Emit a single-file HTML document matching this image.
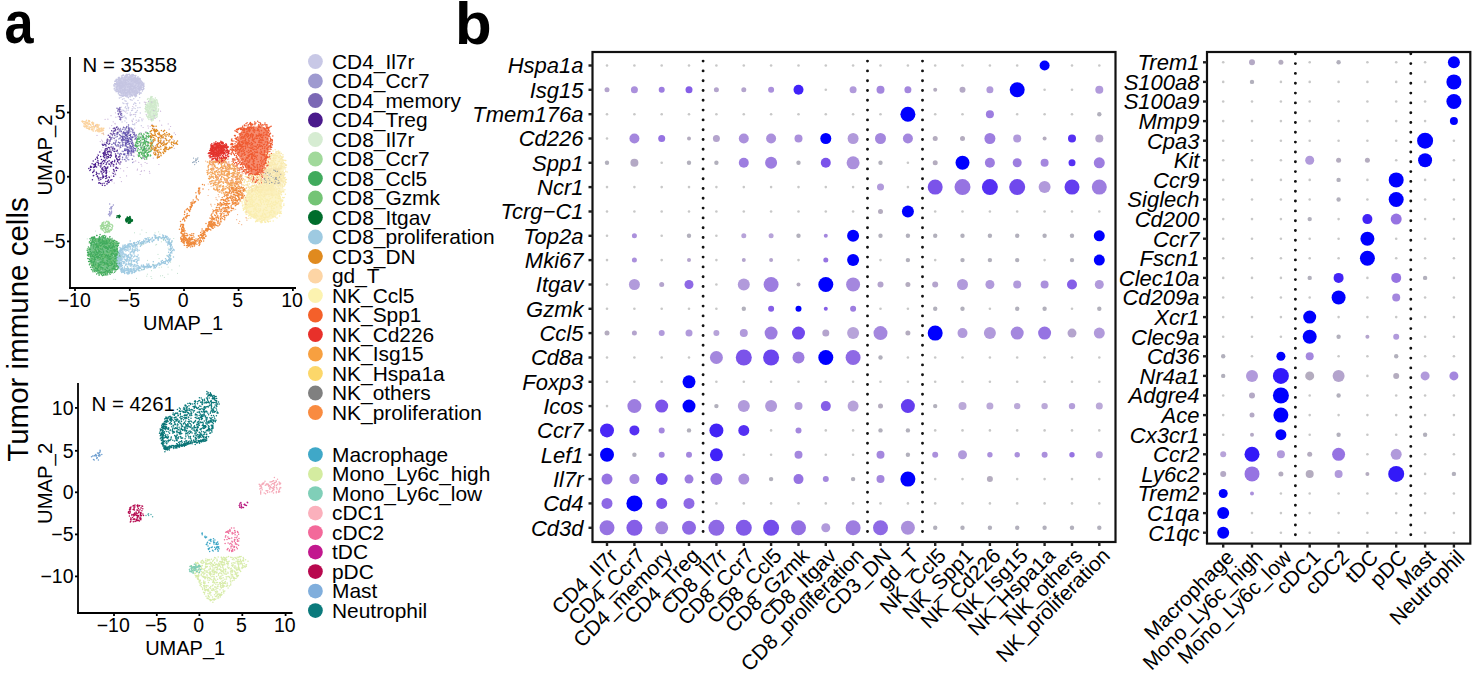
<!DOCTYPE html>
<html><head><meta charset="utf-8"><title>figure</title>
<style>html,body{margin:0;padding:0;background:#fff;overflow:hidden;} svg{display:block;} text{font-family:"Liberation Sans", sans-serif;}</style>
</head><body>
<svg width="1474" height="676" viewBox="0 0 1474 676" font-family='"Liberation Sans", sans-serif'>
<rect width="1474" height="676" fill="#fff"/>
<text transform="translate(4.6,43.4) scale(0.87,1)" font-size="60" font-weight="bold">a</text>
<text x="455.0" y="43.5" font-size="60" text-anchor="start" font-weight="bold" font-style="normal" fill="#000" >b</text>
<path d="M703.1 61.1h0M703.1 70.9h0M703.1 80.7h0M703.1 90.5h0M703.1 100.3h0M703.1 110.1h0M703.1 119.9h0M703.1 129.7h0M703.1 139.5h0M703.1 149.3h0M703.1 159.1h0M703.1 168.9h0M703.1 178.7h0M703.1 188.5h0M703.1 198.3h0M703.1 208.1h0M703.1 217.9h0M703.1 227.7h0M703.1 237.5h0M703.1 247.3h0M703.1 257.1h0M703.1 266.9h0M703.1 276.7h0M703.1 286.5h0M703.1 296.3h0M703.1 306.1h0M703.1 315.9h0M703.1 325.7h0M703.1 335.5h0M703.1 345.3h0M703.1 355.1h0M703.1 364.9h0M703.1 374.7h0M703.1 384.5h0M703.1 394.3h0M703.1 404.1h0M703.1 413.9h0M703.1 423.7h0M703.1 433.5h0M703.1 443.3h0M703.1 453.1h0M703.1 462.9h0M703.1 472.7h0M703.1 482.5h0M703.1 492.3h0M703.1 502.1h0M703.1 511.9h0M703.1 521.7h0M703.1 531.5h0" stroke="#111" stroke-width="2.9" stroke-linecap="round"/>
<path d="M867.5 61.1h0M867.5 70.9h0M867.5 80.7h0M867.5 90.5h0M867.5 100.3h0M867.5 110.1h0M867.5 119.9h0M867.5 129.7h0M867.5 139.5h0M867.5 149.3h0M867.5 159.1h0M867.5 168.9h0M867.5 178.7h0M867.5 188.5h0M867.5 198.3h0M867.5 208.1h0M867.5 217.9h0M867.5 227.7h0M867.5 237.5h0M867.5 247.3h0M867.5 257.1h0M867.5 266.9h0M867.5 276.7h0M867.5 286.5h0M867.5 296.3h0M867.5 306.1h0M867.5 315.9h0M867.5 325.7h0M867.5 335.5h0M867.5 345.3h0M867.5 355.1h0M867.5 364.9h0M867.5 374.7h0M867.5 384.5h0M867.5 394.3h0M867.5 404.1h0M867.5 413.9h0M867.5 423.7h0M867.5 433.5h0M867.5 443.3h0M867.5 453.1h0M867.5 462.9h0M867.5 472.7h0M867.5 482.5h0M867.5 492.3h0M867.5 502.1h0M867.5 511.9h0M867.5 521.7h0M867.5 531.5h0" stroke="#111" stroke-width="2.9" stroke-linecap="round"/>
<path d="M922.5 61.1h0M922.5 70.9h0M922.5 80.7h0M922.5 90.5h0M922.5 100.3h0M922.5 110.1h0M922.5 119.9h0M922.5 129.7h0M922.5 139.5h0M922.5 149.3h0M922.5 159.1h0M922.5 168.9h0M922.5 178.7h0M922.5 188.5h0M922.5 198.3h0M922.5 208.1h0M922.5 217.9h0M922.5 227.7h0M922.5 237.5h0M922.5 247.3h0M922.5 257.1h0M922.5 266.9h0M922.5 276.7h0M922.5 286.5h0M922.5 296.3h0M922.5 306.1h0M922.5 315.9h0M922.5 325.7h0M922.5 335.5h0M922.5 345.3h0M922.5 355.1h0M922.5 364.9h0M922.5 374.7h0M922.5 384.5h0M922.5 394.3h0M922.5 404.1h0M922.5 413.9h0M922.5 423.7h0M922.5 433.5h0M922.5 443.3h0M922.5 453.1h0M922.5 462.9h0M922.5 472.7h0M922.5 482.5h0M922.5 492.3h0M922.5 502.1h0M922.5 511.9h0M922.5 521.7h0M922.5 531.5h0" stroke="#111" stroke-width="2.9" stroke-linecap="round"/>
<circle cx="607.0" cy="65.5" r="1.3" fill="#c8c8c8"/>
<circle cx="634.4" cy="65.5" r="1.3" fill="#c8c8c8"/>
<circle cx="661.7" cy="65.5" r="1.3" fill="#c8c8c8"/>
<circle cx="689.0" cy="65.5" r="1.3" fill="#c8c8c8"/>
<circle cx="716.4" cy="65.5" r="1.3" fill="#c8c8c8"/>
<circle cx="743.8" cy="65.5" r="1.3" fill="#c8c8c8"/>
<circle cx="771.1" cy="65.5" r="1.3" fill="#c8c8c8"/>
<circle cx="798.5" cy="65.5" r="1.3" fill="#c8c8c8"/>
<circle cx="825.8" cy="65.5" r="1.3" fill="#c8c8c8"/>
<circle cx="853.1" cy="65.5" r="1.3" fill="#c8c8c8"/>
<circle cx="880.5" cy="65.5" r="1.3" fill="#c8c8c8"/>
<circle cx="907.9" cy="65.5" r="1.3" fill="#c8c8c8"/>
<circle cx="935.2" cy="65.5" r="1.3" fill="#c8c8c8"/>
<circle cx="962.5" cy="65.5" r="1.3" fill="#c8c8c8"/>
<circle cx="989.9" cy="65.5" r="1.3" fill="#c8c8c8"/>
<circle cx="1017.2" cy="65.5" r="1.3" fill="#c8c8c8"/>
<circle cx="1044.6" cy="65.5" r="5" fill="#0000ff"/>
<circle cx="1072.0" cy="65.5" r="1.3" fill="#c8c8c8"/>
<circle cx="1099.3" cy="65.5" r="1.3" fill="#c8c8c8"/>
<circle cx="607.0" cy="89.8" r="2.5" fill="#b4a4cd"/>
<circle cx="634.4" cy="89.8" r="3.5" fill="#ab90dc"/>
<circle cx="661.7" cy="89.8" r="3" fill="#9d7de0"/>
<circle cx="689.0" cy="89.8" r="3.5" fill="#855ee7"/>
<circle cx="716.4" cy="89.8" r="2.5" fill="#b4a4cd"/>
<circle cx="743.8" cy="89.8" r="2.5" fill="#b4a4cd"/>
<circle cx="771.1" cy="89.8" r="3" fill="#ab90dc"/>
<circle cx="798.5" cy="89.8" r="5" fill="#4122f9"/>
<circle cx="825.8" cy="89.8" r="1.3" fill="#c8c8c8"/>
<circle cx="853.1" cy="89.8" r="3.5" fill="#b19adb"/>
<circle cx="880.5" cy="89.8" r="4" fill="#a487de"/>
<circle cx="907.9" cy="89.8" r="3.5" fill="#a487de"/>
<circle cx="935.2" cy="89.8" r="2" fill="#b4acbf"/>
<circle cx="962.5" cy="89.8" r="3" fill="#b4a9c5"/>
<circle cx="989.9" cy="89.8" r="3.5" fill="#b19adb"/>
<circle cx="1017.2" cy="89.8" r="7.5" fill="#0000ff"/>
<circle cx="1044.6" cy="89.8" r="1.3" fill="#c8c8c8"/>
<circle cx="1072.0" cy="89.8" r="1.3" fill="#c8c8c8"/>
<circle cx="1099.3" cy="89.8" r="4" fill="#b19adb"/>
<circle cx="607.0" cy="114.2" r="1.3" fill="#c8c8c8"/>
<circle cx="634.4" cy="114.2" r="1.3" fill="#c8c8c8"/>
<circle cx="661.7" cy="114.2" r="1.3" fill="#c8c8c8"/>
<circle cx="689.0" cy="114.2" r="1.3" fill="#c8c8c8"/>
<circle cx="716.4" cy="114.2" r="1.3" fill="#c8c8c8"/>
<circle cx="743.8" cy="114.2" r="1.3" fill="#c8c8c8"/>
<circle cx="771.1" cy="114.2" r="1.3" fill="#c8c8c8"/>
<circle cx="798.5" cy="114.2" r="1.3" fill="#c8c8c8"/>
<circle cx="825.8" cy="114.2" r="1.3" fill="#c8c8c8"/>
<circle cx="853.1" cy="114.2" r="1.3" fill="#c8c8c8"/>
<circle cx="880.5" cy="114.2" r="1.3" fill="#c8c8c8"/>
<circle cx="907.9" cy="114.2" r="7.5" fill="#0000ff"/>
<circle cx="935.2" cy="114.2" r="1.3" fill="#c8c8c8"/>
<circle cx="962.5" cy="114.2" r="1.3" fill="#c8c8c8"/>
<circle cx="989.9" cy="114.2" r="4" fill="#9d7de0"/>
<circle cx="1017.2" cy="114.2" r="1.3" fill="#c8c8c8"/>
<circle cx="1044.6" cy="114.2" r="1.3" fill="#c8c8c8"/>
<circle cx="1072.0" cy="114.2" r="1.3" fill="#c8c8c8"/>
<circle cx="1099.3" cy="114.2" r="2.2" fill="#b2b0bc"/>
<circle cx="607.0" cy="138.5" r="1.3" fill="#c8c8c8"/>
<circle cx="634.4" cy="138.5" r="5" fill="#a487de"/>
<circle cx="661.7" cy="138.5" r="3.5" fill="#9673e2"/>
<circle cx="689.0" cy="138.5" r="2" fill="#b4acbf"/>
<circle cx="716.4" cy="138.5" r="3.5" fill="#b4a4cd"/>
<circle cx="743.8" cy="138.5" r="5" fill="#ab90dc"/>
<circle cx="771.1" cy="138.5" r="5" fill="#ab90dc"/>
<circle cx="798.5" cy="138.5" r="4" fill="#ab90dc"/>
<circle cx="825.8" cy="138.5" r="5.5" fill="#0000ff"/>
<circle cx="853.1" cy="138.5" r="5.5" fill="#b19adb"/>
<circle cx="880.5" cy="138.5" r="5.5" fill="#a487de"/>
<circle cx="907.9" cy="138.5" r="5" fill="#a487de"/>
<circle cx="935.2" cy="138.5" r="2.5" fill="#b4acbf"/>
<circle cx="962.5" cy="138.5" r="2.5" fill="#b4acbf"/>
<circle cx="989.9" cy="138.5" r="5.5" fill="#9d7de0"/>
<circle cx="1017.2" cy="138.5" r="4" fill="#b19adb"/>
<circle cx="1044.6" cy="138.5" r="2" fill="#b4acbf"/>
<circle cx="1072.0" cy="138.5" r="4" fill="#5530f3"/>
<circle cx="1099.3" cy="138.5" r="4" fill="#b4a4cd"/>
<circle cx="607.0" cy="162.8" r="2.2" fill="#b2b0bc"/>
<circle cx="634.4" cy="162.8" r="4" fill="#b4a9c5"/>
<circle cx="661.7" cy="162.8" r="1.3" fill="#c8c8c8"/>
<circle cx="689.0" cy="162.8" r="2.2" fill="#b2b0bc"/>
<circle cx="716.4" cy="162.8" r="2.2" fill="#b2b0bc"/>
<circle cx="743.8" cy="162.8" r="5" fill="#9d7de0"/>
<circle cx="771.1" cy="162.8" r="6" fill="#9d7de0"/>
<circle cx="798.5" cy="162.8" r="2.2" fill="#b2b0bc"/>
<circle cx="825.8" cy="162.8" r="5" fill="#7b53ea"/>
<circle cx="853.1" cy="162.8" r="6.5" fill="#ab90dc"/>
<circle cx="880.5" cy="162.8" r="2.2" fill="#b2b0bc"/>
<circle cx="907.9" cy="162.8" r="1.3" fill="#c8c8c8"/>
<circle cx="935.2" cy="162.8" r="2.5" fill="#b4acbf"/>
<circle cx="962.5" cy="162.8" r="7" fill="#0000ff"/>
<circle cx="989.9" cy="162.8" r="5" fill="#9d7de0"/>
<circle cx="1017.2" cy="162.8" r="4.5" fill="#9d7de0"/>
<circle cx="1044.6" cy="162.8" r="4" fill="#a487de"/>
<circle cx="1072.0" cy="162.8" r="3.5" fill="#5530f3"/>
<circle cx="1099.3" cy="162.8" r="5.5" fill="#9d7de0"/>
<circle cx="607.0" cy="187.1" r="1.3" fill="#c8c8c8"/>
<circle cx="634.4" cy="187.1" r="1.3" fill="#c8c8c8"/>
<circle cx="661.7" cy="187.1" r="1.3" fill="#c8c8c8"/>
<circle cx="689.0" cy="187.1" r="1.3" fill="#c8c8c8"/>
<circle cx="716.4" cy="187.1" r="1.3" fill="#c8c8c8"/>
<circle cx="743.8" cy="187.1" r="1.3" fill="#c8c8c8"/>
<circle cx="771.1" cy="187.1" r="1.3" fill="#c8c8c8"/>
<circle cx="798.5" cy="187.1" r="1.3" fill="#c8c8c8"/>
<circle cx="825.8" cy="187.1" r="1.3" fill="#c8c8c8"/>
<circle cx="853.1" cy="187.1" r="1.3" fill="#c8c8c8"/>
<circle cx="880.5" cy="187.1" r="3.5" fill="#b19adb"/>
<circle cx="907.9" cy="187.1" r="1.3" fill="#c8c8c8"/>
<circle cx="935.2" cy="187.1" r="7.5" fill="#7b53ea"/>
<circle cx="962.5" cy="187.1" r="8" fill="#9673e2"/>
<circle cx="989.9" cy="187.1" r="8" fill="#5530f3"/>
<circle cx="1017.2" cy="187.1" r="8" fill="#7048ed"/>
<circle cx="1044.6" cy="187.1" r="6" fill="#b19adb"/>
<circle cx="1072.0" cy="187.1" r="7.5" fill="#643def"/>
<circle cx="1099.3" cy="187.1" r="7.5" fill="#9d7de0"/>
<circle cx="607.0" cy="211.5" r="1.3" fill="#c8c8c8"/>
<circle cx="634.4" cy="211.5" r="1.3" fill="#c8c8c8"/>
<circle cx="661.7" cy="211.5" r="1.3" fill="#c8c8c8"/>
<circle cx="689.0" cy="211.5" r="1.3" fill="#c8c8c8"/>
<circle cx="716.4" cy="211.5" r="1.3" fill="#c8c8c8"/>
<circle cx="743.8" cy="211.5" r="1.3" fill="#c8c8c8"/>
<circle cx="771.1" cy="211.5" r="1.3" fill="#c8c8c8"/>
<circle cx="798.5" cy="211.5" r="1.3" fill="#c8c8c8"/>
<circle cx="825.8" cy="211.5" r="1.3" fill="#c8c8c8"/>
<circle cx="853.1" cy="211.5" r="1.3" fill="#c8c8c8"/>
<circle cx="880.5" cy="211.5" r="2.5" fill="#b4acbf"/>
<circle cx="907.9" cy="211.5" r="6" fill="#0000ff"/>
<circle cx="935.2" cy="211.5" r="1.3" fill="#c8c8c8"/>
<circle cx="962.5" cy="211.5" r="1.3" fill="#c8c8c8"/>
<circle cx="989.9" cy="211.5" r="1.3" fill="#c8c8c8"/>
<circle cx="1017.2" cy="211.5" r="1.3" fill="#c8c8c8"/>
<circle cx="1044.6" cy="211.5" r="1.3" fill="#c8c8c8"/>
<circle cx="1072.0" cy="211.5" r="1.3" fill="#c8c8c8"/>
<circle cx="1099.3" cy="211.5" r="1.3" fill="#c8c8c8"/>
<circle cx="607.0" cy="235.8" r="1.3" fill="#c8c8c8"/>
<circle cx="634.4" cy="235.8" r="2.5" fill="#ab90dc"/>
<circle cx="661.7" cy="235.8" r="1.3" fill="#c8c8c8"/>
<circle cx="689.0" cy="235.8" r="2.2" fill="#b2b0bc"/>
<circle cx="716.4" cy="235.8" r="1.3" fill="#c8c8c8"/>
<circle cx="743.8" cy="235.8" r="2.5" fill="#b7a3d9"/>
<circle cx="771.1" cy="235.8" r="2.5" fill="#b7a3d9"/>
<circle cx="798.5" cy="235.8" r="2.2" fill="#b2b0bc"/>
<circle cx="825.8" cy="235.8" r="2" fill="#a487de"/>
<circle cx="853.1" cy="235.8" r="6" fill="#0000ff"/>
<circle cx="880.5" cy="235.8" r="2.2" fill="#b2b0bc"/>
<circle cx="907.9" cy="235.8" r="2.2" fill="#b2b0bc"/>
<circle cx="935.2" cy="235.8" r="2.2" fill="#b2b0bc"/>
<circle cx="962.5" cy="235.8" r="2.2" fill="#b2b0bc"/>
<circle cx="989.9" cy="235.8" r="2.2" fill="#b2b0bc"/>
<circle cx="1017.2" cy="235.8" r="2.2" fill="#b2b0bc"/>
<circle cx="1044.6" cy="235.8" r="2.2" fill="#b2b0bc"/>
<circle cx="1072.0" cy="235.8" r="2.2" fill="#b2b0bc"/>
<circle cx="1099.3" cy="235.8" r="5.5" fill="#0000ff"/>
<circle cx="607.0" cy="260.1" r="1.3" fill="#c8c8c8"/>
<circle cx="634.4" cy="260.1" r="2.5" fill="#ab90dc"/>
<circle cx="661.7" cy="260.1" r="1.3" fill="#c8c8c8"/>
<circle cx="689.0" cy="260.1" r="2" fill="#b4a4cd"/>
<circle cx="716.4" cy="260.1" r="1.3" fill="#c8c8c8"/>
<circle cx="743.8" cy="260.1" r="2" fill="#b4a4cd"/>
<circle cx="771.1" cy="260.1" r="2" fill="#b4a4cd"/>
<circle cx="798.5" cy="260.1" r="1.3" fill="#c8c8c8"/>
<circle cx="825.8" cy="260.1" r="2.5" fill="#9673e2"/>
<circle cx="853.1" cy="260.1" r="6" fill="#0000ff"/>
<circle cx="880.5" cy="260.1" r="1.3" fill="#c8c8c8"/>
<circle cx="907.9" cy="260.1" r="2.2" fill="#b2b0bc"/>
<circle cx="935.2" cy="260.1" r="1.3" fill="#c8c8c8"/>
<circle cx="962.5" cy="260.1" r="2.2" fill="#b2b0bc"/>
<circle cx="989.9" cy="260.1" r="2.2" fill="#b2b0bc"/>
<circle cx="1017.2" cy="260.1" r="2.2" fill="#b2b0bc"/>
<circle cx="1044.6" cy="260.1" r="1.3" fill="#c8c8c8"/>
<circle cx="1072.0" cy="260.1" r="2.2" fill="#b2b0bc"/>
<circle cx="1099.3" cy="260.1" r="5.5" fill="#0000ff"/>
<circle cx="607.0" cy="284.5" r="1.3" fill="#c8c8c8"/>
<circle cx="634.4" cy="284.5" r="5.5" fill="#b19adb"/>
<circle cx="661.7" cy="284.5" r="2.5" fill="#b4a4cd"/>
<circle cx="689.0" cy="284.5" r="4.5" fill="#8e69e5"/>
<circle cx="716.4" cy="284.5" r="1.3" fill="#c8c8c8"/>
<circle cx="743.8" cy="284.5" r="6" fill="#b19adb"/>
<circle cx="771.1" cy="284.5" r="7.5" fill="#9d7de0"/>
<circle cx="798.5" cy="284.5" r="2" fill="#b4acbf"/>
<circle cx="825.8" cy="284.5" r="7.5" fill="#0000ff"/>
<circle cx="853.1" cy="284.5" r="7" fill="#a487de"/>
<circle cx="880.5" cy="284.5" r="3" fill="#b4a4cd"/>
<circle cx="907.9" cy="284.5" r="2.5" fill="#b4acbf"/>
<circle cx="935.2" cy="284.5" r="3" fill="#b4a4cd"/>
<circle cx="962.5" cy="284.5" r="5.5" fill="#b19adb"/>
<circle cx="989.9" cy="284.5" r="4.5" fill="#b19adb"/>
<circle cx="1017.2" cy="284.5" r="4" fill="#b19adb"/>
<circle cx="1044.6" cy="284.5" r="4" fill="#ab90dc"/>
<circle cx="1072.0" cy="284.5" r="5" fill="#855ee7"/>
<circle cx="1099.3" cy="284.5" r="4.5" fill="#b19adb"/>
<circle cx="607.0" cy="308.8" r="1.3" fill="#c8c8c8"/>
<circle cx="634.4" cy="308.8" r="1.3" fill="#c8c8c8"/>
<circle cx="661.7" cy="308.8" r="1.3" fill="#c8c8c8"/>
<circle cx="689.0" cy="308.8" r="1.3" fill="#c8c8c8"/>
<circle cx="716.4" cy="308.8" r="1.3" fill="#c8c8c8"/>
<circle cx="743.8" cy="308.8" r="2.2" fill="#b2b0bc"/>
<circle cx="771.1" cy="308.8" r="3" fill="#855ee7"/>
<circle cx="798.5" cy="308.8" r="3" fill="#0000ff"/>
<circle cx="825.8" cy="308.8" r="2" fill="#855ee7"/>
<circle cx="853.1" cy="308.8" r="3" fill="#9d7de0"/>
<circle cx="880.5" cy="308.8" r="1.3" fill="#c8c8c8"/>
<circle cx="907.9" cy="308.8" r="1.3" fill="#c8c8c8"/>
<circle cx="935.2" cy="308.8" r="2.2" fill="#b2b0bc"/>
<circle cx="962.5" cy="308.8" r="2.2" fill="#b2b0bc"/>
<circle cx="989.9" cy="308.8" r="1.3" fill="#c8c8c8"/>
<circle cx="1017.2" cy="308.8" r="2.2" fill="#b2b0bc"/>
<circle cx="1044.6" cy="308.8" r="2.2" fill="#b2b0bc"/>
<circle cx="1072.0" cy="308.8" r="1.3" fill="#c8c8c8"/>
<circle cx="1099.3" cy="308.8" r="2.2" fill="#b2b0bc"/>
<circle cx="607.0" cy="333.1" r="2.5" fill="#b4acbf"/>
<circle cx="634.4" cy="333.1" r="2.5" fill="#b4a4cd"/>
<circle cx="661.7" cy="333.1" r="3" fill="#b19adb"/>
<circle cx="689.0" cy="333.1" r="3.5" fill="#b19adb"/>
<circle cx="716.4" cy="333.1" r="3" fill="#b7a3d9"/>
<circle cx="743.8" cy="333.1" r="4" fill="#b19adb"/>
<circle cx="771.1" cy="333.1" r="6.5" fill="#9d7de0"/>
<circle cx="798.5" cy="333.1" r="6.5" fill="#7048ed"/>
<circle cx="825.8" cy="333.1" r="3.5" fill="#b4a4cd"/>
<circle cx="853.1" cy="333.1" r="6" fill="#b7a3d9"/>
<circle cx="880.5" cy="333.1" r="7" fill="#a487de"/>
<circle cx="907.9" cy="333.1" r="2.5" fill="#b4acbf"/>
<circle cx="935.2" cy="333.1" r="7.5" fill="#0000ff"/>
<circle cx="962.5" cy="333.1" r="5" fill="#b19adb"/>
<circle cx="989.9" cy="333.1" r="6" fill="#b19adb"/>
<circle cx="1017.2" cy="333.1" r="6.5" fill="#a487de"/>
<circle cx="1044.6" cy="333.1" r="6.5" fill="#9673e2"/>
<circle cx="1072.0" cy="333.1" r="4.5" fill="#b4a4cd"/>
<circle cx="1099.3" cy="333.1" r="5.5" fill="#b19adb"/>
<circle cx="607.0" cy="357.5" r="1.3" fill="#c8c8c8"/>
<circle cx="634.4" cy="357.5" r="1.3" fill="#c8c8c8"/>
<circle cx="661.7" cy="357.5" r="1.3" fill="#c8c8c8"/>
<circle cx="689.0" cy="357.5" r="1.3" fill="#c8c8c8"/>
<circle cx="716.4" cy="357.5" r="6.5" fill="#a487de"/>
<circle cx="743.8" cy="357.5" r="8" fill="#7b53ea"/>
<circle cx="771.1" cy="357.5" r="8" fill="#6b44ee"/>
<circle cx="798.5" cy="357.5" r="6" fill="#9d7de0"/>
<circle cx="825.8" cy="357.5" r="7.5" fill="#0000ff"/>
<circle cx="853.1" cy="357.5" r="7.5" fill="#8e69e5"/>
<circle cx="880.5" cy="357.5" r="2.2" fill="#b2b0bc"/>
<circle cx="907.9" cy="357.5" r="1.3" fill="#c8c8c8"/>
<circle cx="935.2" cy="357.5" r="1.3" fill="#c8c8c8"/>
<circle cx="962.5" cy="357.5" r="1.3" fill="#c8c8c8"/>
<circle cx="989.9" cy="357.5" r="1.3" fill="#c8c8c8"/>
<circle cx="1017.2" cy="357.5" r="1.3" fill="#c8c8c8"/>
<circle cx="1044.6" cy="357.5" r="1.3" fill="#c8c8c8"/>
<circle cx="1072.0" cy="357.5" r="1.3" fill="#c8c8c8"/>
<circle cx="1099.3" cy="357.5" r="1.3" fill="#c8c8c8"/>
<circle cx="607.0" cy="381.8" r="1.3" fill="#c8c8c8"/>
<circle cx="634.4" cy="381.8" r="1.3" fill="#c8c8c8"/>
<circle cx="661.7" cy="381.8" r="1.3" fill="#c8c8c8"/>
<circle cx="689.0" cy="381.8" r="6.5" fill="#0000ff"/>
<circle cx="716.4" cy="381.8" r="1.3" fill="#c8c8c8"/>
<circle cx="743.8" cy="381.8" r="1.3" fill="#c8c8c8"/>
<circle cx="771.1" cy="381.8" r="1.3" fill="#c8c8c8"/>
<circle cx="798.5" cy="381.8" r="1.3" fill="#c8c8c8"/>
<circle cx="825.8" cy="381.8" r="1.3" fill="#c8c8c8"/>
<circle cx="853.1" cy="381.8" r="1.3" fill="#c8c8c8"/>
<circle cx="880.5" cy="381.8" r="1.3" fill="#c8c8c8"/>
<circle cx="907.9" cy="381.8" r="1.3" fill="#c8c8c8"/>
<circle cx="935.2" cy="381.8" r="1.3" fill="#c8c8c8"/>
<circle cx="962.5" cy="381.8" r="1.3" fill="#c8c8c8"/>
<circle cx="989.9" cy="381.8" r="1.3" fill="#c8c8c8"/>
<circle cx="1017.2" cy="381.8" r="1.3" fill="#c8c8c8"/>
<circle cx="1044.6" cy="381.8" r="1.3" fill="#c8c8c8"/>
<circle cx="1072.0" cy="381.8" r="1.3" fill="#c8c8c8"/>
<circle cx="1099.3" cy="381.8" r="1.3" fill="#c8c8c8"/>
<circle cx="607.0" cy="406.1" r="1.3" fill="#c8c8c8"/>
<circle cx="634.4" cy="406.1" r="7" fill="#9d7de0"/>
<circle cx="661.7" cy="406.1" r="6.5" fill="#7b53ea"/>
<circle cx="689.0" cy="406.1" r="6.5" fill="#0000ff"/>
<circle cx="716.4" cy="406.1" r="2.2" fill="#b2b0bc"/>
<circle cx="743.8" cy="406.1" r="6" fill="#b19adb"/>
<circle cx="771.1" cy="406.1" r="6" fill="#b19adb"/>
<circle cx="798.5" cy="406.1" r="4" fill="#b19adb"/>
<circle cx="825.8" cy="406.1" r="5" fill="#855ee7"/>
<circle cx="853.1" cy="406.1" r="5.5" fill="#b7a3d9"/>
<circle cx="880.5" cy="406.1" r="2.5" fill="#b4acbf"/>
<circle cx="907.9" cy="406.1" r="7" fill="#643def"/>
<circle cx="935.2" cy="406.1" r="2.2" fill="#b2b0bc"/>
<circle cx="962.5" cy="406.1" r="4" fill="#bba9d8"/>
<circle cx="989.9" cy="406.1" r="3.5" fill="#bba9d8"/>
<circle cx="1017.2" cy="406.1" r="3.2" fill="#bba9d8"/>
<circle cx="1044.6" cy="406.1" r="3.2" fill="#bba9d8"/>
<circle cx="1072.0" cy="406.1" r="3.2" fill="#b49eda"/>
<circle cx="1099.3" cy="406.1" r="3.5" fill="#bba9d8"/>
<circle cx="607.0" cy="430.4" r="7" fill="#4927f7"/>
<circle cx="634.4" cy="430.4" r="5" fill="#5530f3"/>
<circle cx="661.7" cy="430.4" r="3" fill="#a487de"/>
<circle cx="689.0" cy="430.4" r="2.2" fill="#b2b0bc"/>
<circle cx="716.4" cy="430.4" r="7" fill="#4223f6"/>
<circle cx="743.8" cy="430.4" r="5.5" fill="#5530f3"/>
<circle cx="771.1" cy="430.4" r="1.3" fill="#c8c8c8"/>
<circle cx="798.5" cy="430.4" r="3" fill="#a487de"/>
<circle cx="825.8" cy="430.4" r="1.3" fill="#c8c8c8"/>
<circle cx="853.1" cy="430.4" r="1.3" fill="#c8c8c8"/>
<circle cx="880.5" cy="430.4" r="2.2" fill="#b2b0bc"/>
<circle cx="907.9" cy="430.4" r="2.2" fill="#b2b0bc"/>
<circle cx="935.2" cy="430.4" r="1.3" fill="#c8c8c8"/>
<circle cx="962.5" cy="430.4" r="1.3" fill="#c8c8c8"/>
<circle cx="989.9" cy="430.4" r="1.3" fill="#c8c8c8"/>
<circle cx="1017.2" cy="430.4" r="1.3" fill="#c8c8c8"/>
<circle cx="1044.6" cy="430.4" r="1.3" fill="#c8c8c8"/>
<circle cx="1072.0" cy="430.4" r="1.3" fill="#c8c8c8"/>
<circle cx="1099.3" cy="430.4" r="1.3" fill="#c8c8c8"/>
<circle cx="607.0" cy="454.8" r="7" fill="#0000ff"/>
<circle cx="634.4" cy="454.8" r="2.2" fill="#b2b0bc"/>
<circle cx="661.7" cy="454.8" r="3" fill="#a487de"/>
<circle cx="689.0" cy="454.8" r="3" fill="#a487de"/>
<circle cx="716.4" cy="454.8" r="6.5" fill="#4122f9"/>
<circle cx="743.8" cy="454.8" r="1.3" fill="#c8c8c8"/>
<circle cx="771.1" cy="454.8" r="1.3" fill="#c8c8c8"/>
<circle cx="798.5" cy="454.8" r="4" fill="#a487de"/>
<circle cx="825.8" cy="454.8" r="1.3" fill="#c8c8c8"/>
<circle cx="853.1" cy="454.8" r="1.3" fill="#c8c8c8"/>
<circle cx="880.5" cy="454.8" r="4" fill="#a487de"/>
<circle cx="907.9" cy="454.8" r="2.2" fill="#b2b0bc"/>
<circle cx="935.2" cy="454.8" r="3" fill="#ab90dc"/>
<circle cx="962.5" cy="454.8" r="4.5" fill="#b19adb"/>
<circle cx="989.9" cy="454.8" r="2.7" fill="#ab90dc"/>
<circle cx="1017.2" cy="454.8" r="2.7" fill="#ab90dc"/>
<circle cx="1044.6" cy="454.8" r="3" fill="#ab90dc"/>
<circle cx="1072.0" cy="454.8" r="2.7" fill="#9673e2"/>
<circle cx="1099.3" cy="454.8" r="3.5" fill="#b49eda"/>
<circle cx="607.0" cy="479.1" r="5.5" fill="#9673e2"/>
<circle cx="634.4" cy="479.1" r="5" fill="#a487de"/>
<circle cx="661.7" cy="479.1" r="6" fill="#6b44ee"/>
<circle cx="689.0" cy="479.1" r="4.5" fill="#9d7de0"/>
<circle cx="716.4" cy="479.1" r="6" fill="#9673e2"/>
<circle cx="743.8" cy="479.1" r="5.5" fill="#ab90dc"/>
<circle cx="771.1" cy="479.1" r="2.2" fill="#b2b0bc"/>
<circle cx="798.5" cy="479.1" r="5" fill="#9673e2"/>
<circle cx="825.8" cy="479.1" r="3" fill="#a487de"/>
<circle cx="853.1" cy="479.1" r="2.2" fill="#b2b0bc"/>
<circle cx="880.5" cy="479.1" r="4" fill="#a487de"/>
<circle cx="907.9" cy="479.1" r="7.5" fill="#0000ff"/>
<circle cx="935.2" cy="479.1" r="1.3" fill="#c8c8c8"/>
<circle cx="962.5" cy="479.1" r="1.3" fill="#c8c8c8"/>
<circle cx="989.9" cy="479.1" r="3" fill="#b4acbf"/>
<circle cx="1017.2" cy="479.1" r="1.3" fill="#c8c8c8"/>
<circle cx="1044.6" cy="479.1" r="1.3" fill="#c8c8c8"/>
<circle cx="1072.0" cy="479.1" r="1.3" fill="#c8c8c8"/>
<circle cx="1099.3" cy="479.1" r="1.3" fill="#c8c8c8"/>
<circle cx="607.0" cy="503.4" r="5.5" fill="#8e69e5"/>
<circle cx="634.4" cy="503.4" r="8" fill="#0000ff"/>
<circle cx="661.7" cy="503.4" r="5.5" fill="#7b53ea"/>
<circle cx="689.0" cy="503.4" r="5.5" fill="#8e69e5"/>
<circle cx="716.4" cy="503.4" r="1.3" fill="#c8c8c8"/>
<circle cx="743.8" cy="503.4" r="1.3" fill="#c8c8c8"/>
<circle cx="771.1" cy="503.4" r="1.3" fill="#c8c8c8"/>
<circle cx="798.5" cy="503.4" r="1.3" fill="#c8c8c8"/>
<circle cx="825.8" cy="503.4" r="1.3" fill="#c8c8c8"/>
<circle cx="853.1" cy="503.4" r="1.3" fill="#c8c8c8"/>
<circle cx="880.5" cy="503.4" r="1.3" fill="#c8c8c8"/>
<circle cx="907.9" cy="503.4" r="1.3" fill="#c8c8c8"/>
<circle cx="935.2" cy="503.4" r="1.3" fill="#c8c8c8"/>
<circle cx="962.5" cy="503.4" r="1.3" fill="#c8c8c8"/>
<circle cx="989.9" cy="503.4" r="1.3" fill="#c8c8c8"/>
<circle cx="1017.2" cy="503.4" r="1.3" fill="#c8c8c8"/>
<circle cx="1044.6" cy="503.4" r="1.3" fill="#c8c8c8"/>
<circle cx="1072.0" cy="503.4" r="1.3" fill="#c8c8c8"/>
<circle cx="1099.3" cy="503.4" r="1.3" fill="#c8c8c8"/>
<circle cx="607.0" cy="527.8" r="7.5" fill="#9673e2"/>
<circle cx="634.4" cy="527.8" r="8" fill="#855ee7"/>
<circle cx="661.7" cy="527.8" r="6.5" fill="#a487de"/>
<circle cx="689.0" cy="527.8" r="7" fill="#8e69e5"/>
<circle cx="716.4" cy="527.8" r="8" fill="#8e69e5"/>
<circle cx="743.8" cy="527.8" r="8" fill="#815ae8"/>
<circle cx="771.1" cy="527.8" r="8" fill="#744deb"/>
<circle cx="798.5" cy="527.8" r="7.5" fill="#936fe3"/>
<circle cx="825.8" cy="527.8" r="4.5" fill="#b19adb"/>
<circle cx="853.1" cy="527.8" r="7.5" fill="#9d7de0"/>
<circle cx="880.5" cy="527.8" r="7.5" fill="#8e69e5"/>
<circle cx="907.9" cy="527.8" r="7" fill="#ab90dc"/>
<circle cx="935.2" cy="527.8" r="2.2" fill="#b2b0bc"/>
<circle cx="962.5" cy="527.8" r="2.2" fill="#b2b0bc"/>
<circle cx="989.9" cy="527.8" r="2.2" fill="#b2b0bc"/>
<circle cx="1017.2" cy="527.8" r="2.2" fill="#b2b0bc"/>
<circle cx="1044.6" cy="527.8" r="2.2" fill="#b2b0bc"/>
<circle cx="1072.0" cy="527.8" r="2.2" fill="#b2b0bc"/>
<circle cx="1099.3" cy="527.8" r="2.2" fill="#b2b0bc"/>
<rect x="592.5" y="52" width="523.0" height="490" fill="none" stroke="#111" stroke-width="2.2"/>
<line x1="588.5" y1="65.5" x2="592.5" y2="65.5" stroke="#222" stroke-width="2.4" />
<line x1="588.5" y1="89.8" x2="592.5" y2="89.8" stroke="#222" stroke-width="2.4" />
<line x1="588.5" y1="114.2" x2="592.5" y2="114.2" stroke="#222" stroke-width="2.4" />
<line x1="588.5" y1="138.5" x2="592.5" y2="138.5" stroke="#222" stroke-width="2.4" />
<line x1="588.5" y1="162.8" x2="592.5" y2="162.8" stroke="#222" stroke-width="2.4" />
<line x1="588.5" y1="187.1" x2="592.5" y2="187.1" stroke="#222" stroke-width="2.4" />
<line x1="588.5" y1="211.5" x2="592.5" y2="211.5" stroke="#222" stroke-width="2.4" />
<line x1="588.5" y1="235.8" x2="592.5" y2="235.8" stroke="#222" stroke-width="2.4" />
<line x1="588.5" y1="260.1" x2="592.5" y2="260.1" stroke="#222" stroke-width="2.4" />
<line x1="588.5" y1="284.5" x2="592.5" y2="284.5" stroke="#222" stroke-width="2.4" />
<line x1="588.5" y1="308.8" x2="592.5" y2="308.8" stroke="#222" stroke-width="2.4" />
<line x1="588.5" y1="333.1" x2="592.5" y2="333.1" stroke="#222" stroke-width="2.4" />
<line x1="588.5" y1="357.5" x2="592.5" y2="357.5" stroke="#222" stroke-width="2.4" />
<line x1="588.5" y1="381.8" x2="592.5" y2="381.8" stroke="#222" stroke-width="2.4" />
<line x1="588.5" y1="406.1" x2="592.5" y2="406.1" stroke="#222" stroke-width="2.4" />
<line x1="588.5" y1="430.4" x2="592.5" y2="430.4" stroke="#222" stroke-width="2.4" />
<line x1="588.5" y1="454.8" x2="592.5" y2="454.8" stroke="#222" stroke-width="2.4" />
<line x1="588.5" y1="479.1" x2="592.5" y2="479.1" stroke="#222" stroke-width="2.4" />
<line x1="588.5" y1="503.4" x2="592.5" y2="503.4" stroke="#222" stroke-width="2.4" />
<line x1="588.5" y1="527.8" x2="592.5" y2="527.8" stroke="#222" stroke-width="2.4" />
<line x1="607.0" y1="542.0" x2="607.0" y2="546.0" stroke="#222" stroke-width="2.4" />
<line x1="634.4" y1="542.0" x2="634.4" y2="546.0" stroke="#222" stroke-width="2.4" />
<line x1="661.7" y1="542.0" x2="661.7" y2="546.0" stroke="#222" stroke-width="2.4" />
<line x1="689.0" y1="542.0" x2="689.0" y2="546.0" stroke="#222" stroke-width="2.4" />
<line x1="716.4" y1="542.0" x2="716.4" y2="546.0" stroke="#222" stroke-width="2.4" />
<line x1="743.8" y1="542.0" x2="743.8" y2="546.0" stroke="#222" stroke-width="2.4" />
<line x1="771.1" y1="542.0" x2="771.1" y2="546.0" stroke="#222" stroke-width="2.4" />
<line x1="798.5" y1="542.0" x2="798.5" y2="546.0" stroke="#222" stroke-width="2.4" />
<line x1="825.8" y1="542.0" x2="825.8" y2="546.0" stroke="#222" stroke-width="2.4" />
<line x1="853.1" y1="542.0" x2="853.1" y2="546.0" stroke="#222" stroke-width="2.4" />
<line x1="880.5" y1="542.0" x2="880.5" y2="546.0" stroke="#222" stroke-width="2.4" />
<line x1="907.9" y1="542.0" x2="907.9" y2="546.0" stroke="#222" stroke-width="2.4" />
<line x1="935.2" y1="542.0" x2="935.2" y2="546.0" stroke="#222" stroke-width="2.4" />
<line x1="962.5" y1="542.0" x2="962.5" y2="546.0" stroke="#222" stroke-width="2.4" />
<line x1="989.9" y1="542.0" x2="989.9" y2="546.0" stroke="#222" stroke-width="2.4" />
<line x1="1017.2" y1="542.0" x2="1017.2" y2="546.0" stroke="#222" stroke-width="2.4" />
<line x1="1044.6" y1="542.0" x2="1044.6" y2="546.0" stroke="#222" stroke-width="2.4" />
<line x1="1072.0" y1="542.0" x2="1072.0" y2="546.0" stroke="#222" stroke-width="2.4" />
<line x1="1099.3" y1="542.0" x2="1099.3" y2="546.0" stroke="#222" stroke-width="2.4" />
<text x="583.5" y="73.3" font-size="22" text-anchor="end" font-weight="normal" font-style="italic" fill="#000" >Hspa1a</text>
<text x="583.5" y="97.6" font-size="22" text-anchor="end" font-weight="normal" font-style="italic" fill="#000" >Isg15</text>
<text x="583.5" y="122.0" font-size="22" text-anchor="end" font-weight="normal" font-style="italic" fill="#000" >Tmem176a</text>
<text x="583.5" y="146.3" font-size="22" text-anchor="end" font-weight="normal" font-style="italic" fill="#000" >Cd226</text>
<text x="583.5" y="170.6" font-size="22" text-anchor="end" font-weight="normal" font-style="italic" fill="#000" >Spp1</text>
<text x="583.5" y="194.9" font-size="22" text-anchor="end" font-weight="normal" font-style="italic" fill="#000" >Ncr1</text>
<text x="583.5" y="219.3" font-size="22" text-anchor="end" font-weight="normal" font-style="italic" fill="#000" >Tcrg−C1</text>
<text x="583.5" y="243.6" font-size="22" text-anchor="end" font-weight="normal" font-style="italic" fill="#000" >Top2a</text>
<text x="583.5" y="267.9" font-size="22" text-anchor="end" font-weight="normal" font-style="italic" fill="#000" >Mki67</text>
<text x="583.5" y="292.3" font-size="22" text-anchor="end" font-weight="normal" font-style="italic" fill="#000" >Itgav</text>
<text x="583.5" y="316.6" font-size="22" text-anchor="end" font-weight="normal" font-style="italic" fill="#000" >Gzmk</text>
<text x="583.5" y="340.9" font-size="22" text-anchor="end" font-weight="normal" font-style="italic" fill="#000" >Ccl5</text>
<text x="583.5" y="365.3" font-size="22" text-anchor="end" font-weight="normal" font-style="italic" fill="#000" >Cd8a</text>
<text x="583.5" y="389.6" font-size="22" text-anchor="end" font-weight="normal" font-style="italic" fill="#000" >Foxp3</text>
<text x="583.5" y="413.9" font-size="22" text-anchor="end" font-weight="normal" font-style="italic" fill="#000" >Icos</text>
<text x="583.5" y="438.2" font-size="22" text-anchor="end" font-weight="normal" font-style="italic" fill="#000" >Ccr7</text>
<text x="583.5" y="462.6" font-size="22" text-anchor="end" font-weight="normal" font-style="italic" fill="#000" >Lef1</text>
<text x="583.5" y="486.9" font-size="22" text-anchor="end" font-weight="normal" font-style="italic" fill="#000" >Il7r</text>
<text x="583.5" y="511.2" font-size="22" text-anchor="end" font-weight="normal" font-style="italic" fill="#000" >Cd4</text>
<text x="583.5" y="535.6" font-size="22" text-anchor="end" font-weight="normal" font-style="italic" fill="#000" >Cd3d</text>
<text transform="translate(619.0,557.0) rotate(-45)" font-size="21" text-anchor="end">CD4_Il7r</text>
<text transform="translate(646.4,557.0) rotate(-45)" font-size="21" text-anchor="end">CD4_Ccr7</text>
<text transform="translate(673.7,557.0) rotate(-45)" font-size="21" text-anchor="end">CD4_memory</text>
<text transform="translate(701.0,557.0) rotate(-45)" font-size="21" text-anchor="end">CD4_Treg</text>
<text transform="translate(728.4,557.0) rotate(-45)" font-size="21" text-anchor="end">CD8_Il7r</text>
<text transform="translate(755.8,557.0) rotate(-45)" font-size="21" text-anchor="end">CD8_Ccr7</text>
<text transform="translate(783.1,557.0) rotate(-45)" font-size="21" text-anchor="end">CD8_Ccl5</text>
<text transform="translate(810.5,557.0) rotate(-45)" font-size="21" text-anchor="end">CD8_Gzmk</text>
<text transform="translate(837.8,557.0) rotate(-45)" font-size="21" text-anchor="end">CD8_Itgav</text>
<text transform="translate(865.1,557.0) rotate(-45)" font-size="21" text-anchor="end">CD8_proliferation</text>
<text transform="translate(892.5,557.0) rotate(-45)" font-size="21" text-anchor="end">CD3_DN</text>
<text transform="translate(919.9,557.0) rotate(-45)" font-size="21" text-anchor="end">gd_T</text>
<text transform="translate(947.2,557.0) rotate(-45)" font-size="21" text-anchor="end">NK_Ccl5</text>
<text transform="translate(974.5,557.0) rotate(-45)" font-size="21" text-anchor="end">NK_Spp1</text>
<text transform="translate(1001.9,557.0) rotate(-45)" font-size="21" text-anchor="end">NK_Cd226</text>
<text transform="translate(1029.2,557.0) rotate(-45)" font-size="21" text-anchor="end">NK_Isg15</text>
<text transform="translate(1056.6,557.0) rotate(-45)" font-size="21" text-anchor="end">NK_Hspa1a</text>
<text transform="translate(1084.0,557.0) rotate(-45)" font-size="21" text-anchor="end">NK_others</text>
<text transform="translate(1111.3,557.0) rotate(-45)" font-size="21" text-anchor="end">NK_proliferation</text>
<path d="M1295.4 53.8h0M1295.4 63.6h0M1295.4 73.4h0M1295.4 83.2h0M1295.4 93.1h0M1295.4 102.9h0M1295.4 112.7h0M1295.4 122.5h0M1295.4 132.3h0M1295.4 142.1h0M1295.4 152.0h0M1295.4 161.8h0M1295.4 171.6h0M1295.4 181.4h0M1295.4 191.2h0M1295.4 201.0h0M1295.4 210.9h0M1295.4 220.7h0M1295.4 230.5h0M1295.4 240.3h0M1295.4 250.1h0M1295.4 259.9h0M1295.4 269.8h0M1295.4 279.6h0M1295.4 289.4h0M1295.4 299.2h0M1295.4 309.0h0M1295.4 318.8h0M1295.4 328.6h0M1295.4 338.5h0M1295.4 348.3h0M1295.4 358.1h0M1295.4 367.9h0M1295.4 377.7h0M1295.4 387.5h0M1295.4 397.4h0M1295.4 407.2h0M1295.4 417.0h0M1295.4 426.8h0M1295.4 436.6h0M1295.4 446.4h0M1295.4 456.3h0M1295.4 466.1h0M1295.4 475.9h0M1295.4 485.7h0M1295.4 495.5h0M1295.4 505.3h0M1295.4 515.2h0M1295.4 525.0h0M1295.4 534.8h0" stroke="#111" stroke-width="2.9" stroke-linecap="round"/>
<path d="M1410.8 53.8h0M1410.8 63.6h0M1410.8 73.4h0M1410.8 83.2h0M1410.8 93.1h0M1410.8 102.9h0M1410.8 112.7h0M1410.8 122.5h0M1410.8 132.3h0M1410.8 142.1h0M1410.8 152.0h0M1410.8 161.8h0M1410.8 171.6h0M1410.8 181.4h0M1410.8 191.2h0M1410.8 201.0h0M1410.8 210.9h0M1410.8 220.7h0M1410.8 230.5h0M1410.8 240.3h0M1410.8 250.1h0M1410.8 259.9h0M1410.8 269.8h0M1410.8 279.6h0M1410.8 289.4h0M1410.8 299.2h0M1410.8 309.0h0M1410.8 318.8h0M1410.8 328.6h0M1410.8 338.5h0M1410.8 348.3h0M1410.8 358.1h0M1410.8 367.9h0M1410.8 377.7h0M1410.8 387.5h0M1410.8 397.4h0M1410.8 407.2h0M1410.8 417.0h0M1410.8 426.8h0M1410.8 436.6h0M1410.8 446.4h0M1410.8 456.3h0M1410.8 466.1h0M1410.8 475.9h0M1410.8 485.7h0M1410.8 495.5h0M1410.8 505.3h0M1410.8 515.2h0M1410.8 525.0h0M1410.8 534.8h0" stroke="#111" stroke-width="2.9" stroke-linecap="round"/>
<circle cx="1223.2" cy="62.3" r="1.3" fill="#c8c8c8"/>
<circle cx="1252.0" cy="62.3" r="3" fill="#b4a9c5"/>
<circle cx="1280.9" cy="62.3" r="2.5" fill="#b4acbf"/>
<circle cx="1309.7" cy="62.3" r="1.3" fill="#c8c8c8"/>
<circle cx="1338.6" cy="62.3" r="2.2" fill="#b2b0bc"/>
<circle cx="1367.4" cy="62.3" r="1.3" fill="#c8c8c8"/>
<circle cx="1396.2" cy="62.3" r="1.3" fill="#c8c8c8"/>
<circle cx="1425.1" cy="62.3" r="1.3" fill="#c8c8c8"/>
<circle cx="1453.9" cy="62.3" r="6" fill="#0000ff"/>
<circle cx="1223.2" cy="81.9" r="1.3" fill="#c8c8c8"/>
<circle cx="1252.0" cy="81.9" r="2.2" fill="#b2b0bc"/>
<circle cx="1280.9" cy="81.9" r="1.3" fill="#c8c8c8"/>
<circle cx="1309.7" cy="81.9" r="1.3" fill="#c8c8c8"/>
<circle cx="1338.6" cy="81.9" r="1.3" fill="#c8c8c8"/>
<circle cx="1367.4" cy="81.9" r="1.3" fill="#c8c8c8"/>
<circle cx="1396.2" cy="81.9" r="1.3" fill="#c8c8c8"/>
<circle cx="1425.1" cy="81.9" r="1.3" fill="#c8c8c8"/>
<circle cx="1453.9" cy="81.9" r="7.5" fill="#0000ff"/>
<circle cx="1223.2" cy="101.5" r="1.3" fill="#c8c8c8"/>
<circle cx="1252.0" cy="101.5" r="1.3" fill="#c8c8c8"/>
<circle cx="1280.9" cy="101.5" r="1.3" fill="#c8c8c8"/>
<circle cx="1309.7" cy="101.5" r="1.3" fill="#c8c8c8"/>
<circle cx="1338.6" cy="101.5" r="1.3" fill="#c8c8c8"/>
<circle cx="1367.4" cy="101.5" r="1.3" fill="#c8c8c8"/>
<circle cx="1396.2" cy="101.5" r="1.3" fill="#c8c8c8"/>
<circle cx="1425.1" cy="101.5" r="1.3" fill="#c8c8c8"/>
<circle cx="1453.9" cy="101.5" r="7.5" fill="#0000ff"/>
<circle cx="1223.2" cy="121.1" r="1.3" fill="#c8c8c8"/>
<circle cx="1252.0" cy="121.1" r="1.3" fill="#c8c8c8"/>
<circle cx="1280.9" cy="121.1" r="1.3" fill="#c8c8c8"/>
<circle cx="1309.7" cy="121.1" r="1.3" fill="#c8c8c8"/>
<circle cx="1338.6" cy="121.1" r="1.3" fill="#c8c8c8"/>
<circle cx="1367.4" cy="121.1" r="1.3" fill="#c8c8c8"/>
<circle cx="1396.2" cy="121.1" r="1.3" fill="#c8c8c8"/>
<circle cx="1425.1" cy="121.1" r="1.3" fill="#c8c8c8"/>
<circle cx="1453.9" cy="121.1" r="4" fill="#0000ff"/>
<circle cx="1223.2" cy="140.7" r="1.3" fill="#c8c8c8"/>
<circle cx="1252.0" cy="140.7" r="1.3" fill="#c8c8c8"/>
<circle cx="1280.9" cy="140.7" r="1.3" fill="#c8c8c8"/>
<circle cx="1309.7" cy="140.7" r="1.3" fill="#c8c8c8"/>
<circle cx="1338.6" cy="140.7" r="1.3" fill="#c8c8c8"/>
<circle cx="1367.4" cy="140.7" r="1.3" fill="#c8c8c8"/>
<circle cx="1396.2" cy="140.7" r="1.3" fill="#c8c8c8"/>
<circle cx="1425.1" cy="140.7" r="8" fill="#0000ff"/>
<circle cx="1453.9" cy="140.7" r="1.3" fill="#c8c8c8"/>
<circle cx="1223.2" cy="160.3" r="1.3" fill="#c8c8c8"/>
<circle cx="1252.0" cy="160.3" r="1.3" fill="#c8c8c8"/>
<circle cx="1280.9" cy="160.3" r="1.3" fill="#c8c8c8"/>
<circle cx="1309.7" cy="160.3" r="4.5" fill="#b19adb"/>
<circle cx="1338.6" cy="160.3" r="2.5" fill="#b4acbf"/>
<circle cx="1367.4" cy="160.3" r="2.5" fill="#b4acbf"/>
<circle cx="1396.2" cy="160.3" r="1.3" fill="#c8c8c8"/>
<circle cx="1425.1" cy="160.3" r="7" fill="#0000ff"/>
<circle cx="1453.9" cy="160.3" r="1.3" fill="#c8c8c8"/>
<circle cx="1223.2" cy="179.9" r="1.3" fill="#c8c8c8"/>
<circle cx="1252.0" cy="179.9" r="1.3" fill="#c8c8c8"/>
<circle cx="1280.9" cy="179.9" r="1.3" fill="#c8c8c8"/>
<circle cx="1309.7" cy="179.9" r="1.3" fill="#c8c8c8"/>
<circle cx="1338.6" cy="179.9" r="2.2" fill="#b2b0bc"/>
<circle cx="1367.4" cy="179.9" r="1.3" fill="#c8c8c8"/>
<circle cx="1396.2" cy="179.9" r="7.5" fill="#0000ff"/>
<circle cx="1425.1" cy="179.9" r="1.3" fill="#c8c8c8"/>
<circle cx="1453.9" cy="179.9" r="1.3" fill="#c8c8c8"/>
<circle cx="1223.2" cy="199.5" r="1.3" fill="#c8c8c8"/>
<circle cx="1252.0" cy="199.5" r="1.3" fill="#c8c8c8"/>
<circle cx="1280.9" cy="199.5" r="1.3" fill="#c8c8c8"/>
<circle cx="1309.7" cy="199.5" r="1.3" fill="#c8c8c8"/>
<circle cx="1338.6" cy="199.5" r="2.2" fill="#b2b0bc"/>
<circle cx="1367.4" cy="199.5" r="1.3" fill="#c8c8c8"/>
<circle cx="1396.2" cy="199.5" r="7.5" fill="#0000ff"/>
<circle cx="1425.1" cy="199.5" r="1.3" fill="#c8c8c8"/>
<circle cx="1453.9" cy="199.5" r="1.3" fill="#c8c8c8"/>
<circle cx="1223.2" cy="219.1" r="1.3" fill="#c8c8c8"/>
<circle cx="1252.0" cy="219.1" r="1.3" fill="#c8c8c8"/>
<circle cx="1280.9" cy="219.1" r="1.3" fill="#c8c8c8"/>
<circle cx="1309.7" cy="219.1" r="2.2" fill="#b2b0bc"/>
<circle cx="1338.6" cy="219.1" r="1.3" fill="#c8c8c8"/>
<circle cx="1367.4" cy="219.1" r="5" fill="#4223f6"/>
<circle cx="1396.2" cy="219.1" r="5.5" fill="#9673e2"/>
<circle cx="1425.1" cy="219.1" r="1.3" fill="#c8c8c8"/>
<circle cx="1453.9" cy="219.1" r="1.3" fill="#c8c8c8"/>
<circle cx="1223.2" cy="238.7" r="1.3" fill="#c8c8c8"/>
<circle cx="1252.0" cy="238.7" r="1.3" fill="#c8c8c8"/>
<circle cx="1280.9" cy="238.7" r="1.3" fill="#c8c8c8"/>
<circle cx="1309.7" cy="238.7" r="1.3" fill="#c8c8c8"/>
<circle cx="1338.6" cy="238.7" r="1.3" fill="#c8c8c8"/>
<circle cx="1367.4" cy="238.7" r="7" fill="#0000ff"/>
<circle cx="1396.2" cy="238.7" r="1.3" fill="#c8c8c8"/>
<circle cx="1425.1" cy="238.7" r="1.3" fill="#c8c8c8"/>
<circle cx="1453.9" cy="238.7" r="1.3" fill="#c8c8c8"/>
<circle cx="1223.2" cy="258.3" r="1.3" fill="#c8c8c8"/>
<circle cx="1252.0" cy="258.3" r="1.3" fill="#c8c8c8"/>
<circle cx="1280.9" cy="258.3" r="1.3" fill="#c8c8c8"/>
<circle cx="1309.7" cy="258.3" r="1.3" fill="#c8c8c8"/>
<circle cx="1338.6" cy="258.3" r="1.3" fill="#c8c8c8"/>
<circle cx="1367.4" cy="258.3" r="7.5" fill="#0000ff"/>
<circle cx="1396.2" cy="258.3" r="1.3" fill="#c8c8c8"/>
<circle cx="1425.1" cy="258.3" r="1.3" fill="#c8c8c8"/>
<circle cx="1453.9" cy="258.3" r="1.3" fill="#c8c8c8"/>
<circle cx="1223.2" cy="277.9" r="1.3" fill="#c8c8c8"/>
<circle cx="1252.0" cy="277.9" r="1.3" fill="#c8c8c8"/>
<circle cx="1280.9" cy="277.9" r="1.3" fill="#c8c8c8"/>
<circle cx="1309.7" cy="277.9" r="2.2" fill="#b2b0bc"/>
<circle cx="1338.6" cy="277.9" r="5" fill="#4223f6"/>
<circle cx="1367.4" cy="277.9" r="1.3" fill="#c8c8c8"/>
<circle cx="1396.2" cy="277.9" r="5" fill="#9673e2"/>
<circle cx="1425.1" cy="277.9" r="2.2" fill="#b2b0bc"/>
<circle cx="1453.9" cy="277.9" r="1.3" fill="#c8c8c8"/>
<circle cx="1223.2" cy="297.5" r="1.3" fill="#c8c8c8"/>
<circle cx="1252.0" cy="297.5" r="1.3" fill="#c8c8c8"/>
<circle cx="1280.9" cy="297.5" r="1.3" fill="#c8c8c8"/>
<circle cx="1309.7" cy="297.5" r="1.3" fill="#c8c8c8"/>
<circle cx="1338.6" cy="297.5" r="7" fill="#0000ff"/>
<circle cx="1367.4" cy="297.5" r="1.3" fill="#c8c8c8"/>
<circle cx="1396.2" cy="297.5" r="4" fill="#a487de"/>
<circle cx="1425.1" cy="297.5" r="1.3" fill="#c8c8c8"/>
<circle cx="1453.9" cy="297.5" r="1.3" fill="#c8c8c8"/>
<circle cx="1223.2" cy="317.1" r="1.3" fill="#c8c8c8"/>
<circle cx="1252.0" cy="317.1" r="1.3" fill="#c8c8c8"/>
<circle cx="1280.9" cy="317.1" r="1.3" fill="#c8c8c8"/>
<circle cx="1309.7" cy="317.1" r="6.5" fill="#0000ff"/>
<circle cx="1338.6" cy="317.1" r="1.3" fill="#c8c8c8"/>
<circle cx="1367.4" cy="317.1" r="1.3" fill="#c8c8c8"/>
<circle cx="1396.2" cy="317.1" r="1.3" fill="#c8c8c8"/>
<circle cx="1425.1" cy="317.1" r="1.3" fill="#c8c8c8"/>
<circle cx="1453.9" cy="317.1" r="1.3" fill="#c8c8c8"/>
<circle cx="1223.2" cy="336.7" r="1.3" fill="#c8c8c8"/>
<circle cx="1252.0" cy="336.7" r="1.3" fill="#c8c8c8"/>
<circle cx="1280.9" cy="336.7" r="1.3" fill="#c8c8c8"/>
<circle cx="1309.7" cy="336.7" r="7" fill="#0000ff"/>
<circle cx="1338.6" cy="336.7" r="2.2" fill="#b2b0bc"/>
<circle cx="1367.4" cy="336.7" r="2" fill="#b4a4cd"/>
<circle cx="1396.2" cy="336.7" r="3" fill="#b19adb"/>
<circle cx="1425.1" cy="336.7" r="1.3" fill="#c8c8c8"/>
<circle cx="1453.9" cy="336.7" r="1.3" fill="#c8c8c8"/>
<circle cx="1223.2" cy="356.3" r="2.2" fill="#b2b0bc"/>
<circle cx="1252.0" cy="356.3" r="1.3" fill="#c8c8c8"/>
<circle cx="1280.9" cy="356.3" r="4.5" fill="#0000ff"/>
<circle cx="1309.7" cy="356.3" r="4" fill="#a487de"/>
<circle cx="1338.6" cy="356.3" r="1.3" fill="#c8c8c8"/>
<circle cx="1367.4" cy="356.3" r="1.3" fill="#c8c8c8"/>
<circle cx="1396.2" cy="356.3" r="2.2" fill="#b2b0bc"/>
<circle cx="1425.1" cy="356.3" r="1.3" fill="#c8c8c8"/>
<circle cx="1453.9" cy="356.3" r="1.3" fill="#c8c8c8"/>
<circle cx="1223.2" cy="375.9" r="2.2" fill="#b2b0bc"/>
<circle cx="1252.0" cy="375.9" r="6" fill="#b19adb"/>
<circle cx="1280.9" cy="375.9" r="8" fill="#3318fb"/>
<circle cx="1309.7" cy="375.9" r="4.5" fill="#b4acbf"/>
<circle cx="1338.6" cy="375.9" r="6" fill="#b4a4cd"/>
<circle cx="1367.4" cy="375.9" r="1.3" fill="#c8c8c8"/>
<circle cx="1396.2" cy="375.9" r="3" fill="#b4acbf"/>
<circle cx="1425.1" cy="375.9" r="4.5" fill="#b19adb"/>
<circle cx="1453.9" cy="375.9" r="4.5" fill="#a487de"/>
<circle cx="1223.2" cy="395.5" r="1.3" fill="#c8c8c8"/>
<circle cx="1252.0" cy="395.5" r="3" fill="#b4a9c5"/>
<circle cx="1280.9" cy="395.5" r="8" fill="#0000ff"/>
<circle cx="1309.7" cy="395.5" r="1.3" fill="#c8c8c8"/>
<circle cx="1338.6" cy="395.5" r="2.2" fill="#b2b0bc"/>
<circle cx="1367.4" cy="395.5" r="1.3" fill="#c8c8c8"/>
<circle cx="1396.2" cy="395.5" r="1.3" fill="#c8c8c8"/>
<circle cx="1425.1" cy="395.5" r="1.3" fill="#c8c8c8"/>
<circle cx="1453.9" cy="395.5" r="1.3" fill="#c8c8c8"/>
<circle cx="1223.2" cy="415.1" r="1.3" fill="#c8c8c8"/>
<circle cx="1252.0" cy="415.1" r="2.5" fill="#b4a9c5"/>
<circle cx="1280.9" cy="415.1" r="7.5" fill="#0000ff"/>
<circle cx="1309.7" cy="415.1" r="1.3" fill="#c8c8c8"/>
<circle cx="1338.6" cy="415.1" r="1.3" fill="#c8c8c8"/>
<circle cx="1367.4" cy="415.1" r="1.3" fill="#c8c8c8"/>
<circle cx="1396.2" cy="415.1" r="1.3" fill="#c8c8c8"/>
<circle cx="1425.1" cy="415.1" r="1.3" fill="#c8c8c8"/>
<circle cx="1453.9" cy="415.1" r="1.3" fill="#c8c8c8"/>
<circle cx="1223.2" cy="434.7" r="1.3" fill="#c8c8c8"/>
<circle cx="1252.0" cy="434.7" r="2" fill="#b4a9c5"/>
<circle cx="1280.9" cy="434.7" r="5.5" fill="#0000ff"/>
<circle cx="1309.7" cy="434.7" r="1.3" fill="#c8c8c8"/>
<circle cx="1338.6" cy="434.7" r="2.2" fill="#b2b0bc"/>
<circle cx="1367.4" cy="434.7" r="1.3" fill="#c8c8c8"/>
<circle cx="1396.2" cy="434.7" r="1.3" fill="#c8c8c8"/>
<circle cx="1425.1" cy="434.7" r="2.2" fill="#b2b0bc"/>
<circle cx="1453.9" cy="434.7" r="1.3" fill="#c8c8c8"/>
<circle cx="1223.2" cy="454.3" r="3" fill="#b7a3d9"/>
<circle cx="1252.0" cy="454.3" r="7.5" fill="#3319f8"/>
<circle cx="1280.9" cy="454.3" r="4" fill="#b19adb"/>
<circle cx="1309.7" cy="454.3" r="2.5" fill="#b4acbf"/>
<circle cx="1338.6" cy="454.3" r="6.5" fill="#9673e2"/>
<circle cx="1367.4" cy="454.3" r="1.3" fill="#c8c8c8"/>
<circle cx="1396.2" cy="454.3" r="5.5" fill="#b19adb"/>
<circle cx="1425.1" cy="454.3" r="1.3" fill="#c8c8c8"/>
<circle cx="1453.9" cy="454.3" r="1.3" fill="#c8c8c8"/>
<circle cx="1223.2" cy="473.9" r="3" fill="#b4a9c5"/>
<circle cx="1252.0" cy="473.9" r="7.5" fill="#9673e2"/>
<circle cx="1280.9" cy="473.9" r="2.5" fill="#b4acbf"/>
<circle cx="1309.7" cy="473.9" r="4" fill="#b4acbf"/>
<circle cx="1338.6" cy="473.9" r="4" fill="#b19adb"/>
<circle cx="1367.4" cy="473.9" r="2" fill="#b4acbf"/>
<circle cx="1396.2" cy="473.9" r="8" fill="#3319f8"/>
<circle cx="1425.1" cy="473.9" r="1.3" fill="#c8c8c8"/>
<circle cx="1453.9" cy="473.9" r="2.2" fill="#b2b0bc"/>
<circle cx="1223.2" cy="493.5" r="4.5" fill="#0000ff"/>
<circle cx="1252.0" cy="493.5" r="2" fill="#ab90dc"/>
<circle cx="1280.9" cy="493.5" r="1.3" fill="#c8c8c8"/>
<circle cx="1309.7" cy="493.5" r="1.3" fill="#c8c8c8"/>
<circle cx="1338.6" cy="493.5" r="1.3" fill="#c8c8c8"/>
<circle cx="1367.4" cy="493.5" r="1.3" fill="#c8c8c8"/>
<circle cx="1396.2" cy="493.5" r="1.3" fill="#c8c8c8"/>
<circle cx="1425.1" cy="493.5" r="1.3" fill="#c8c8c8"/>
<circle cx="1453.9" cy="493.5" r="1.3" fill="#c8c8c8"/>
<circle cx="1223.2" cy="513.1" r="6" fill="#0000ff"/>
<circle cx="1252.0" cy="513.1" r="1.3" fill="#c8c8c8"/>
<circle cx="1280.9" cy="513.1" r="1.3" fill="#c8c8c8"/>
<circle cx="1309.7" cy="513.1" r="1.3" fill="#c8c8c8"/>
<circle cx="1338.6" cy="513.1" r="1.3" fill="#c8c8c8"/>
<circle cx="1367.4" cy="513.1" r="1.3" fill="#c8c8c8"/>
<circle cx="1396.2" cy="513.1" r="1.3" fill="#c8c8c8"/>
<circle cx="1425.1" cy="513.1" r="1.3" fill="#c8c8c8"/>
<circle cx="1453.9" cy="513.1" r="1.3" fill="#c8c8c8"/>
<circle cx="1223.2" cy="532.7" r="6" fill="#0000ff"/>
<circle cx="1252.0" cy="532.7" r="1.3" fill="#c8c8c8"/>
<circle cx="1280.9" cy="532.7" r="1.3" fill="#c8c8c8"/>
<circle cx="1309.7" cy="532.7" r="1.3" fill="#c8c8c8"/>
<circle cx="1338.6" cy="532.7" r="1.3" fill="#c8c8c8"/>
<circle cx="1367.4" cy="532.7" r="1.3" fill="#c8c8c8"/>
<circle cx="1396.2" cy="532.7" r="1.3" fill="#c8c8c8"/>
<circle cx="1425.1" cy="532.7" r="1.3" fill="#c8c8c8"/>
<circle cx="1453.9" cy="532.7" r="1.3" fill="#c8c8c8"/>
<rect x="1207" y="52" width="263.29999999999995" height="491.6" fill="none" stroke="#111" stroke-width="2.2"/>
<line x1="1203.0" y1="62.3" x2="1207.0" y2="62.3" stroke="#222" stroke-width="2.4" />
<line x1="1203.0" y1="81.9" x2="1207.0" y2="81.9" stroke="#222" stroke-width="2.4" />
<line x1="1203.0" y1="101.5" x2="1207.0" y2="101.5" stroke="#222" stroke-width="2.4" />
<line x1="1203.0" y1="121.1" x2="1207.0" y2="121.1" stroke="#222" stroke-width="2.4" />
<line x1="1203.0" y1="140.7" x2="1207.0" y2="140.7" stroke="#222" stroke-width="2.4" />
<line x1="1203.0" y1="160.3" x2="1207.0" y2="160.3" stroke="#222" stroke-width="2.4" />
<line x1="1203.0" y1="179.9" x2="1207.0" y2="179.9" stroke="#222" stroke-width="2.4" />
<line x1="1203.0" y1="199.5" x2="1207.0" y2="199.5" stroke="#222" stroke-width="2.4" />
<line x1="1203.0" y1="219.1" x2="1207.0" y2="219.1" stroke="#222" stroke-width="2.4" />
<line x1="1203.0" y1="238.7" x2="1207.0" y2="238.7" stroke="#222" stroke-width="2.4" />
<line x1="1203.0" y1="258.3" x2="1207.0" y2="258.3" stroke="#222" stroke-width="2.4" />
<line x1="1203.0" y1="277.9" x2="1207.0" y2="277.9" stroke="#222" stroke-width="2.4" />
<line x1="1203.0" y1="297.5" x2="1207.0" y2="297.5" stroke="#222" stroke-width="2.4" />
<line x1="1203.0" y1="317.1" x2="1207.0" y2="317.1" stroke="#222" stroke-width="2.4" />
<line x1="1203.0" y1="336.7" x2="1207.0" y2="336.7" stroke="#222" stroke-width="2.4" />
<line x1="1203.0" y1="356.3" x2="1207.0" y2="356.3" stroke="#222" stroke-width="2.4" />
<line x1="1203.0" y1="375.9" x2="1207.0" y2="375.9" stroke="#222" stroke-width="2.4" />
<line x1="1203.0" y1="395.5" x2="1207.0" y2="395.5" stroke="#222" stroke-width="2.4" />
<line x1="1203.0" y1="415.1" x2="1207.0" y2="415.1" stroke="#222" stroke-width="2.4" />
<line x1="1203.0" y1="434.7" x2="1207.0" y2="434.7" stroke="#222" stroke-width="2.4" />
<line x1="1203.0" y1="454.3" x2="1207.0" y2="454.3" stroke="#222" stroke-width="2.4" />
<line x1="1203.0" y1="473.9" x2="1207.0" y2="473.9" stroke="#222" stroke-width="2.4" />
<line x1="1203.0" y1="493.5" x2="1207.0" y2="493.5" stroke="#222" stroke-width="2.4" />
<line x1="1203.0" y1="513.1" x2="1207.0" y2="513.1" stroke="#222" stroke-width="2.4" />
<line x1="1203.0" y1="532.7" x2="1207.0" y2="532.7" stroke="#222" stroke-width="2.4" />
<line x1="1223.2" y1="543.6" x2="1223.2" y2="547.6" stroke="#222" stroke-width="2.4" />
<line x1="1252.0" y1="543.6" x2="1252.0" y2="547.6" stroke="#222" stroke-width="2.4" />
<line x1="1280.9" y1="543.6" x2="1280.9" y2="547.6" stroke="#222" stroke-width="2.4" />
<line x1="1309.7" y1="543.6" x2="1309.7" y2="547.6" stroke="#222" stroke-width="2.4" />
<line x1="1338.6" y1="543.6" x2="1338.6" y2="547.6" stroke="#222" stroke-width="2.4" />
<line x1="1367.4" y1="543.6" x2="1367.4" y2="547.6" stroke="#222" stroke-width="2.4" />
<line x1="1396.2" y1="543.6" x2="1396.2" y2="547.6" stroke="#222" stroke-width="2.4" />
<line x1="1425.1" y1="543.6" x2="1425.1" y2="547.6" stroke="#222" stroke-width="2.4" />
<line x1="1453.9" y1="543.6" x2="1453.9" y2="547.6" stroke="#222" stroke-width="2.4" />
<text x="1199.5" y="70.1" font-size="22" text-anchor="end" font-weight="normal" font-style="italic" fill="#000" >Trem1</text>
<text x="1199.5" y="89.7" font-size="22" text-anchor="end" font-weight="normal" font-style="italic" fill="#000" >S100a8</text>
<text x="1199.5" y="109.3" font-size="22" text-anchor="end" font-weight="normal" font-style="italic" fill="#000" >S100a9</text>
<text x="1199.5" y="128.9" font-size="22" text-anchor="end" font-weight="normal" font-style="italic" fill="#000" >Mmp9</text>
<text x="1199.5" y="148.5" font-size="22" text-anchor="end" font-weight="normal" font-style="italic" fill="#000" >Cpa3</text>
<text x="1199.5" y="168.1" font-size="22" text-anchor="end" font-weight="normal" font-style="italic" fill="#000" >Kit</text>
<text x="1199.5" y="187.7" font-size="22" text-anchor="end" font-weight="normal" font-style="italic" fill="#000" >Ccr9</text>
<text x="1199.5" y="207.3" font-size="22" text-anchor="end" font-weight="normal" font-style="italic" fill="#000" >Siglech</text>
<text x="1199.5" y="226.9" font-size="22" text-anchor="end" font-weight="normal" font-style="italic" fill="#000" >Cd200</text>
<text x="1199.5" y="246.5" font-size="22" text-anchor="end" font-weight="normal" font-style="italic" fill="#000" >Ccr7</text>
<text x="1199.5" y="266.1" font-size="22" text-anchor="end" font-weight="normal" font-style="italic" fill="#000" >Fscn1</text>
<text x="1199.5" y="285.7" font-size="22" text-anchor="end" font-weight="normal" font-style="italic" fill="#000" >Clec10a</text>
<text x="1199.5" y="305.3" font-size="22" text-anchor="end" font-weight="normal" font-style="italic" fill="#000" >Cd209a</text>
<text x="1199.5" y="324.9" font-size="22" text-anchor="end" font-weight="normal" font-style="italic" fill="#000" >Xcr1</text>
<text x="1199.5" y="344.5" font-size="22" text-anchor="end" font-weight="normal" font-style="italic" fill="#000" >Clec9a</text>
<text x="1199.5" y="364.1" font-size="22" text-anchor="end" font-weight="normal" font-style="italic" fill="#000" >Cd36</text>
<text x="1199.5" y="383.7" font-size="22" text-anchor="end" font-weight="normal" font-style="italic" fill="#000" >Nr4a1</text>
<text x="1199.5" y="403.3" font-size="22" text-anchor="end" font-weight="normal" font-style="italic" fill="#000" >Adgre4</text>
<text x="1199.5" y="422.9" font-size="22" text-anchor="end" font-weight="normal" font-style="italic" fill="#000" >Ace</text>
<text x="1199.5" y="442.5" font-size="22" text-anchor="end" font-weight="normal" font-style="italic" fill="#000" >Cx3cr1</text>
<text x="1199.5" y="462.1" font-size="22" text-anchor="end" font-weight="normal" font-style="italic" fill="#000" >Ccr2</text>
<text x="1199.5" y="481.7" font-size="22" text-anchor="end" font-weight="normal" font-style="italic" fill="#000" >Ly6c2</text>
<text x="1199.5" y="501.3" font-size="22" text-anchor="end" font-weight="normal" font-style="italic" fill="#000" >Trem2</text>
<text x="1199.5" y="520.9" font-size="22" text-anchor="end" font-weight="normal" font-style="italic" fill="#000" >C1qa</text>
<text x="1199.5" y="540.5" font-size="22" text-anchor="end" font-weight="normal" font-style="italic" fill="#000" >C1qc</text>
<text transform="translate(1235.2,558.6) rotate(-45)" font-size="21" text-anchor="end">Macrophage</text>
<text transform="translate(1264.0,558.6) rotate(-45)" font-size="21" text-anchor="end">Mono_Ly6c_high</text>
<text transform="translate(1292.9,558.6) rotate(-45)" font-size="21" text-anchor="end">Mono_Ly6c_low</text>
<text transform="translate(1321.7,558.6) rotate(-45)" font-size="21" text-anchor="end">cDC1</text>
<text transform="translate(1350.6,558.6) rotate(-45)" font-size="21" text-anchor="end">cDC2</text>
<text transform="translate(1379.4,558.6) rotate(-45)" font-size="21" text-anchor="end">tDC</text>
<text transform="translate(1408.2,558.6) rotate(-45)" font-size="21" text-anchor="end">pDC</text>
<text transform="translate(1437.1,558.6) rotate(-45)" font-size="21" text-anchor="end">Mast</text>
<text transform="translate(1465.9,558.6) rotate(-45)" font-size="21" text-anchor="end">Neutrophil</text>
<circle cx="315.4" cy="61.5" r="7.4" fill="#c8c8e6"/>
<text x="332.0" y="68.7" font-size="20.9" text-anchor="start" font-weight="normal" font-style="normal" fill="#000" >CD4_Il7r</text>
<circle cx="315.4" cy="81.0" r="7.4" fill="#9e9ad0"/>
<text x="332.0" y="88.2" font-size="20.9" text-anchor="start" font-weight="normal" font-style="normal" fill="#000" >CD4_Ccr7</text>
<circle cx="315.4" cy="100.5" r="7.4" fill="#7b68b5"/>
<text x="332.0" y="107.7" font-size="20.9" text-anchor="start" font-weight="normal" font-style="normal" fill="#000" >CD4_memory</text>
<circle cx="315.4" cy="120.0" r="7.4" fill="#4a1a8c"/>
<text x="332.0" y="127.2" font-size="20.9" text-anchor="start" font-weight="normal" font-style="normal" fill="#000" >CD4_Treg</text>
<circle cx="315.4" cy="139.5" r="7.4" fill="#d6ecd2"/>
<text x="332.0" y="146.7" font-size="20.9" text-anchor="start" font-weight="normal" font-style="normal" fill="#000" >CD8_Il7r</text>
<circle cx="315.4" cy="159.0" r="7.4" fill="#a1d99b"/>
<text x="332.0" y="166.2" font-size="20.9" text-anchor="start" font-weight="normal" font-style="normal" fill="#000" >CD8_Ccr7</text>
<circle cx="315.4" cy="178.5" r="7.4" fill="#41ab5d"/>
<text x="332.0" y="185.7" font-size="20.9" text-anchor="start" font-weight="normal" font-style="normal" fill="#000" >CD8_Ccl5</text>
<circle cx="315.4" cy="198.0" r="7.4" fill="#74c476"/>
<text x="332.0" y="205.2" font-size="20.9" text-anchor="start" font-weight="normal" font-style="normal" fill="#000" >CD8_Gzmk</text>
<circle cx="315.4" cy="217.5" r="7.4" fill="#006d2c"/>
<text x="332.0" y="224.7" font-size="20.9" text-anchor="start" font-weight="normal" font-style="normal" fill="#000" >CD8_Itgav</text>
<circle cx="315.4" cy="237.0" r="7.4" fill="#9ecae1"/>
<text x="332.0" y="244.2" font-size="20.9" text-anchor="start" font-weight="normal" font-style="normal" fill="#000" >CD8_proliferation</text>
<circle cx="315.4" cy="256.5" r="7.4" fill="#e08a1e"/>
<text x="332.0" y="263.7" font-size="20.9" text-anchor="start" font-weight="normal" font-style="normal" fill="#000" >CD3_DN</text>
<circle cx="315.4" cy="276.0" r="7.4" fill="#fdd5a5"/>
<text x="332.0" y="283.2" font-size="20.9" text-anchor="start" font-weight="normal" font-style="normal" fill="#000" >gd_T</text>
<circle cx="315.4" cy="295.5" r="7.4" fill="#fcf3b0"/>
<text x="332.0" y="302.7" font-size="20.9" text-anchor="start" font-weight="normal" font-style="normal" fill="#000" >NK_Ccl5</text>
<circle cx="315.4" cy="315.0" r="7.4" fill="#f4602a"/>
<text x="332.0" y="322.2" font-size="20.9" text-anchor="start" font-weight="normal" font-style="normal" fill="#000" >NK_Spp1</text>
<circle cx="315.4" cy="334.5" r="7.4" fill="#e8302a"/>
<text x="332.0" y="341.7" font-size="20.9" text-anchor="start" font-weight="normal" font-style="normal" fill="#000" >NK_Cd226</text>
<circle cx="315.4" cy="354.0" r="7.4" fill="#f7a040"/>
<text x="332.0" y="361.2" font-size="20.9" text-anchor="start" font-weight="normal" font-style="normal" fill="#000" >NK_Isg15</text>
<circle cx="315.4" cy="373.5" r="7.4" fill="#fcd76a"/>
<text x="332.0" y="380.7" font-size="20.9" text-anchor="start" font-weight="normal" font-style="normal" fill="#000" >NK_Hspa1a</text>
<circle cx="315.4" cy="393.0" r="7.4" fill="#808080"/>
<text x="332.0" y="400.2" font-size="20.9" text-anchor="start" font-weight="normal" font-style="normal" fill="#000" >NK_others</text>
<circle cx="315.4" cy="412.5" r="7.4" fill="#f98b40"/>
<text x="332.0" y="419.7" font-size="20.9" text-anchor="start" font-weight="normal" font-style="normal" fill="#000" >NK_proliferation</text>
<circle cx="315.4" cy="454.6" r="7.4" fill="#3fa8c8"/>
<text x="332.0" y="461.8" font-size="20.9" text-anchor="start" font-weight="normal" font-style="normal" fill="#000" >Macrophage</text>
<circle cx="315.4" cy="474.1" r="7.4" fill="#d4eca0"/>
<text x="332.0" y="481.3" font-size="20.9" text-anchor="start" font-weight="normal" font-style="normal" fill="#000" >Mono_Ly6c_high</text>
<circle cx="315.4" cy="493.6" r="7.4" fill="#80cfb8"/>
<text x="332.0" y="500.8" font-size="20.9" text-anchor="start" font-weight="normal" font-style="normal" fill="#000" >Mono_Ly6c_low</text>
<circle cx="315.4" cy="513.1" r="7.4" fill="#fbb0bc"/>
<text x="332.0" y="520.3" font-size="20.9" text-anchor="start" font-weight="normal" font-style="normal" fill="#000" >cDC1</text>
<circle cx="315.4" cy="532.6" r="7.4" fill="#f3699a"/>
<text x="332.0" y="539.8" font-size="20.9" text-anchor="start" font-weight="normal" font-style="normal" fill="#000" >cDC2</text>
<circle cx="315.4" cy="552.1" r="7.4" fill="#c2188e"/>
<text x="332.0" y="559.3" font-size="20.9" text-anchor="start" font-weight="normal" font-style="normal" fill="#000" >tDC</text>
<circle cx="315.4" cy="571.6" r="7.4" fill="#b8084e"/>
<text x="332.0" y="578.8" font-size="20.9" text-anchor="start" font-weight="normal" font-style="normal" fill="#000" >pDC</text>
<circle cx="315.4" cy="591.1" r="7.4" fill="#80aedc"/>
<text x="332.0" y="598.3" font-size="20.9" text-anchor="start" font-weight="normal" font-style="normal" fill="#000" >Mast</text>
<circle cx="315.4" cy="610.6" r="7.4" fill="#0b7a7c"/>
<text x="332.0" y="617.8" font-size="20.9" text-anchor="start" font-weight="normal" font-style="normal" fill="#000" >Neutrophil</text>
<path d="M142.5 85.8 L142.0 88.4 L140.7 90.8 L138.5 92.9 L135.8 94.5 L132.5 95.5 L129.0 95.8 L125.5 95.5 L122.2 94.5 L119.5 92.9 L117.3 90.8 L116.0 88.4 L115.5 85.8 L116.0 83.2 L117.3 80.8 L119.5 78.7 L122.2 77.1 L125.5 76.1 L129.0 75.8 L132.5 76.1 L135.8 77.1 L138.5 78.7 L140.7 80.8 L142.0 83.2Z" fill="#c9c9e6" fill-opacity="0.85"/>
<path d="M127.5 87.2h0M142.2 85.0h0M129.2 87.9h0M119.2 86.1h0M133.0 92.8h0M116.4 81.1h0M133.8 88.6h0M129.9 75.2h0M119.4 79.6h0M114.4 84.9h0M127.2 94.0h0M129.6 89.2h0M129.0 89.7h0M127.7 80.5h0M139.5 90.8h0M123.3 79.3h0M122.5 75.5h0M137.3 83.4h0M139.7 83.1h0M141.7 85.1h0M143.9 83.3h0M115.8 88.9h0M137.6 80.3h0M116.2 81.8h0M117.2 79.7h0M138.2 78.1h0M130.8 84.5h0M119.4 91.4h0M117.6 89.2h0M117.1 83.9h0M120.1 80.3h0M122.9 95.0h0M120.0 83.3h0M140.0 89.2h0M120.1 80.0h0M137.5 81.7h0M122.7 75.6h0M116.3 87.8h0M121.0 88.2h0M125.0 84.7h0M143.2 85.4h0M131.3 94.6h0M119.2 77.5h0M121.2 78.4h0M140.8 88.3h0M126.6 76.3h0M120.9 90.7h0M121.5 93.6h0M132.0 80.8h0M118.9 91.1h0M130.8 94.3h0M132.5 80.5h0M127.3 75.3h0M119.0 82.7h0M131.2 77.0h0M124.7 95.2h0M134.9 87.8h0M114.2 89.1h0M128.4 91.3h0M115.8 86.9h0M136.3 95.4h0M136.3 90.7h0M124.4 90.2h0M126.4 92.8h0M140.3 87.5h0M132.9 83.0h0M131.6 88.4h0M116.0 89.1h0M136.1 83.1h0M136.3 87.7h0M127.2 93.9h0M116.1 91.8h0M114.4 88.2h0M128.4 79.3h0M135.1 85.7h0M132.5 95.9h0M122.8 90.1h0M119.8 77.9h0M141.6 89.6h0M127.2 95.2h0M123.6 89.8h0M119.7 84.1h0M140.8 83.0h0M131.6 81.4h0M117.7 85.7h0M139.4 94.2h0M122.1 77.9h0M127.5 80.4h0M120.1 83.7h0M132.9 85.7h0M123.3 93.9h0M143.9 84.7h0M135.5 87.5h0M123.1 92.8h0M127.6 74.4h0M139.2 79.5h0M133.0 84.5h0M133.0 89.5h0M134.7 78.6h0M128.2 78.1h0M113.8 85.1h0M135.6 78.1h0M121.9 82.1h0M135.1 86.3h0M132.5 91.9h0M125.7 92.8h0M142.4 91.1h0M117.5 84.7h0M132.9 95.6h0M125.2 87.5h0M140.8 92.9h0M142.8 84.9h0M133.7 78.7h0M135.9 93.4h0M133.4 91.0h0M120.1 95.4h0M130.1 92.8h0M123.4 95.6h0M140.0 82.2h0M116.1 84.4h0M130.6 92.2h0M128.6 74.5h0M138.3 77.9h0M123.9 92.7h0M129.5 91.2h0M139.5 90.3h0M142.8 85.6h0M120.4 86.4h0M122.5 91.3h0M133.3 86.3h0M139.7 87.2h0M123.2 82.9h0M120.0 94.2h0M143.5 86.4h0M131.3 78.6h0M130.1 85.9h0M132.3 74.5h0M143.6 86.2h0M125.9 93.0h0M130.9 85.6h0M134.9 75.4h0M130.2 83.7h0M121.8 85.2h0M117.4 84.2h0M128.3 81.4h0M119.4 88.6h0M119.5 79.3h0M134.8 81.5h0M124.5 88.7h0M116.8 91.3h0M117.3 86.1h0M121.3 78.5h0M129.9 84.3h0M125.1 83.7h0M129.9 77.6h0M119.8 89.0h0M133.3 86.5h0M139.9 88.5h0M140.1 79.4h0M136.5 93.3h0M141.5 81.4h0M123.3 95.9h0M120.9 91.2h0M121.5 76.1h0M139.3 83.9h0M138.0 76.8h0M126.0 90.2h0M134.7 95.7h0M129.2 92.0h0M129.1 90.3h0M130.6 86.2h0M131.1 77.3h0M119.2 78.7h0M127.8 92.2h0M123.6 85.0h0M129.5 84.1h0M135.2 94.1h0M119.1 84.7h0M136.4 83.5h0M119.5 77.8h0M129.4 74.2h0M141.2 93.0h0M135.3 94.5h0M133.0 83.5h0M132.1 85.9h0M121.5 95.7h0M136.6 92.5h0M138.8 83.5h0M135.0 92.2h0M137.2 83.5h0M135.9 75.5h0M124.1 85.1h0M133.3 88.8h0M134.1 81.9h0M134.0 87.5h0M130.0 83.2h0M135.2 92.1h0M132.6 91.5h0M121.5 83.4h0M125.1 76.2h0M121.3 95.5h0M130.6 86.0h0M143.5 87.4h0M132.0 92.0h0M118.5 85.1h0M118.7 85.7h0M132.4 75.2h0M142.8 83.9h0M129.8 88.1h0M124.8 80.7h0M133.8 87.3h0M122.3 91.0h0M118.4 91.9h0M125.6 95.3h0M126.8 85.3h0M129.7 96.3h0M135.9 85.0h0M132.2 76.6h0M132.9 84.7h0M129.9 76.8h0M127.2 89.8h0M127.6 80.1h0M131.5 83.9h0M137.6 86.5h0M136.3 79.5h0M137.8 88.8h0M124.6 80.3h0M134.7 87.4h0M131.8 89.0h0M136.9 78.4h0M121.9 84.0h0M132.8 76.3h0M130.3 75.5h0M116.2 90.0h0M130.6 88.9h0M125.1 85.3h0M120.0 82.0h0M136.6 93.9h0M138.6 88.8h0M137.3 78.9h0M126.7 80.0h0M138.6 82.7h0M123.6 87.0h0M136.6 95.9h0M126.8 82.7h0M131.0 85.4h0M134.7 81.0h0M120.1 89.7h0M116.0 81.1h0M136.0 90.5h0M122.3 77.2h0M124.6 91.2h0M124.9 76.6h0M135.5 87.5h0M141.8 84.3h0M138.4 81.1h0M123.3 83.4h0M121.2 82.5h0M124.8 82.5h0M125.8 83.1h0M119.5 87.3h0M138.2 86.8h0M139.4 87.3h0M119.0 92.0h0M140.8 80.6h0M114.2 86.2h0M130.4 87.4h0M143.5 89.4h0M130.5 92.7h0M136.3 95.4h0M116.1 89.0h0M118.0 91.7h0M133.6 79.7h0M120.3 92.2h0M129.7 92.2h0M125.7 81.9h0M128.8 86.7h0M135.8 90.8h0M141.9 83.7h0M139.1 89.8h0M140.0 93.1h0M143.2 89.2h0M129.7 90.8h0M138.4 83.9h0M126.5 77.3h0M125.1 77.8h0M119.8 84.0h0M115.3 81.2h0M117.1 89.4h0M137.6 78.1h0M115.4 84.8h0M131.6 95.6h0M119.2 79.0h0M120.8 91.0h0M131.9 79.2h0M119.2 80.5h0M118.8 92.0h0M123.2 87.0h0M138.8 85.3h0M121.6 95.1h0M141.8 82.0h0M130.5 96.8h0M128.5 79.1h0M138.3 83.0h0M129.9 86.2h0M133.9 79.5h0M113.8 85.1h0M125.0 92.9h0M135.6 88.3h0M118.4 77.6h0M123.5 80.0h0M140.4 86.2h0M121.8 86.6h0M118.2 92.3h0M139.7 93.5h0M116.1 80.3h0M135.7 76.1h0M128.4 85.0h0M143.1 87.9h0M140.1 81.1h0M138.0 83.8h0M139.1 78.8h0M130.3 86.4h0M118.4 93.8h0M123.2 81.3h0M115.9 81.1h0M128.0 91.0h0M124.7 90.3h0M116.8 83.3h0M127.8 97.0h0M139.2 89.5h0M135.5 79.5h0M131.0 84.8h0M138.3 78.8h0M132.6 80.8h0M125.2 86.8h0M122.7 81.9h0M125.7 89.8h0M121.4 78.6h0M136.2 81.7h0M142.8 87.3h0M135.9 81.8h0M134.5 90.8h0M119.1 83.5h0M139.4 88.0h0M116.3 79.2h0M126.1 75.5h0M142.0 84.0h0M129.4 89.3h0M137.3 93.5h0M125.5 81.8h0M126.3 74.2h0M125.9 90.6h0M134.0 88.4h0M124.1 89.4h0M116.8 82.9h0M129.3 92.7h0M139.1 88.5h0M118.4 92.2h0M141.5 87.0h0M124.4 85.8h0M117.9 90.9h0M144.1 86.2h0M135.7 93.9h0M132.9 78.5h0M116.1 79.7h0M131.4 90.5h0M123.7 96.1h0M124.7 84.9h0M130.3 87.3h0M130.9 80.1h0M138.8 88.2h0M122.4 95.3h0M121.0 87.6h0M139.3 78.3h0M130.5 75.6h0M133.9 81.2h0M134.3 91.5h0M125.3 88.0h0M119.7 85.0h0M117.9 83.1h0M131.2 78.0h0M129.6 80.1h0M131.1 81.8h0M133.4 74.7h0M134.3 77.3h0M143.2 88.2h0M128.1 83.7h0M132.8 90.3h0M137.0 91.8h0M128.6 97.7h0M139.5 94.3h0M126.2 84.2h0M131.0 95.5h0M129.8 86.4h0M126.9 95.5h0M123.4 75.1h0M136.0 95.4h0M136.2 88.1h0M136.8 81.1h0M131.9 75.5h0M117.4 84.5h0M129.1 83.3h0M115.1 90.5h0M129.8 79.5h0M123.0 83.3h0M134.1 94.6h0M126.6 93.1h0M120.4 91.7h0M131.1 95.5h0M117.3 86.7h0M121.1 81.0h0M123.6 75.3h0M125.8 82.4h0M131.7 74.9h0M123.0 85.8h0M128.2 78.8h0M122.7 95.9h0M139.5 82.3h0M128.1 77.9h0M119.8 89.0h0M119.4 94.9h0M136.0 81.3h0M135.6 77.0h0M135.1 96.3h0M127.3 75.7h0M120.4 81.2h0M135.5 78.5h0M119.1 79.5h0M134.1 92.8h0M125.0 89.7h0M140.9 88.0h0M120.6 81.0h0M142.2 89.8h0M122.1 89.2h0M127.2 86.5h0M130.0 74.9h0M132.1 80.6h0M121.3 93.1h0M116.2 80.6h0M136.9 79.7h0M122.2 87.0h0M127.8 91.8h0M125.4 96.1h0M129.0 78.1h0M130.7 89.3h0M124.6 89.6h0M137.8 86.2h0M129.2 94.1h0M134.7 86.3h0M137.7 77.8h0M132.4 79.4h0M127.2 92.4h0M137.9 92.8h0M120.8 85.5h0M120.4 87.7h0M129.0 74.6h0M132.0 91.0h0M131.3 94.7h0M119.1 77.4h0M114.1 85.7h0M127.0 84.4h0M121.7 93.0h0M131.1 86.8h0M138.0 79.5h0M118.0 81.3h0M114.8 81.3h0M132.8 86.4h0M121.7 87.9h0M118.8 79.9h0M118.5 90.4h0M139.3 92.7h0M115.4 83.7h0M124.8 79.0h0M128.7 92.1h0M127.6 91.7h0M125.7 81.0h0M126.7 75.6h0M137.2 91.4h0M120.6 79.9h0M130.6 79.6h0M127.8 96.2h0M124.8 81.9h0M143.9 88.5h0M114.7 83.5h0M133.6 75.2h0M124.1 90.5h0M140.3 88.0h0M141.0 84.9h0M125.7 94.0h0M125.3 92.6h0M120.2 82.1h0M119.2 87.0h0M118.6 78.7h0M120.1 85.0h0M123.1 84.5h0M140.2 78.7h0M125.4 75.5h0M134.9 82.5h0M119.1 80.1h0M125.7 96.0h0M135.7 80.2h0M124.7 77.5h0M142.5 82.4h0M137.2 91.2h0M123.5 83.0h0M123.6 92.3h0M129.6 75.1h0M125.7 79.5h0M132.0 74.6h0M123.2 84.0h0M130.4 77.1h0M135.4 80.0h0M136.0 89.8h0M118.1 78.7h0M122.2 90.9h0M126.1 83.1h0M140.3 79.2h0M122.6 82.1h0M114.3 88.9h0" stroke="#c5c5e2" stroke-width="1.50" stroke-linecap="round" stroke-opacity="1.0" fill="none"/>
<path d="M132.1 120.3h0M134.8 123.6h0M123.4 116.7h0M134.7 124.7h0M139.7 103.0h0M133.8 98.7h0M128.7 107.8h0M119.5 107.5h0M126.2 110.9h0M125.0 100.8h0M128.1 110.3h0M122.2 116.0h0M124.0 98.8h0M126.5 108.7h0M121.8 113.5h0M135.5 112.6h0M135.5 96.7h0M127.8 106.9h0M119.6 108.1h0M132.6 110.1h0M126.1 103.6h0M140.3 113.0h0M124.5 116.0h0M122.7 110.1h0M133.4 124.6h0M127.1 113.3h0M141.6 119.1h0M133.7 114.6h0M128.3 108.5h0M124.9 120.9h0M140.0 107.5h0M121.4 111.2h0M125.7 106.8h0M122.8 102.9h0M135.0 103.0h0M127.8 103.2h0M130.3 115.5h0M131.7 114.7h0M132.0 120.9h0M126.7 122.6h0M125.8 117.5h0M135.4 116.6h0M142.1 120.7h0M122.0 114.6h0M130.3 112.9h0M127.2 104.6h0M136.7 112.0h0M123.9 103.5h0M126.1 101.3h0M130.8 99.8h0M119.6 98.1h0M120.6 117.1h0M120.8 109.5h0M137.3 110.4h0M122.1 122.0h0M139.7 97.6h0M124.3 111.2h0M137.9 107.8h0M135.9 103.6h0M135.9 105.8h0M126.3 118.8h0M139.1 120.9h0M132.2 108.6h0M135.7 114.7h0M138.8 120.0h0M121.1 107.3h0M134.7 102.9h0M122.6 96.4h0M132.6 124.2h0M135.2 108.6h0M133.8 107.9h0M141.3 125.7h0M121.0 97.3h0M125.2 117.9h0M126.3 96.8h0M131.6 110.5h0M127.3 105.3h0M138.0 121.2h0M125.1 107.8h0M133.4 119.0h0M135.4 112.4h0M138.0 100.4h0M122.4 99.2h0M130.2 99.6h0M126.1 96.6h0M132.1 100.3h0M133.6 104.2h0M123.7 110.5h0M127.1 103.8h0M119.3 97.9h0" stroke="#c8c8e4" stroke-width="1.40" stroke-linecap="round" stroke-opacity="1.0" fill="none"/>
<path d="M157.5 108.5 L157.3 111.3 L156.8 114.0 L155.9 116.3 L154.8 118.0 L153.4 119.1 L152.0 119.5 L150.6 119.1 L149.2 118.0 L148.1 116.3 L147.2 114.0 L146.7 111.3 L146.5 108.5 L146.7 105.7 L147.2 103.0 L148.1 100.7 L149.2 99.0 L150.6 97.9 L152.0 97.5 L153.4 97.9 L154.8 99.0 L155.9 100.7 L156.8 103.0 L157.3 105.7Z" fill="#d3ecd0" fill-opacity="0.8"/>
<path d="M157.5 103.7h0M151.8 120.9h0M147.8 117.7h0M151.8 106.4h0M156.3 105.9h0M145.8 109.8h0M154.2 111.6h0M148.9 119.5h0M151.2 116.8h0M155.1 100.4h0M150.0 114.8h0M149.3 108.9h0M152.4 116.3h0M156.1 114.4h0M150.6 116.1h0M156.6 115.2h0M158.3 106.1h0M154.9 102.3h0M153.1 101.7h0M150.4 105.2h0M154.2 116.3h0M150.1 112.0h0M150.0 103.0h0M157.7 104.0h0M146.3 104.4h0M155.4 101.3h0M155.4 109.7h0M154.5 100.4h0M149.9 106.8h0M145.1 108.6h0M150.6 104.0h0M152.5 119.8h0M147.9 118.0h0M149.5 114.9h0M151.0 120.1h0M148.1 106.2h0M154.9 100.4h0M148.8 112.9h0M158.3 104.1h0M147.6 104.9h0M153.9 105.5h0M154.0 101.3h0M153.6 118.2h0M157.0 111.7h0M152.1 110.2h0M154.7 107.3h0M154.3 106.5h0M150.4 101.8h0M153.4 110.3h0M152.2 96.8h0M153.8 107.2h0M153.3 110.9h0M151.6 120.8h0M155.3 103.8h0M150.6 117.7h0M151.9 101.9h0M156.8 112.2h0M156.2 108.8h0M157.2 113.8h0M148.5 116.2h0M151.4 109.4h0M157.1 100.9h0M148.9 112.1h0M146.0 109.9h0M156.0 108.3h0M148.4 116.0h0M157.0 115.3h0M152.7 118.6h0M156.2 99.8h0M150.1 98.5h0M145.5 104.6h0M157.1 116.8h0M150.4 117.2h0M153.6 118.5h0M147.9 111.7h0M157.3 114.2h0M147.8 112.7h0M151.0 96.4h0M149.8 103.9h0M153.8 103.0h0M153.4 113.4h0M147.5 99.2h0M154.7 107.7h0M158.2 111.3h0M150.0 100.9h0M155.3 105.0h0M149.3 106.2h0M147.0 111.8h0M150.9 116.5h0M150.7 107.4h0M152.1 119.5h0M149.8 113.6h0M148.3 110.5h0M149.0 117.8h0M149.0 117.4h0M154.5 107.4h0M158.1 105.7h0M155.4 111.0h0M151.3 97.6h0M150.9 103.0h0M151.2 119.9h0M149.1 113.4h0M154.4 102.1h0M150.8 99.3h0M157.5 102.3h0M150.9 104.5h0M156.5 117.3h0M153.3 109.6h0M146.2 105.1h0M150.2 114.1h0M154.4 104.6h0M145.3 111.8h0M151.6 105.0h0M151.5 103.9h0M154.4 111.1h0M156.6 112.2h0M145.9 107.6h0M150.6 112.4h0M147.9 105.2h0M147.0 105.9h0M155.4 98.1h0M147.3 112.2h0M153.7 114.6h0M148.5 116.3h0M155.2 115.4h0M146.7 107.7h0M152.5 109.3h0M146.6 115.7h0M149.2 108.7h0M146.7 110.2h0M152.2 103.3h0M155.9 102.2h0M150.8 97.4h0M148.0 107.3h0M152.8 107.5h0M156.9 99.9h0M158.6 109.1h0M150.7 111.3h0M147.2 116.5h0M155.3 113.8h0M147.2 109.3h0M154.0 117.2h0M145.6 106.4h0M146.1 102.5h0M149.6 108.2h0M154.2 118.2h0M158.3 110.2h0M152.0 118.6h0M150.5 103.5h0M155.4 102.5h0M150.2 106.7h0M151.7 105.0h0M151.0 107.3h0M145.9 109.2h0M152.7 106.0h0M148.1 98.5h0M150.2 103.9h0M151.8 101.8h0M155.5 108.2h0M153.3 120.0h0" stroke="#cfe9cb" stroke-width="1.50" stroke-linecap="round" stroke-opacity="1.0" fill="none"/>
<path d="M89.1 127.2h0M89.2 123.6h0M94.3 127.1h0M88.0 126.0h0M92.3 129.0h0M82.4 121.1h0M86.7 123.2h0M98.3 125.1h0M87.4 128.2h0M98.2 127.7h0M93.1 131.1h0M101.3 129.0h0M97.1 125.0h0M98.0 125.3h0M97.4 124.5h0M90.9 125.2h0M83.8 123.8h0M95.6 126.6h0M83.7 121.4h0M93.3 131.1h0M85.8 125.0h0M92.8 130.1h0M90.5 124.5h0M95.7 131.1h0M91.9 128.3h0M89.6 129.3h0M84.8 127.0h0M85.6 124.2h0M84.8 124.2h0M94.0 126.2h0M89.6 126.9h0M93.8 125.8h0M93.6 123.1h0M89.4 128.6h0M90.6 127.4h0M91.7 122.8h0M93.5 126.6h0M88.4 121.8h0M101.7 129.2h0M85.5 126.4h0M97.7 127.0h0M100.6 131.1h0M96.1 124.4h0M101.7 128.6h0M86.6 120.2h0M92.8 123.0h0M87.6 123.0h0M84.1 125.8h0M87.1 123.4h0M87.2 126.1h0M99.7 130.3h0M94.3 126.5h0M97.0 126.4h0M95.4 131.0h0M89.1 129.4h0M86.3 125.4h0M89.2 128.7h0M93.4 124.2h0M99.6 129.4h0M92.6 122.2h0M92.6 124.3h0M92.0 122.4h0M96.4 125.0h0M91.7 126.7h0M84.2 123.6h0M88.5 128.4h0M101.7 131.1h0M99.7 131.2h0M93.9 128.2h0M94.4 127.4h0M81.9 121.3h0M99.9 131.5h0M99.1 128.3h0M92.4 127.0h0M97.5 129.7h0M98.3 131.7h0M99.2 124.9h0M88.5 124.2h0M86.9 127.0h0M92.6 124.0h0M95.8 125.5h0M85.0 121.8h0M86.7 125.7h0M86.4 127.9h0M86.9 126.3h0M85.2 122.8h0M87.7 124.0h0M96.9 128.1h0M98.2 126.5h0M86.5 122.6h0M89.2 124.3h0M89.6 121.6h0M98.2 129.4h0M89.4 123.4h0M94.0 128.9h0M91.5 129.8h0M89.4 120.8h0M101.9 131.2h0M100.2 128.7h0M89.3 121.4h0M82.8 122.2h0M88.7 120.6h0M87.9 122.2h0M83.9 126.3h0M92.9 126.8h0M97.6 126.3h0M86.1 120.9h0M84.7 124.0h0M93.5 123.5h0M98.3 131.7h0" stroke="#fbd39f" stroke-width="1.50" stroke-linecap="round" stroke-opacity="1.0" fill="none"/>
<path d="M97.1 130.7h0M102.9 128.2h0M103.6 134.5h0M101.7 129.9h0M101.2 128.0h0M102.7 130.4h0M103.3 132.9h0M101.1 130.4h0M102.0 133.5h0M96.6 130.0h0M99.1 130.3h0M103.5 130.2h0M103.3 130.4h0M98.9 128.7h0M96.9 130.5h0M99.8 131.7h0M103.9 128.2h0M97.8 131.2h0M98.4 130.4h0M102.9 129.2h0" stroke="#fbd39f" stroke-width="1.50" stroke-linecap="round" stroke-opacity="1.0" fill="none"/>
<path d="M121.9 117.6h0M117.0 108.2h0M120.0 111.3h0M119.0 109.1h0M120.7 119.7h0M119.3 116.6h0M120.2 112.5h0M120.2 111.4h0M118.2 109.2h0M120.0 113.1h0M117.7 110.9h0M119.0 110.1h0M120.5 118.9h0M120.2 119.1h0M118.3 113.6h0M119.8 119.3h0M119.9 109.2h0M119.4 111.4h0M121.2 115.3h0M120.1 117.4h0M120.6 114.5h0M119.9 107.8h0M119.6 109.4h0M118.4 114.5h0M121.4 113.5h0" stroke="#7b68b5" stroke-width="1.50" stroke-linecap="round" stroke-opacity="1.0" fill="none"/>
<path d="M126.0 128.0h0M128.4 130.5h0M118.2 132.3h0M128.4 152.8h0M131.2 155.2h0M133.3 148.0h0M135.7 148.7h0M123.6 140.1h0M131.0 151.4h0M124.9 137.6h0M117.7 132.5h0M126.3 150.5h0M136.1 137.8h0M132.6 136.9h0M118.0 144.6h0M123.5 127.2h0M132.7 146.3h0M123.5 154.3h0M117.5 133.7h0M125.6 135.4h0M118.5 128.3h0M110.3 139.5h0M127.7 141.3h0M120.4 135.4h0M113.7 143.1h0M128.8 154.9h0M125.0 149.7h0M116.8 146.0h0M124.7 136.5h0M130.3 152.8h0M119.5 154.8h0M127.6 152.8h0M122.1 140.8h0M113.5 143.3h0M121.4 131.6h0M120.6 147.4h0M130.7 141.8h0M127.9 151.1h0M126.4 127.5h0M129.8 130.9h0M111.9 144.4h0M119.7 142.9h0M133.2 144.0h0M126.0 137.8h0M117.1 134.5h0M133.1 144.1h0M121.4 140.3h0M134.6 136.1h0M131.8 152.3h0M122.5 139.6h0M122.5 143.1h0M121.3 136.7h0M131.5 143.5h0M122.6 157.3h0M121.5 139.6h0M131.8 140.2h0M128.6 153.3h0M135.6 150.3h0M127.6 142.2h0M127.1 133.9h0M130.6 145.9h0M137.0 139.2h0M128.5 125.0h0M121.4 153.9h0M116.2 140.2h0M126.3 156.1h0M132.1 140.9h0M124.4 154.2h0M131.1 153.8h0M126.4 135.7h0M129.2 147.0h0M118.0 153.3h0M135.7 135.5h0M125.2 146.1h0M123.7 131.9h0M127.6 136.7h0M132.6 142.5h0M113.9 148.2h0M122.2 145.2h0M135.0 139.3h0M131.8 129.2h0M121.1 136.3h0M118.4 146.1h0M110.8 139.5h0M128.5 131.7h0M134.7 135.3h0M130.3 135.6h0M123.1 151.5h0M134.5 133.1h0M128.6 151.5h0M115.7 142.3h0M118.5 142.2h0M131.6 147.1h0M114.6 133.8h0M127.0 131.2h0M135.5 138.5h0M122.4 142.8h0M132.4 159.3h0M127.5 132.8h0M133.7 134.6h0M120.4 135.4h0M128.5 127.8h0M128.4 128.8h0M133.4 147.6h0M125.5 129.3h0M111.0 138.3h0M128.0 131.9h0M129.4 137.8h0M122.3 136.2h0M124.7 139.5h0M119.4 134.8h0M117.2 136.6h0M126.3 135.1h0M123.0 144.4h0M130.1 148.7h0M127.7 151.9h0M123.9 140.0h0M120.3 145.2h0M122.9 145.8h0M123.6 154.2h0M134.5 134.5h0M126.8 136.1h0M133.0 150.9h0M128.3 153.6h0M122.1 141.3h0M124.8 159.5h0M125.5 145.2h0M113.1 147.1h0M136.3 142.6h0M130.5 147.8h0M124.9 132.6h0M122.5 159.5h0M127.7 134.3h0M122.6 146.0h0M120.2 146.8h0M126.8 126.5h0M130.3 138.3h0M136.4 147.0h0M113.8 151.1h0M128.4 153.5h0M132.5 130.9h0M114.0 143.0h0M136.0 137.0h0M126.0 161.0h0M120.1 155.6h0M115.1 144.1h0M136.3 135.0h0M129.0 129.7h0M114.8 135.4h0M127.3 149.4h0M120.2 153.6h0M122.8 129.2h0M123.3 140.2h0M124.1 127.7h0M120.2 138.1h0M113.9 148.9h0M133.9 132.2h0M122.9 144.9h0M130.9 147.5h0M116.4 133.9h0M129.8 129.1h0M115.4 144.0h0M132.7 148.9h0M131.3 154.1h0M129.2 128.2h0M133.0 130.0h0M120.7 130.1h0M117.8 133.4h0M127.5 132.6h0M115.6 145.0h0M119.8 131.6h0M125.1 145.2h0M119.9 142.8h0M125.2 140.7h0" stroke="#7566b4" stroke-width="1.50" stroke-linecap="round" stroke-opacity="1.0" fill="none"/>
<path d="M126.8 142.5h0M130.9 148.4h0M126.2 145.0h0M123.9 133.0h0M127.0 140.3h0M122.4 133.8h0M127.5 153.7h0M132.9 132.7h0M126.1 140.5h0M126.0 135.2h0M129.7 151.3h0M127.0 136.1h0M123.4 132.3h0M131.9 137.3h0M131.4 150.2h0M123.1 136.3h0M126.1 149.7h0M131.6 139.0h0M127.9 140.2h0M128.1 150.3h0M125.4 150.6h0M134.0 145.8h0M124.2 154.8h0M124.6 150.5h0M123.6 139.0h0M127.7 151.3h0M130.8 136.7h0M133.7 151.9h0M128.6 133.2h0M125.7 138.7h0M127.4 153.7h0M129.7 150.9h0M122.9 137.6h0M131.5 139.8h0M125.0 133.4h0M129.1 141.2h0M129.3 138.7h0M126.4 143.3h0M126.9 138.2h0M122.7 138.8h0M125.9 134.6h0M126.7 142.2h0M128.8 132.6h0M129.2 143.3h0M126.5 149.3h0M128.5 150.2h0M132.9 152.6h0M131.4 147.5h0M128.0 144.3h0M129.5 144.1h0M132.6 151.7h0M130.0 145.8h0M128.2 140.6h0M129.3 135.3h0M131.8 143.2h0M131.6 139.1h0M124.9 148.9h0M133.4 149.9h0M125.6 133.9h0M131.2 148.8h0M128.9 132.8h0M128.2 139.8h0M127.8 138.3h0M130.7 134.5h0M126.3 141.4h0M128.1 142.0h0M132.8 137.3h0M125.2 142.6h0M130.4 145.9h0M126.1 132.4h0M123.2 136.8h0M131.5 151.3h0M122.5 137.5h0M125.2 150.1h0M134.6 148.5h0M128.1 149.2h0M132.0 143.7h0M125.5 144.1h0M130.6 139.5h0M130.3 135.4h0M124.9 154.1h0M132.9 151.5h0M132.7 145.0h0M132.9 151.3h0M122.6 133.4h0M131.5 143.2h0M127.8 147.5h0M130.6 148.0h0M126.8 146.7h0M131.4 150.5h0" stroke="#5e4fae" stroke-width="1.50" stroke-linecap="round" stroke-opacity="1.0" fill="none"/>
<path d="M122.5 133.6h0M122.2 151.2h0M124.8 130.0h0M116.6 134.4h0M116.0 141.4h0M128.8 159.8h0M128.3 126.8h0M133.4 148.5h0M129.8 148.7h0M119.6 138.6h0M134.6 150.7h0M126.4 155.9h0M127.2 157.9h0M126.5 139.4h0M126.0 157.6h0M122.5 159.2h0M118.8 139.0h0M117.4 151.6h0M112.6 137.3h0M120.7 130.6h0M126.1 141.6h0M131.7 138.6h0M124.3 134.4h0M134.2 136.8h0M123.2 145.4h0M117.2 145.8h0M111.8 138.9h0M130.8 151.9h0M126.1 158.1h0M130.0 128.0h0M132.7 162.6h0M130.9 131.8h0M125.3 149.1h0M126.3 131.0h0M136.1 144.9h0M120.4 128.6h0M128.1 135.6h0M115.9 137.2h0M126.4 137.8h0M127.9 159.5h0M134.9 135.4h0M132.2 129.3h0M125.7 128.8h0M131.4 128.2h0M133.9 156.3h0M123.4 142.5h0M135.0 151.1h0M128.9 138.2h0M130.8 147.4h0M121.2 145.5h0" stroke="#9e9ad0" stroke-width="1.50" stroke-linecap="round" stroke-opacity="1.0" fill="none"/>
<path d="M97.4 157.1h0M117.1 159.5h0M89.9 170.5h0M98.3 155.3h0M102.5 161.7h0M119.8 159.1h0M116.3 167.3h0M108.4 179.9h0M97.0 173.4h0M117.8 168.3h0M117.8 160.3h0M95.4 164.1h0M91.2 167.3h0M115.6 156.9h0M116.1 155.4h0M100.9 177.7h0M88.8 168.4h0M106.5 175.6h0M104.2 157.2h0M105.9 148.8h0M111.0 162.4h0M117.6 161.5h0M114.0 170.2h0M104.5 151.0h0M109.7 151.8h0M94.1 170.0h0M109.4 177.6h0M116.1 151.3h0M113.5 165.9h0M95.5 159.3h0M98.2 162.3h0M118.5 157.1h0M108.6 147.6h0M104.9 151.7h0M107.2 148.2h0M102.6 177.9h0M103.5 163.5h0M106.6 163.0h0M93.8 164.4h0M92.4 179.7h0M108.2 180.4h0M107.7 152.9h0M98.4 178.8h0M109.6 147.9h0M94.8 164.6h0M108.3 156.5h0M90.4 167.3h0M102.1 183.5h0M108.4 154.6h0M109.3 182.1h0M107.7 156.7h0M118.2 159.7h0M96.4 172.2h0M90.5 169.6h0M114.3 151.5h0M100.5 183.4h0M107.0 158.5h0M101.9 168.6h0M101.2 164.1h0M115.7 168.0h0M105.5 170.8h0M106.6 172.4h0M106.8 168.3h0M119.8 156.8h0M107.8 166.9h0M103.0 153.2h0M114.4 149.0h0M96.9 157.2h0M91.7 167.0h0M93.9 171.2h0M103.7 170.2h0M98.3 165.0h0M111.4 155.2h0M106.3 176.3h0M97.9 160.6h0M102.8 175.0h0M111.2 152.9h0M109.1 160.7h0M108.9 176.8h0M102.9 176.5h0M105.9 150.5h0M102.4 185.2h0M104.7 152.7h0M105.7 160.0h0M96.3 174.6h0M93.7 167.4h0M101.8 172.0h0M104.3 152.9h0M100.3 163.5h0M117.3 150.3h0M106.1 164.6h0M106.9 177.8h0M108.5 157.5h0M110.6 166.1h0M95.4 163.5h0M102.0 169.5h0M100.7 156.5h0M112.0 163.7h0M111.3 156.0h0M115.9 156.1h0M116.4 163.9h0M102.4 169.8h0M105.2 168.5h0M107.0 183.8h0M112.3 150.0h0M95.4 165.5h0M104.9 185.4h0M110.5 180.3h0M108.2 182.6h0M109.8 155.6h0M101.1 166.0h0M104.1 154.9h0M105.8 178.6h0M94.8 167.0h0M104.2 166.7h0M110.0 150.0h0M106.7 154.5h0M97.2 176.4h0M103.4 152.7h0M108.9 163.9h0M105.8 173.0h0M97.4 176.1h0M105.4 153.9h0M106.3 156.9h0M118.7 162.8h0M103.5 177.2h0M104.9 162.1h0M92.8 172.2h0M100.2 165.9h0M101.4 162.9h0M104.4 166.4h0M93.3 175.7h0M97.0 162.3h0M102.1 173.6h0M107.2 149.7h0M104.9 155.6h0M98.6 182.9h0M103.8 176.3h0M93.8 171.5h0M113.8 176.2h0M95.4 166.3h0M113.5 169.4h0M105.7 152.5h0M105.7 168.9h0M104.4 171.0h0M106.6 171.2h0M100.8 179.4h0M105.9 181.6h0M113.2 173.6h0M106.5 155.1h0M92.7 172.4h0M106.3 169.7h0M103.4 156.2h0M99.0 173.8h0M116.7 158.2h0M98.5 163.4h0M100.9 171.2h0M113.6 176.2h0M115.2 174.2h0M120.8 162.0h0M103.7 172.2h0M99.2 180.3h0M102.8 168.1h0M104.4 160.7h0M104.1 183.3h0M99.6 182.7h0M111.9 179.8h0M115.5 153.9h0M105.2 149.3h0M100.7 167.1h0M115.6 156.0h0M111.0 152.1h0M107.5 168.0h0M111.7 162.3h0M107.5 181.2h0M106.6 170.8h0M103.8 154.5h0M114.2 171.6h0M116.5 167.8h0M95.5 164.7h0M103.4 160.6h0M107.6 151.8h0M90.6 166.3h0M112.6 161.6h0M116.4 170.4h0M110.3 157.5h0M116.8 158.8h0M116.3 156.1h0M93.7 175.5h0M93.2 161.1h0M101.5 159.5h0M99.8 151.9h0M114.7 160.3h0M111.5 163.7h0M111.4 180.0h0M103.0 170.1h0M108.8 151.5h0M110.8 154.7h0M107.7 161.7h0M119.9 163.9h0M97.5 158.5h0M119.2 159.8h0M96.6 166.9h0M113.4 165.9h0M105.6 176.3h0M112.4 148.2h0M94.1 166.2h0M99.0 177.9h0M105.6 167.2h0M114.6 161.8h0M114.7 149.1h0M102.5 168.1h0M104.0 153.2h0M109.8 164.3h0M111.1 147.1h0M113.7 164.5h0M97.8 177.0h0M104.8 158.1h0M107.0 184.0h0M106.3 173.8h0M92.1 163.8h0" stroke="#4b1f8e" stroke-width="1.50" stroke-linecap="round" stroke-opacity="1.0" fill="none"/>
<path d="M112.4 135.0h0M108.8 144.3h0M113.3 131.9h0M105.3 144.5h0M117.1 127.0h0M106.0 146.0h0M111.0 137.7h0M106.5 142.5h0M109.6 143.2h0M104.1 144.3h0M110.1 141.1h0M109.9 136.2h0M116.4 127.4h0M102.4 144.4h0M119.3 130.0h0M109.7 141.0h0M105.8 150.1h0M114.2 128.1h0M105.8 144.9h0M111.7 130.8h0M113.7 133.8h0M109.5 137.3h0M108.0 139.7h0M114.1 138.2h0M114.1 130.8h0M107.4 139.2h0M102.8 145.3h0M103.7 145.3h0M108.3 135.2h0M107.1 140.2h0M115.3 128.9h0M115.5 130.0h0M117.7 129.3h0M113.8 128.6h0M107.3 141.8h0M114.9 131.0h0M110.5 133.5h0M107.0 143.4h0M111.8 134.1h0M117.3 132.5h0" stroke="#5a3a9a" stroke-width="1.50" stroke-linecap="round" stroke-opacity="1.0" fill="none"/>
<path d="M147.7 144.4h0M152.2 149.3h0M150.9 136.6h0M142.3 139.5h0M144.0 152.9h0M148.2 152.4h0M136.6 142.8h0M143.8 134.1h0M151.2 141.8h0M139.4 133.4h0M144.7 140.8h0M152.1 149.4h0M142.7 135.6h0M146.0 145.4h0M144.1 142.9h0M139.2 154.0h0M140.7 140.6h0M142.8 139.6h0M148.7 133.8h0M145.0 151.7h0M141.2 152.2h0M141.4 149.1h0M136.8 140.2h0M145.1 148.7h0M144.7 156.1h0M139.9 137.0h0M146.2 137.7h0M146.2 156.6h0M148.9 148.1h0M150.7 155.6h0M139.8 142.0h0M146.5 149.3h0M141.2 133.6h0M140.9 137.7h0M146.4 150.0h0M146.3 157.4h0M136.8 141.7h0M151.4 144.6h0M149.4 136.3h0M141.4 154.2h0M140.3 152.2h0M145.8 150.0h0M152.7 141.9h0M145.6 151.2h0M143.7 149.1h0M142.0 139.0h0M140.2 137.6h0M147.5 133.5h0M137.1 145.7h0M147.0 152.5h0M138.7 145.8h0M135.3 146.1h0M137.2 141.0h0M143.6 137.3h0M138.6 156.5h0M146.7 159.0h0M140.7 152.3h0M149.2 151.4h0M142.6 147.6h0M151.7 147.6h0M135.5 144.0h0M150.7 151.6h0M143.7 158.1h0M148.6 137.5h0M147.6 156.2h0M142.8 155.6h0M140.5 137.3h0M146.8 154.1h0M146.7 157.4h0M137.1 139.3h0M142.2 154.0h0M150.7 146.4h0M148.3 154.7h0M144.4 150.7h0M150.4 155.1h0M147.7 154.7h0M138.4 155.7h0M148.6 135.8h0M137.8 150.1h0M146.2 135.6h0M151.3 137.2h0M137.2 151.3h0M144.9 157.5h0M143.0 143.0h0M139.2 155.6h0M140.8 157.4h0M152.1 140.3h0M145.6 143.0h0M143.9 154.2h0M139.1 154.7h0M141.8 142.2h0M150.2 155.9h0M139.3 152.5h0M141.4 153.2h0M146.9 133.0h0M143.5 143.3h0M143.3 147.1h0M147.4 142.7h0M144.4 155.0h0M147.3 136.6h0M137.5 138.9h0M152.1 142.2h0M147.6 141.7h0M148.4 145.6h0M152.1 145.5h0M146.5 150.9h0M146.3 136.2h0M145.2 143.4h0M147.2 153.5h0M138.7 141.7h0M143.8 144.0h0M150.5 145.6h0M137.3 141.8h0M136.5 142.6h0M143.1 144.9h0M138.0 136.2h0M147.2 146.0h0M142.4 145.3h0M142.4 150.7h0M145.7 132.4h0M143.9 138.3h0M145.5 144.4h0M148.4 148.9h0M144.1 134.3h0M148.1 136.7h0M141.8 147.9h0M139.8 156.0h0M144.8 159.2h0M135.4 144.5h0M140.8 147.7h0M146.7 148.1h0M151.9 143.8h0M141.7 152.7h0M145.0 138.8h0M151.6 137.5h0M136.3 146.6h0M149.7 148.7h0M144.2 139.4h0M138.0 143.8h0M150.0 147.1h0M144.8 148.1h0M142.5 157.3h0M150.0 136.2h0M151.2 150.6h0M141.5 152.6h0M142.6 151.1h0M144.1 149.3h0M143.6 142.2h0M147.9 150.3h0M136.7 145.8h0" stroke="#5fba6a" stroke-width="1.50" stroke-linecap="round" stroke-opacity="1.0" fill="none"/>
<path d="M140.0 149.8h0M138.0 139.6h0M139.5 139.1h0M145.2 156.0h0M146.5 149.7h0M148.7 142.3h0M142.7 149.9h0M138.7 152.8h0M139.0 134.8h0M146.1 141.1h0M138.2 148.6h0M144.7 146.6h0M144.2 148.9h0M149.0 151.9h0M147.7 155.0h0M143.5 149.5h0M143.1 150.7h0M140.2 145.2h0M137.8 138.3h0M146.4 141.5h0M141.2 134.8h0M151.5 143.8h0M145.4 138.1h0M147.6 132.9h0M144.6 140.4h0M152.1 143.7h0M150.1 131.8h0M139.7 141.5h0M144.5 142.1h0M140.5 144.8h0M143.4 136.3h0M144.3 147.7h0M145.3 152.5h0M143.2 137.2h0M140.5 143.1h0M142.4 137.1h0M150.5 139.8h0M144.8 148.7h0M137.3 143.5h0M137.4 146.7h0M148.1 155.8h0M143.3 150.3h0M141.7 158.4h0M143.9 156.2h0M136.2 142.3h0M147.5 155.3h0M143.9 155.9h0M148.7 143.0h0M147.8 146.0h0M139.2 153.5h0M135.7 145.5h0M140.4 145.7h0M141.9 146.9h0M142.8 153.0h0M146.8 139.1h0M138.6 137.9h0M140.9 143.3h0M144.1 153.2h0M140.3 146.0h0M145.6 142.1h0" stroke="#41ab5d" stroke-width="1.50" stroke-linecap="round" stroke-opacity="1.0" fill="none"/>
<path d="M157.2 150.6h0M172.2 136.7h0M156.9 144.6h0M159.3 156.5h0M169.0 148.8h0M150.5 135.9h0M159.2 133.2h0M154.0 149.4h0M150.6 145.7h0M176.4 143.8h0M165.2 138.6h0M173.1 142.3h0M159.1 134.8h0M152.1 142.7h0M162.8 145.6h0M158.5 156.6h0M157.8 156.0h0M166.4 143.6h0M166.9 143.2h0M160.9 140.5h0M158.1 140.0h0M158.1 143.8h0M158.8 150.1h0M159.1 157.2h0M157.9 147.1h0M160.8 142.3h0M158.2 143.4h0M157.7 144.5h0M167.4 143.1h0M173.3 145.8h0M165.5 147.7h0M157.9 137.6h0M150.3 149.9h0M153.2 135.6h0M154.4 131.5h0M172.0 147.5h0M150.9 143.1h0M155.7 154.9h0M157.4 150.3h0M153.7 137.5h0M154.6 147.4h0M160.5 152.4h0M161.0 153.8h0M166.4 140.0h0M160.3 146.0h0M153.9 147.9h0M164.1 141.0h0M156.6 129.5h0M162.0 143.8h0M159.1 147.6h0M162.9 152.2h0M158.8 137.7h0M152.5 125.4h0M162.7 137.7h0M157.4 146.0h0M153.9 148.4h0M157.6 151.7h0M160.3 142.6h0M158.4 138.8h0M163.6 153.3h0M166.0 136.6h0M171.6 147.5h0M164.2 151.0h0M151.3 148.1h0M165.1 151.7h0M165.7 151.1h0M154.9 140.6h0M160.9 149.2h0M167.2 134.4h0M154.7 139.1h0M154.8 129.2h0M165.7 138.5h0M164.2 143.9h0M164.0 144.9h0M151.9 136.9h0M155.7 130.4h0M162.2 135.9h0M161.0 155.8h0M155.0 150.6h0M170.0 139.7h0M151.4 134.1h0M159.3 151.9h0M155.0 131.6h0M161.2 135.5h0M156.2 151.1h0M150.2 143.3h0M154.0 135.3h0M158.8 140.6h0M157.6 130.8h0M171.7 142.3h0M171.7 136.0h0M174.0 143.4h0M177.5 140.9h0M165.5 144.2h0M171.2 142.9h0M171.7 144.6h0M152.5 135.6h0M161.3 137.2h0M166.6 132.4h0M163.5 137.1h0M164.6 130.4h0M174.4 143.3h0M165.7 148.9h0M163.6 153.4h0M159.0 132.3h0M168.5 149.6h0M176.5 142.2h0M151.8 125.4h0M152.6 128.6h0M155.3 134.7h0M154.5 154.6h0M160.8 141.3h0M167.0 134.9h0M169.0 142.1h0M164.9 146.9h0M155.9 154.3h0M158.2 157.2h0M155.7 153.8h0M158.0 152.6h0M161.4 144.2h0M156.2 148.2h0M155.0 132.8h0M163.4 142.0h0M151.0 133.5h0M153.2 146.3h0M154.6 130.4h0M154.3 150.7h0M169.6 134.5h0M159.4 133.9h0M166.4 144.5h0M154.0 129.5h0M168.8 134.1h0M152.9 126.5h0M175.7 143.3h0M150.6 136.8h0M165.8 144.7h0M150.4 135.7h0M156.3 131.6h0M170.5 136.7h0M177.5 144.2h0M164.9 151.4h0M166.9 140.2h0M155.2 152.8h0M168.9 140.7h0M160.8 146.7h0M163.8 144.4h0M151.4 130.6h0M165.8 146.9h0M155.0 139.1h0M154.9 133.3h0M164.7 148.7h0M153.2 130.3h0M164.1 142.8h0M155.3 147.8h0M152.7 142.8h0M158.1 134.0h0M152.3 148.9h0M166.6 149.1h0M157.4 157.9h0M171.6 142.3h0M153.4 139.7h0M150.7 131.6h0M156.2 136.3h0M162.5 143.2h0M151.4 144.3h0M152.1 135.5h0M163.1 134.8h0M159.9 134.8h0M154.9 135.4h0M170.7 136.7h0M158.1 154.5h0M158.6 154.1h0M164.3 130.4h0M155.4 149.0h0M156.4 147.9h0M170.1 148.3h0M159.4 137.5h0M173.8 143.6h0M169.5 147.2h0M171.5 137.0h0M151.9 125.6h0M163.4 131.5h0M160.9 136.6h0M158.1 155.6h0M155.9 149.1h0M154.9 140.6h0M165.0 135.3h0M153.6 153.0h0M156.1 126.3h0M170.8 136.9h0M169.2 133.8h0M163.2 145.2h0M155.3 149.1h0M171.2 147.4h0M161.0 155.6h0M158.0 156.9h0M160.9 138.7h0M155.5 147.7h0M166.7 147.6h0M171.6 138.1h0M161.4 130.4h0M168.8 135.9h0M156.3 131.5h0M166.8 140.4h0M157.2 130.7h0M158.4 143.6h0M157.7 133.7h0M153.3 126.5h0M158.6 141.5h0M163.7 149.4h0M167.1 149.3h0M152.0 134.6h0M158.2 141.3h0M153.9 126.2h0M151.6 147.3h0M155.9 146.0h0M164.9 134.2h0M157.3 157.2h0M164.4 150.2h0M164.7 133.6h0M160.6 142.3h0M159.3 142.5h0M150.8 137.9h0M153.5 141.2h0M163.3 134.6h0M166.3 140.0h0M174.2 141.0h0M161.0 143.4h0M161.0 135.4h0M169.9 147.9h0" stroke="#df8a23" stroke-width="1.50" stroke-linecap="round" stroke-opacity="1.0" fill="none"/>
<path d="M147.8 144.5h0M135.7 160.9h0M114.2 183.0h0M111.0 115.7h0M137.5 169.0h0M168.2 123.9h0M174.2 132.9h0M125.6 112.0h0M140.4 146.2h0M115.2 123.9h0M118.1 116.7h0M115.0 123.4h0M102.9 147.4h0M115.9 117.2h0M163.5 140.8h0M142.9 157.3h0M105.1 119.3h0M114.8 172.2h0M161.9 142.6h0M141.7 166.0h0M145.2 102.3h0M134.1 114.3h0M111.7 125.6h0M144.5 157.6h0M121.0 132.5h0M128.2 156.8h0M150.2 126.3h0M142.6 158.6h0M143.0 119.0h0M97.0 135.4h0M130.2 114.6h0M175.0 144.5h0M119.4 147.1h0M145.3 132.0h0M163.8 138.3h0M153.9 110.5h0M153.3 158.1h0M141.1 164.4h0M141.5 170.9h0M108.2 139.7h0M148.5 101.5h0M102.4 164.7h0M145.8 140.1h0M132.4 152.2h0M123.7 170.9h0M141.4 136.3h0M138.8 162.4h0M155.3 118.2h0M102.2 143.2h0M101.6 140.0h0M159.3 136.8h0M169.2 129.2h0M136.2 120.2h0M106.1 149.9h0M119.7 164.2h0M144.3 170.7h0M114.7 140.1h0M120.6 168.6h0M170.6 126.5h0M109.8 161.5h0M106.1 152.5h0M132.8 106.5h0M99.7 180.5h0M149.8 173.2h0M160.6 111.2h0M121.7 111.4h0M143.7 158.3h0M132.5 121.7h0M111.2 175.9h0M140.0 117.5h0M151.8 102.1h0M154.1 115.7h0M143.1 127.5h0M120.2 177.5h0M100.2 141.6h0M136.3 122.6h0M109.3 142.4h0M119.3 130.9h0M116.9 162.5h0M130.3 152.8h0M145.1 162.5h0M174.2 148.3h0M154.0 147.9h0M101.5 174.2h0M158.2 142.6h0M175.5 134.6h0M132.8 136.0h0M133.9 161.7h0M142.7 147.4h0M113.2 121.8h0M112.3 172.5h0M152.1 124.3h0M104.1 158.9h0M158.5 155.9h0M155.8 151.8h0M112.0 181.6h0M109.4 171.6h0M109.7 128.1h0M129.0 134.2h0M148.4 128.0h0M115.4 112.8h0M147.0 163.4h0M113.9 165.7h0M146.4 149.4h0M139.7 134.1h0M108.6 176.6h0M152.4 141.7h0M148.0 125.9h0M145.4 104.0h0M112.5 164.7h0M108.3 150.3h0M140.2 174.5h0M97.6 154.4h0M101.1 166.7h0M102.6 141.2h0M120.4 155.7h0M141.0 142.0h0M145.6 137.3h0M127.2 167.5h0M104.4 142.8h0M137.2 170.1h0M146.1 131.6h0M127.6 155.5h0M126.0 142.0h0M137.3 154.8h0M101.7 150.0h0M153.8 128.1h0M140.8 132.6h0M107.9 119.2h0M141.0 171.5h0M129.1 146.3h0M126.6 175.9h0M121.4 181.6h0M133.0 155.4h0M134.7 128.1h0M146.2 114.5h0M118.6 163.2h0M112.6 128.5h0M95.5 125.5h0M103.3 133.6h0M101.9 183.9h0M116.9 129.9h0M100.4 172.2h0M173.0 139.3h0M144.3 102.0h0M115.9 174.8h0M108.6 140.9h0M119.3 148.9h0M116.3 146.6h0M104.6 169.9h0M133.0 143.7h0M151.1 119.3h0M111.0 133.8h0M158.9 164.5h0M134.1 152.7h0M149.4 171.3h0M126.4 150.0h0M155.4 145.6h0M159.7 120.8h0M161.7 125.2h0" stroke="#c8b0d8" stroke-width="1.20" stroke-linecap="round" stroke-opacity="1.0" fill="none"/>
<path d="M224.0 150.0 L223.8 151.8 L223.1 153.5 L221.9 154.9 L220.5 156.1 L218.8 156.8 L217.0 157.0 L215.2 156.8 L213.5 156.1 L212.1 154.9 L210.9 153.5 L210.2 151.8 L210.0 150.0 L210.2 148.2 L210.9 146.5 L212.1 145.1 L213.5 143.9 L215.2 143.2 L217.0 143.0 L218.8 143.2 L220.5 143.9 L221.9 145.1 L223.1 146.5 L223.8 148.2Z" fill="#e3302a" fill-opacity="0.8"/>
<path d="M219.5 143.4h0M217.2 159.4h0M220.1 155.8h0M222.5 155.8h0M223.6 154.3h0M209.8 153.7h0M218.8 162.7h0M217.7 158.3h0M221.9 141.9h0M219.5 162.7h0M222.1 147.2h0M228.7 156.2h0M220.8 150.4h0M219.3 147.8h0M218.1 154.9h0M214.8 153.8h0M226.3 158.3h0M224.7 145.0h0M219.6 143.1h0M224.7 158.1h0M211.8 151.1h0M210.1 155.7h0M223.3 142.9h0M221.6 160.3h0M211.2 156.9h0M212.8 159.5h0M216.8 144.0h0M226.3 148.4h0M214.2 151.9h0M218.1 152.0h0M227.9 150.2h0M224.4 160.3h0M221.2 158.0h0M213.0 147.0h0M219.4 162.4h0M221.3 146.7h0M216.1 146.9h0M218.0 142.8h0M225.4 146.5h0M215.5 162.5h0M215.8 148.3h0M223.9 146.0h0M224.9 158.2h0M225.1 153.7h0M211.0 154.5h0M220.7 151.0h0M223.6 145.3h0M216.9 155.2h0M226.8 146.8h0M216.8 152.7h0M218.7 143.4h0M215.9 161.6h0M216.0 160.3h0M226.7 152.1h0M228.4 147.0h0M216.7 144.3h0M227.0 152.9h0M221.1 152.9h0M228.2 151.9h0M219.4 151.1h0M222.5 152.1h0M210.3 156.1h0M209.6 150.5h0M213.0 149.0h0M212.8 145.5h0M218.4 143.7h0M214.3 156.3h0M217.6 145.3h0M224.7 149.6h0M218.4 150.8h0M221.3 143.3h0M222.8 147.7h0M226.2 147.6h0M217.3 158.3h0M226.0 146.8h0M213.4 151.6h0M220.2 153.3h0M217.6 157.8h0M214.6 149.8h0M222.0 160.8h0M214.0 148.0h0M218.8 147.3h0M219.9 162.3h0M213.6 158.4h0M227.7 152.0h0M216.8 143.7h0M220.0 159.2h0M216.5 146.4h0M226.7 145.5h0M220.5 158.7h0M220.2 147.0h0M220.5 148.6h0M222.3 158.7h0M225.5 157.3h0M211.2 146.3h0M222.6 155.5h0M228.0 151.3h0M208.9 152.8h0M215.9 141.7h0M215.5 158.4h0M222.8 146.3h0M228.1 150.8h0M224.7 150.5h0M221.6 162.7h0M208.3 153.4h0M219.8 161.5h0M220.9 147.1h0M211.7 154.2h0M212.3 149.0h0M212.9 155.6h0M218.9 160.4h0M215.6 159.1h0M216.6 151.1h0M218.9 154.6h0M224.3 144.9h0M221.9 159.6h0M217.8 147.2h0M213.5 154.2h0M210.8 145.0h0M215.4 154.9h0M224.5 152.5h0M211.1 149.5h0M217.6 159.8h0M213.7 147.4h0M212.2 150.0h0M224.3 152.2h0M215.2 144.2h0M214.5 158.1h0M226.3 144.2h0M209.1 156.0h0M218.9 149.7h0M220.8 141.3h0M224.8 159.2h0M225.5 145.6h0M211.6 160.0h0M211.8 143.8h0M216.0 161.5h0M224.5 144.7h0M216.7 153.5h0M212.0 147.6h0M229.3 151.1h0M217.1 153.6h0M225.6 150.9h0M213.3 153.8h0M228.6 152.9h0M222.9 142.6h0M218.1 154.9h0M217.0 154.2h0M225.1 147.6h0M223.6 156.7h0M225.0 147.5h0M216.8 153.4h0M217.8 151.5h0M219.8 157.2h0M211.1 146.9h0M210.5 152.8h0M213.0 151.8h0M224.3 147.2h0M223.8 148.5h0M215.5 152.6h0M214.6 148.0h0M210.0 152.5h0M224.0 147.9h0M216.3 149.3h0M214.0 143.1h0M218.6 152.2h0M215.9 157.1h0M226.8 147.7h0M212.2 158.6h0M214.7 153.0h0M218.3 146.1h0M227.3 147.7h0M215.6 147.5h0M215.8 149.6h0M217.2 153.6h0M222.1 148.5h0M222.9 150.0h0M212.2 156.7h0M223.4 158.3h0M216.2 161.4h0M210.8 152.4h0M228.6 152.2h0M227.3 149.8h0M222.2 151.6h0M223.5 156.9h0M223.4 158.3h0M213.3 155.2h0M224.1 157.4h0M211.3 153.2h0M223.2 146.4h0M221.1 148.4h0M219.2 158.0h0M223.5 152.7h0M219.5 143.5h0M212.2 153.6h0M212.7 147.7h0M223.5 157.0h0M212.1 148.6h0M224.3 145.0h0M211.8 150.4h0M212.9 146.7h0M211.5 145.5h0M210.9 149.7h0M216.4 144.9h0M211.6 149.8h0M210.5 148.8h0M210.6 150.2h0M210.8 156.5h0M210.0 157.8h0M225.5 159.4h0M216.7 151.1h0M216.0 154.5h0M218.3 156.3h0M216.9 159.1h0M221.0 147.6h0M218.2 146.5h0M216.5 150.6h0M221.0 142.2h0M222.6 144.0h0M213.1 147.1h0M223.8 162.0h0M220.2 152.5h0M218.5 153.1h0M216.8 145.3h0M221.7 158.4h0M220.3 144.9h0M221.4 145.8h0M226.1 158.0h0M216.6 148.1h0M227.5 150.4h0M209.2 155.7h0M217.3 142.9h0M226.1 144.6h0M212.7 153.2h0M212.9 147.9h0M217.8 161.4h0M220.9 151.1h0M226.0 157.4h0M223.3 157.8h0M221.9 147.1h0M213.1 151.6h0M212.2 146.4h0M221.7 143.7h0M222.0 160.2h0M225.9 143.8h0M218.3 156.0h0M221.5 151.9h0M220.5 145.9h0M219.8 144.4h0M227.3 147.8h0M223.0 155.7h0M217.3 160.5h0M223.0 162.1h0M225.4 146.9h0M217.2 145.9h0M221.8 149.9h0M218.1 148.5h0M212.7 153.9h0M223.6 148.1h0M211.2 154.3h0M222.0 153.0h0M224.5 153.6h0M229.0 153.5h0M220.1 146.3h0M215.3 149.2h0M213.3 146.8h0M219.6 149.9h0M226.6 157.4h0M211.2 154.5h0M227.2 148.1h0M220.8 150.1h0M217.3 155.6h0M217.6 157.6h0M225.5 155.3h0M213.3 152.8h0M227.4 154.7h0M221.4 150.3h0M218.6 154.7h0M220.2 146.8h0M218.5 161.4h0M221.3 149.3h0M212.1 149.1h0M223.7 156.6h0M220.7 161.1h0M216.1 147.6h0M221.4 161.5h0M223.1 160.5h0M222.4 145.8h0M223.9 158.2h0M226.6 145.1h0M216.1 144.8h0M225.6 155.6h0M219.3 153.7h0M223.3 150.1h0M225.9 151.9h0M220.6 145.3h0M222.7 158.5h0M214.7 144.4h0M217.7 147.0h0M224.7 147.1h0M214.0 150.5h0M227.8 156.3h0M209.8 156.0h0M222.4 143.9h0M216.0 159.8h0M226.0 155.6h0M216.0 156.5h0M228.5 153.7h0M223.4 153.5h0M223.4 151.1h0M211.7 151.5h0M217.1 154.8h0M219.0 145.6h0M213.2 156.6h0M221.6 157.3h0M212.8 150.5h0M215.5 147.6h0M219.8 143.1h0M227.6 146.8h0M215.3 143.2h0M222.2 143.1h0M223.0 152.5h0M213.7 154.4h0M222.8 142.6h0M215.6 143.5h0M217.3 161.5h0M223.2 143.6h0M224.8 157.9h0M217.9 155.4h0M226.3 150.3h0" stroke="#e3302a" stroke-width="1.50" stroke-linecap="round" stroke-opacity="1.0" fill="none"/>
<path d="M242.0 130.0 L250.0 127.0 L262.0 126.0 L268.0 130.0 L269.0 140.0 L267.0 160.0 L263.0 172.0 L256.0 176.0 L249.0 172.0 L242.0 162.0 L236.0 152.0 L238.0 138.0Z" fill="#f1643e" fill-opacity="0.75"/>
<path d="M257.3 174.0h0M245.9 141.2h0M265.9 172.9h0M259.9 142.7h0M264.3 178.9h0M233.9 159.6h0M266.0 163.3h0M269.1 136.1h0M245.5 169.6h0M238.2 152.2h0M235.2 160.1h0M236.7 147.4h0M255.3 142.4h0M251.8 156.3h0M230.9 144.2h0M249.8 173.5h0M253.4 134.9h0M250.8 148.2h0M241.4 164.2h0M231.9 139.0h0M250.8 135.7h0M272.1 142.7h0M252.3 136.9h0M267.1 141.5h0M242.5 127.8h0M248.9 169.0h0M245.9 170.8h0M268.5 158.3h0M268.6 150.0h0M260.2 125.0h0M253.1 161.9h0M269.9 127.0h0M256.1 149.6h0M268.2 129.5h0M239.7 162.8h0M243.2 171.2h0M256.3 138.6h0M265.3 177.2h0M263.9 128.0h0M250.8 125.8h0M248.4 139.9h0M251.7 173.6h0M261.9 170.2h0M232.3 151.7h0M248.5 165.3h0M267.7 142.7h0M253.2 180.0h0M264.4 150.5h0M263.4 176.3h0M253.5 140.8h0M256.1 174.5h0M261.2 161.9h0M236.6 165.9h0M257.1 165.7h0M249.7 123.8h0M242.2 158.8h0M235.8 141.7h0M246.9 131.4h0M242.0 150.6h0M268.3 165.0h0M233.5 146.4h0M260.4 166.0h0M243.2 142.7h0M258.8 127.4h0M236.9 166.1h0M246.8 142.5h0M247.3 142.6h0M264.3 178.4h0M254.2 163.8h0M266.7 128.4h0M250.3 122.6h0M263.0 175.7h0M235.0 148.0h0M257.2 155.8h0M233.1 147.4h0M243.3 159.2h0M267.6 127.1h0M253.0 149.6h0M247.9 133.7h0M249.8 130.2h0M259.1 140.4h0M268.7 136.2h0M239.2 134.0h0M262.2 173.1h0M266.4 153.7h0M257.7 144.6h0M253.6 128.7h0M267.3 148.9h0M250.3 127.3h0M251.5 133.4h0M246.0 125.7h0M238.9 152.9h0M233.5 162.3h0M255.5 170.1h0M244.7 161.3h0M244.4 164.1h0M259.5 169.7h0M252.1 153.9h0M255.2 167.3h0M243.8 170.5h0M261.4 137.6h0M240.7 148.5h0M252.8 154.6h0M251.7 169.2h0M251.5 154.7h0M266.5 128.1h0M251.0 179.6h0M239.0 159.2h0M241.9 169.5h0M258.0 130.0h0M235.0 143.7h0M249.0 171.8h0M269.4 154.8h0M233.6 149.5h0M249.8 138.0h0M258.4 135.0h0M252.8 147.5h0M267.1 135.2h0M257.6 177.5h0M232.0 152.6h0M239.5 145.3h0M241.5 168.1h0M238.5 140.6h0M257.7 128.7h0M238.0 143.7h0M259.8 172.3h0M254.2 139.2h0M252.7 181.9h0M246.2 128.9h0M232.0 148.7h0M260.5 136.3h0M246.5 135.2h0M248.9 169.3h0M231.2 154.5h0M238.3 160.1h0M262.4 168.5h0M237.0 164.1h0M251.3 158.7h0M262.9 162.0h0M268.8 148.0h0M256.2 149.5h0M267.1 139.2h0M251.9 171.0h0M245.8 147.0h0M251.4 151.0h0M237.5 146.0h0M245.3 134.4h0M245.4 144.0h0M258.3 125.9h0M230.3 149.3h0M262.8 124.7h0M231.6 140.8h0M271.1 140.9h0M262.0 171.6h0M244.2 171.2h0M250.8 179.4h0M259.8 144.7h0M255.5 146.4h0M261.7 181.9h0M259.2 131.2h0M253.9 155.6h0M267.8 142.4h0M246.1 164.5h0M255.9 152.5h0M256.1 136.7h0M234.0 149.9h0M253.9 166.3h0M247.0 142.2h0M244.4 125.0h0M264.7 154.7h0M270.7 147.8h0M232.5 146.2h0M259.5 135.4h0M260.1 135.1h0M259.0 122.6h0M261.8 134.2h0M254.5 154.0h0M249.8 160.7h0M265.4 130.1h0M244.5 152.6h0M255.8 182.4h0M265.3 142.1h0M266.0 157.5h0M263.5 144.8h0M259.1 133.2h0M260.0 152.9h0M240.5 146.3h0M253.9 178.5h0M237.7 132.3h0M252.6 135.8h0M247.8 160.9h0M251.2 127.5h0M248.1 127.5h0M261.4 159.0h0M251.6 153.7h0M250.4 178.1h0M245.0 136.7h0M257.3 164.6h0M251.1 134.4h0M233.0 160.3h0M248.9 168.0h0M257.8 168.1h0M253.2 169.2h0M242.3 144.4h0M259.1 126.1h0M242.1 134.6h0M237.0 138.1h0M248.3 167.2h0M259.8 176.1h0M270.9 149.4h0M267.0 148.2h0M249.0 138.5h0M262.5 137.2h0M243.1 149.2h0M247.1 122.8h0M239.1 143.4h0M260.1 134.7h0M257.7 121.3h0M262.4 177.2h0M267.4 142.4h0M244.1 136.7h0M248.5 128.3h0M267.0 134.0h0M266.8 148.7h0M254.7 151.7h0M264.2 154.1h0M259.9 134.7h0M267.4 153.0h0M272.0 139.5h0M248.5 155.5h0M245.8 139.3h0M251.8 164.4h0M256.8 135.8h0M261.4 130.4h0M267.9 151.6h0M252.3 137.6h0M254.0 141.4h0M268.4 162.0h0M249.8 174.9h0M249.2 162.0h0M268.2 143.0h0M238.7 142.8h0M242.4 144.5h0M260.0 169.0h0M269.0 158.8h0M265.7 162.3h0M240.4 128.8h0M241.2 162.9h0M260.7 149.8h0M253.5 160.0h0M260.7 146.0h0M245.2 154.6h0M254.7 129.9h0M249.4 152.0h0M262.9 140.0h0M257.5 152.5h0M236.7 141.9h0M243.2 151.5h0M243.0 146.6h0M271.3 143.8h0M241.3 151.5h0M256.1 175.3h0M260.4 127.6h0M269.9 141.8h0M257.6 169.4h0M265.9 158.6h0M268.7 163.0h0M248.0 127.4h0M269.7 145.9h0M264.2 176.8h0M264.3 163.9h0M244.0 153.5h0M247.2 172.8h0M243.4 149.0h0M264.5 129.1h0M263.2 155.3h0M259.4 164.6h0M258.6 142.3h0M234.5 135.6h0M238.8 128.4h0M243.2 128.8h0M237.0 156.9h0M246.6 163.7h0M239.9 162.1h0M241.7 147.8h0M240.1 128.1h0M240.2 134.1h0M245.7 143.0h0M242.3 169.3h0M261.3 176.3h0M249.9 143.6h0M264.8 155.9h0M249.7 129.6h0M252.1 140.0h0M268.5 157.9h0M258.2 161.7h0M249.5 167.6h0M263.7 176.6h0M231.7 149.9h0M236.7 139.2h0M249.4 156.1h0M265.4 169.9h0M235.1 150.2h0M254.8 181.2h0M244.1 131.1h0M241.4 128.1h0M262.8 154.5h0M240.2 167.7h0M246.0 133.0h0M266.4 165.2h0M251.0 154.1h0M244.9 135.2h0M251.0 147.0h0M261.1 165.8h0M265.9 170.6h0M244.4 136.0h0M251.4 168.1h0M235.2 135.9h0M247.7 133.9h0M236.5 139.6h0M253.0 130.2h0M260.5 146.2h0M253.3 176.3h0M251.6 128.5h0M244.2 130.8h0M268.8 135.3h0M233.6 150.0h0M244.2 169.7h0M243.9 127.9h0M251.6 177.0h0M270.5 158.9h0M237.7 154.3h0M257.7 180.6h0M254.9 137.9h0M245.3 140.1h0M253.5 163.2h0M254.7 122.1h0M265.4 162.2h0M267.4 163.8h0M257.4 138.2h0M240.3 149.8h0M246.9 129.4h0M253.7 182.2h0M268.7 132.8h0M267.4 165.8h0M235.0 130.8h0M256.7 175.7h0M243.3 167.8h0M258.4 129.8h0M260.3 139.5h0M237.5 149.4h0M256.8 180.9h0M230.9 144.5h0M249.6 131.2h0M259.8 173.2h0M248.0 126.1h0M272.3 144.7h0M260.8 123.9h0M251.4 144.2h0M270.1 147.7h0M243.9 153.6h0M236.2 146.7h0M243.2 132.6h0M265.3 157.1h0M260.6 160.6h0M240.9 138.9h0M238.8 159.9h0M243.3 130.1h0M266.0 130.6h0M272.4 141.0h0M259.1 182.8h0M244.8 154.8h0M249.2 154.7h0M259.9 169.2h0M246.3 164.2h0M267.0 153.2h0M250.5 150.5h0M237.6 158.5h0M240.3 145.2h0M270.1 140.2h0M243.9 163.9h0M256.3 173.1h0M236.2 138.8h0M236.5 129.6h0M246.8 168.1h0M266.3 134.3h0M260.5 134.5h0M249.7 128.2h0M261.6 152.3h0M267.2 128.1h0M242.7 162.7h0M236.5 150.4h0M247.6 133.2h0M243.2 138.2h0M252.7 143.6h0M255.4 142.6h0M260.9 176.0h0M254.9 174.2h0M249.9 127.1h0M269.7 134.5h0M233.4 153.2h0M249.9 124.3h0M249.7 128.9h0M259.2 174.6h0M248.0 155.6h0M248.0 157.3h0M272.8 136.1h0M255.9 122.9h0M249.0 143.9h0M252.8 138.2h0M237.2 153.8h0M247.2 137.3h0M244.2 129.1h0M266.8 171.2h0M252.1 157.4h0M257.3 166.9h0M239.0 144.2h0M254.0 160.4h0M261.2 135.5h0M238.5 163.7h0M265.3 124.9h0M262.3 173.1h0M238.3 129.5h0M268.0 132.2h0M232.0 144.4h0M245.2 140.6h0M237.3 148.6h0M266.7 124.8h0M249.8 178.4h0M264.9 124.4h0M252.7 134.6h0M245.2 145.9h0M232.1 150.0h0M268.0 128.6h0M256.1 146.7h0M257.1 151.2h0M266.4 127.3h0M253.6 178.5h0M246.7 157.6h0M266.7 155.3h0M259.0 146.2h0M266.5 125.1h0M249.4 131.5h0M235.9 149.6h0M262.0 170.0h0M246.8 143.3h0M240.4 164.8h0M245.3 165.7h0M235.2 135.6h0M249.1 127.4h0M246.6 144.0h0M245.5 148.7h0M237.9 147.6h0M236.2 131.2h0M254.4 156.6h0M241.7 163.5h0M252.9 134.3h0M266.7 156.8h0M235.6 153.3h0M232.4 140.9h0M268.8 145.9h0M251.6 123.9h0M249.0 175.6h0M269.1 149.6h0M241.8 159.9h0M250.5 134.8h0M266.7 145.5h0M264.9 163.2h0M246.7 172.8h0M267.7 142.8h0M270.4 143.6h0M264.0 135.0h0M253.4 131.0h0M265.0 128.6h0M249.8 159.7h0M254.3 167.0h0M248.8 138.4h0M238.7 149.3h0M240.5 135.3h0M249.3 147.8h0M271.7 147.3h0M260.9 154.0h0M255.9 181.0h0M244.4 132.3h0M269.1 157.0h0M261.9 139.8h0M248.3 135.9h0M256.7 170.1h0M255.7 174.6h0M261.7 174.2h0M253.1 140.8h0M245.7 165.8h0M259.6 183.2h0M248.2 152.8h0M270.1 145.2h0M244.9 128.6h0M258.5 147.8h0M246.9 134.0h0M266.2 126.7h0M268.6 129.5h0M248.9 138.8h0M239.6 141.5h0M253.4 178.8h0M252.2 175.4h0M247.0 171.7h0M240.5 144.6h0M240.0 144.0h0M262.4 146.8h0M242.8 166.2h0M256.8 181.1h0M271.1 126.3h0M269.0 128.0h0M244.1 141.1h0M238.9 146.2h0M239.6 151.1h0M242.1 154.5h0M264.9 151.0h0M264.0 172.2h0M246.2 158.3h0M263.0 168.8h0M255.1 142.8h0M237.4 147.8h0M266.7 166.3h0M256.9 159.2h0M253.8 161.6h0M251.8 148.4h0M270.2 144.9h0M256.6 179.8h0M242.5 130.1h0M239.2 152.5h0M253.2 161.2h0M272.3 140.3h0M252.7 124.3h0M244.6 129.8h0M266.2 131.9h0M266.6 145.1h0M241.4 137.5h0M256.5 146.9h0M266.6 173.1h0M251.6 157.2h0M270.8 143.7h0M270.0 155.1h0M264.0 172.5h0M237.0 146.2h0M255.5 156.2h0M248.4 156.3h0M242.8 141.1h0M248.4 172.7h0M264.5 152.3h0M249.0 167.2h0M264.1 159.4h0M232.4 149.0h0M244.2 150.5h0M267.9 132.0h0M270.9 145.8h0M261.5 163.8h0M264.5 167.9h0M240.0 161.6h0M234.7 146.1h0M256.0 149.5h0M242.1 153.7h0M250.0 135.0h0M264.4 152.0h0M254.7 178.8h0M232.5 143.7h0M245.3 140.2h0M231.1 144.3h0M261.7 182.9h0M267.0 175.6h0M254.6 182.1h0M231.2 150.0h0M246.7 169.8h0M263.9 169.1h0M265.0 123.1h0M261.6 174.4h0M265.5 176.2h0M242.8 164.8h0M250.0 174.2h0M265.8 134.7h0M254.9 130.7h0M248.5 176.5h0M250.3 130.0h0M251.2 170.7h0M242.9 138.6h0M269.8 151.4h0M249.7 178.1h0M259.5 126.4h0M254.8 146.3h0M262.5 166.3h0M257.7 173.0h0M249.3 141.1h0M233.9 147.3h0M261.8 125.2h0M259.8 134.4h0M259.4 138.3h0M253.0 165.3h0M258.5 172.6h0M256.2 157.5h0M251.7 125.9h0M253.1 146.1h0M237.0 131.9h0M246.9 151.4h0M258.6 129.8h0M239.3 144.6h0M233.9 158.8h0M257.5 135.8h0M268.5 157.3h0M264.1 132.5h0M252.3 174.5h0M257.1 152.5h0M250.9 123.3h0M256.5 177.4h0M241.7 129.6h0M251.0 151.5h0M242.8 164.7h0M247.1 136.3h0M252.2 144.4h0M260.4 146.6h0M239.9 146.1h0M264.4 144.3h0M236.5 147.5h0M234.2 154.5h0M266.8 157.8h0M248.6 175.0h0M235.2 138.4h0M241.2 167.6h0M246.0 123.8h0M244.4 125.8h0M235.3 146.3h0M269.5 143.0h0M255.8 152.5h0M251.3 171.0h0M237.5 129.9h0M239.6 144.4h0M242.1 136.5h0M237.2 159.3h0M245.7 159.5h0M239.2 142.4h0M241.5 141.8h0M236.4 155.8h0M241.9 163.4h0M247.8 158.2h0M253.1 179.5h0M238.8 155.2h0M260.4 122.9h0M242.1 146.2h0M236.1 147.5h0M237.2 164.9h0M259.9 170.7h0M253.1 159.4h0M269.1 146.3h0M270.9 139.2h0M247.2 177.3h0M235.0 150.2h0M261.2 157.2h0M231.9 143.5h0M264.5 148.2h0M245.2 138.5h0M263.2 125.0h0M262.7 138.1h0M250.8 173.7h0M264.6 169.4h0M237.5 129.2h0M267.8 157.5h0M241.6 146.2h0M245.9 174.0h0M262.5 148.4h0M263.5 170.4h0M241.3 133.0h0M252.8 124.7h0M261.0 142.4h0M248.8 177.3h0M240.9 129.0h0M269.2 156.9h0M241.6 142.3h0M268.8 127.8h0M251.6 157.4h0M258.5 174.0h0M239.9 169.8h0M267.8 144.1h0M245.9 160.7h0M254.3 132.3h0M248.7 129.8h0M266.4 153.3h0M250.9 145.3h0M268.1 147.3h0M236.9 144.9h0M233.9 140.9h0M249.6 167.1h0M264.8 158.7h0M270.5 146.5h0M267.7 132.1h0M252.8 152.8h0M248.3 177.8h0M270.3 158.6h0M270.3 138.4h0M231.5 140.0h0M257.6 174.6h0M252.8 135.9h0M234.4 163.7h0M267.3 138.5h0M249.3 166.0h0M247.3 128.1h0M247.0 163.9h0M254.9 124.8h0M248.4 166.0h0M237.9 143.7h0M263.4 173.0h0M242.6 126.3h0M238.9 170.2h0M261.5 130.8h0M242.8 146.9h0M251.4 142.4h0M232.9 144.2h0M253.1 178.5h0M248.3 134.1h0M239.5 149.9h0M243.4 167.3h0M231.0 153.5h0M238.2 128.7h0M236.1 145.2h0M241.0 137.4h0M246.9 133.6h0M261.2 151.5h0M257.5 148.2h0M240.4 129.5h0M237.5 145.1h0M251.1 124.5h0M248.3 136.3h0M258.6 179.6h0M248.3 124.7h0M254.7 158.4h0M248.7 156.5h0M265.6 137.6h0M245.6 166.9h0M237.4 140.1h0M265.6 168.0h0M247.7 166.1h0M237.5 158.8h0M254.1 178.8h0M267.5 153.9h0M240.0 133.8h0M241.6 155.9h0M259.9 174.3h0M248.2 162.4h0M267.6 152.8h0M258.2 136.2h0M243.7 146.5h0M262.2 180.3h0M259.1 130.9h0M263.4 140.3h0M231.2 147.2h0M237.7 136.9h0M232.9 150.8h0M252.2 136.1h0M261.3 178.6h0M236.2 138.1h0M237.5 147.1h0M247.7 143.7h0M253.9 177.4h0M254.5 129.8h0M250.3 154.3h0M250.5 136.8h0M245.0 142.8h0M248.5 142.2h0M240.9 156.3h0M257.2 145.2h0M245.2 172.8h0M253.0 136.1h0M235.3 151.6h0M259.4 145.0h0M259.9 166.9h0M232.5 144.4h0M257.8 171.7h0M235.6 162.6h0M252.9 180.8h0M263.7 154.4h0M243.5 137.6h0M241.3 129.0h0M257.2 130.4h0M271.4 153.6h0M256.3 135.1h0M247.8 146.9h0M270.2 156.4h0M254.2 148.9h0M258.7 124.8h0M248.5 150.2h0M252.8 156.1h0M265.5 169.8h0M243.3 137.2h0M269.5 131.0h0M262.1 154.4h0M241.5 137.7h0M236.1 157.7h0M253.8 127.0h0M252.8 127.4h0M240.1 161.1h0M248.1 130.8h0M256.7 180.5h0M260.8 179.9h0M255.6 170.4h0M269.3 134.0h0M249.4 174.7h0M258.8 146.4h0M232.5 159.0h0M252.4 158.4h0M254.2 169.2h0M263.8 127.9h0M268.2 151.7h0M263.1 135.7h0M245.4 148.6h0M260.1 140.8h0M248.6 135.2h0M265.6 160.5h0M261.6 145.8h0M241.7 145.0h0M243.4 143.6h0M244.4 155.2h0M241.7 162.7h0M262.0 143.1h0M260.1 140.7h0M248.1 171.9h0M234.6 155.3h0M250.8 168.2h0M238.1 161.6h0M254.1 174.8h0M267.1 172.6h0M253.1 139.6h0M265.0 146.8h0M242.5 142.5h0M268.3 130.5h0M266.8 163.5h0M262.9 160.8h0M267.2 124.9h0M253.1 165.0h0M235.7 148.3h0M236.6 162.7h0M263.6 133.1h0M267.7 149.7h0M267.1 156.4h0M261.8 140.8h0M247.3 145.2h0M270.0 137.1h0M263.4 164.4h0M254.8 123.8h0M259.1 141.3h0M270.5 133.2h0M236.0 138.9h0M255.6 156.2h0M253.8 149.8h0" stroke="#ef5a30" stroke-width="1.50" stroke-linecap="round" stroke-opacity="1.0" fill="none"/>
<path d="M241.3 168.0h0M242.1 172.7h0M222.3 162.9h0M230.1 180.6h0M232.1 161.4h0M233.5 161.3h0M236.7 178.3h0M211.0 162.0h0M240.9 175.8h0M215.7 177.4h0M234.4 168.2h0M223.6 168.1h0M232.8 183.3h0M213.2 162.8h0M236.3 179.9h0M233.1 165.5h0M232.7 179.7h0M229.4 164.3h0M213.8 168.8h0M237.3 167.7h0M232.9 159.4h0M225.9 181.0h0M229.7 167.6h0M219.4 176.0h0M239.3 168.8h0M233.5 174.1h0M234.9 165.6h0M240.9 174.8h0M239.1 178.1h0M227.3 164.9h0M233.4 174.3h0M237.7 174.5h0M225.4 167.7h0M231.7 179.0h0M242.1 175.1h0M234.2 160.5h0M219.6 160.1h0M234.2 175.1h0M242.3 171.4h0M223.2 174.1h0M241.6 178.7h0M227.7 163.9h0M237.9 184.1h0M223.9 160.5h0M237.4 178.0h0M221.6 176.7h0M234.1 177.0h0M236.1 168.9h0M213.5 169.2h0M218.3 178.3h0M213.0 161.4h0M237.5 170.8h0M221.5 164.7h0M237.6 179.3h0M227.3 176.0h0M222.7 168.5h0M217.1 176.6h0M235.7 181.8h0M228.8 162.0h0M218.2 174.7h0M212.9 163.7h0M232.5 182.3h0M229.2 166.7h0M224.8 179.9h0M227.7 169.3h0M211.0 164.1h0M217.2 161.7h0M227.7 164.9h0M227.9 159.2h0M238.5 168.2h0M225.0 175.4h0M236.4 183.5h0M237.0 183.0h0M235.8 179.3h0M226.7 162.3h0M236.9 179.0h0M237.3 183.3h0M231.6 168.6h0M229.7 167.2h0M227.4 171.2h0M236.3 165.2h0M216.6 171.1h0M224.7 159.2h0M228.0 166.0h0M212.1 164.9h0M218.2 169.0h0M228.2 182.3h0M237.6 174.5h0M227.0 182.0h0M241.9 177.1h0" stroke="#ee8860" stroke-width="1.40" stroke-linecap="round" stroke-opacity="1.0" fill="none"/>
<path d="M229.3 166.4h0M229.4 172.0h0M232.3 163.5h0M208.6 178.4h0M237.3 176.8h0M213.1 168.5h0M224.7 166.2h0M233.4 189.6h0M232.7 189.9h0M226.0 166.6h0M219.4 160.2h0M223.1 188.8h0M216.5 171.0h0M234.3 171.9h0M236.3 184.5h0M224.9 194.7h0M215.1 174.1h0M224.3 173.5h0M227.7 192.6h0M240.3 175.3h0M222.6 174.5h0M222.5 167.4h0M212.0 180.5h0M221.5 163.0h0M215.5 182.7h0M223.2 171.2h0M220.6 160.7h0M232.7 172.7h0M209.7 181.9h0M229.8 169.1h0M226.1 186.4h0M230.0 185.2h0M226.5 167.9h0M218.0 177.8h0M215.6 161.9h0M223.8 193.0h0M213.0 176.3h0M225.7 188.6h0M235.4 168.7h0M213.5 161.7h0M208.8 165.2h0M233.4 182.0h0M216.7 189.7h0M226.1 168.9h0M239.6 189.1h0M233.0 168.4h0M216.6 162.1h0M231.5 180.6h0M220.6 161.3h0M221.2 173.9h0M220.0 187.1h0M220.5 175.1h0M213.1 161.3h0M218.3 184.0h0M237.2 182.6h0M230.6 185.4h0M223.2 185.8h0M231.2 168.6h0M228.2 182.9h0M220.6 167.7h0M237.9 182.8h0M226.4 180.1h0M232.3 190.0h0M235.6 171.5h0M228.8 183.5h0M228.7 169.3h0M222.3 174.0h0M213.7 178.2h0M237.0 166.9h0M239.9 183.2h0M225.3 189.0h0M231.0 183.0h0M216.9 179.7h0M215.7 185.3h0M231.5 173.4h0M221.0 184.9h0M221.0 172.0h0M219.6 186.1h0M226.9 171.3h0M213.5 169.6h0M240.7 183.1h0M214.7 182.8h0M212.3 172.2h0M221.6 177.2h0M216.7 177.2h0M225.5 192.9h0M219.1 186.1h0M240.1 177.3h0M215.9 177.1h0M223.9 171.9h0M218.8 183.2h0M221.2 171.3h0M232.5 176.4h0M226.8 175.8h0M210.7 164.6h0M220.7 161.1h0M217.9 182.9h0M224.2 174.8h0M214.6 161.8h0M218.9 181.7h0M225.5 162.1h0M227.3 187.7h0M209.5 161.3h0M212.1 176.9h0M210.4 181.4h0M217.7 186.0h0M221.3 190.8h0M216.7 188.8h0M229.0 171.2h0M212.9 163.0h0M238.0 175.7h0M224.2 178.2h0M234.7 169.7h0M219.7 168.7h0M223.8 187.1h0M212.0 169.0h0M230.3 165.3h0M208.2 167.8h0M211.6 168.5h0M225.4 161.6h0M229.1 174.9h0M207.6 174.4h0M237.7 187.3h0M231.3 184.7h0M213.9 163.1h0M234.1 184.0h0M229.5 191.5h0M215.3 162.3h0M213.7 189.1h0M221.4 164.8h0M226.6 182.8h0M210.4 164.6h0M223.6 168.4h0M228.6 165.2h0M233.0 177.7h0M231.0 168.6h0M223.4 183.3h0M211.2 176.7h0M211.4 169.9h0M240.5 188.1h0M215.7 184.8h0M213.9 184.9h0M230.7 182.3h0M235.3 183.8h0M233.5 169.0h0M235.1 176.9h0M226.0 178.5h0M225.4 168.6h0M227.6 187.8h0M214.4 166.5h0M210.9 177.1h0M214.3 165.7h0M217.4 190.1h0M224.3 179.0h0M214.4 171.7h0M227.8 175.3h0M213.8 173.5h0M216.8 170.7h0M227.6 167.7h0M216.5 178.2h0M238.1 175.0h0M216.0 179.9h0M223.9 178.1h0M227.4 180.4h0M218.3 162.7h0M230.4 182.2h0M223.3 166.0h0M227.1 173.5h0M228.3 166.4h0M210.5 183.9h0M238.2 178.5h0M226.8 191.9h0M215.8 190.0h0M232.9 180.7h0M229.8 177.5h0M224.4 194.3h0M213.5 169.5h0M226.0 168.9h0M240.2 181.5h0M229.4 174.4h0M225.7 192.1h0M214.3 184.3h0M215.6 167.3h0M221.0 178.8h0M217.9 179.6h0M241.4 182.7h0M209.4 178.9h0M216.9 184.6h0M224.2 171.3h0M208.2 166.7h0M238.8 173.5h0M215.2 171.9h0M210.6 178.0h0M237.3 173.0h0M231.4 183.4h0M221.6 173.9h0M231.1 168.5h0M214.9 181.0h0M237.5 169.9h0M211.9 172.4h0M227.4 185.0h0M221.2 164.7h0M218.4 164.0h0M211.1 174.6h0M230.4 184.7h0M232.1 185.7h0M207.1 172.5h0M218.9 180.8h0M225.8 161.2h0M228.4 164.3h0M230.4 167.0h0M228.7 177.8h0M236.8 190.6h0M240.0 179.7h0M235.7 182.4h0M218.5 182.4h0M212.6 173.8h0M209.8 178.1h0M222.4 190.3h0M221.3 171.7h0M236.2 190.8h0M242.3 180.2h0M217.8 187.7h0M221.2 181.2h0M211.3 176.1h0M227.1 183.3h0M231.2 169.1h0M216.6 180.0h0M228.5 171.4h0M238.7 185.1h0M217.5 172.6h0M232.6 168.3h0M220.0 175.4h0M222.5 171.7h0M228.2 173.3h0M236.8 178.9h0M219.2 172.3h0M235.6 176.5h0M219.4 182.2h0M208.0 172.0h0M209.6 163.8h0M225.3 162.5h0M208.2 173.3h0M224.7 179.7h0M227.8 187.8h0M239.7 176.3h0M208.0 166.2h0M221.3 167.5h0M241.2 182.1h0M220.9 174.8h0M219.1 161.2h0M229.4 168.9h0M214.1 166.1h0M233.4 175.3h0M226.6 174.8h0M227.6 173.9h0M215.3 174.3h0M217.6 174.2h0M221.5 172.1h0M224.0 161.7h0M234.9 185.7h0M216.4 186.9h0M213.4 183.5h0M228.8 184.7h0M233.6 191.5h0M220.2 179.8h0M224.7 172.3h0M220.5 182.1h0M232.3 189.7h0M236.8 176.3h0M208.6 169.6h0M218.3 174.3h0M211.8 169.9h0M233.3 166.3h0M229.3 188.6h0M218.8 171.8h0M232.3 187.5h0M223.7 177.6h0M223.8 190.1h0M219.0 182.5h0M224.1 175.6h0M241.4 183.1h0M210.3 161.8h0M223.4 159.3h0M215.8 182.3h0M228.6 192.6h0M237.8 175.8h0M239.6 176.5h0M239.2 178.6h0M228.3 178.6h0M238.9 178.2h0M231.3 176.2h0M215.8 171.9h0M232.8 164.8h0M233.0 175.9h0M222.0 189.6h0M214.7 172.3h0M214.5 189.6h0M212.0 162.4h0M221.5 170.0h0M238.6 172.8h0M211.0 168.5h0M223.7 182.1h0M222.3 186.8h0M232.2 168.8h0M239.0 178.9h0M231.8 164.4h0M221.0 170.2h0M228.0 173.7h0M216.3 167.9h0M235.3 183.6h0M234.2 182.9h0M213.2 180.8h0M221.3 172.9h0M211.9 162.6h0M232.6 189.2h0M219.8 182.4h0M211.5 181.2h0M211.9 170.5h0M233.5 164.8h0M233.6 191.4h0M225.8 166.4h0M219.0 174.3h0M229.2 186.8h0M230.8 168.8h0M218.3 184.0h0M230.3 165.0h0M229.0 173.8h0M213.0 168.0h0M224.7 165.5h0M225.2 170.7h0M210.7 178.1h0M216.2 175.4h0M211.2 183.4h0M229.6 183.7h0M226.3 169.9h0M237.2 181.6h0M224.0 189.3h0M241.6 179.0h0M230.0 183.8h0M239.0 186.4h0M227.1 175.7h0M228.1 174.2h0M222.0 171.1h0M235.9 177.8h0M224.3 171.1h0M237.3 176.7h0M236.2 189.7h0M209.7 172.9h0M213.4 162.5h0M236.8 188.5h0M215.9 176.4h0M216.1 170.9h0M235.0 170.5h0M233.5 170.4h0M226.0 171.6h0M240.0 176.4h0M227.3 179.2h0M225.8 188.8h0M233.6 174.9h0M233.4 190.4h0M233.3 194.2h0M214.7 161.2h0M237.2 172.6h0M234.2 167.1h0M221.3 179.6h0M219.3 171.8h0M237.8 186.9h0M214.8 174.2h0M220.3 185.8h0M221.0 163.4h0M229.9 183.7h0M227.3 187.5h0M221.8 193.1h0M218.8 160.7h0M222.7 163.1h0M213.0 183.1h0M234.1 173.2h0M239.1 173.4h0M218.1 177.1h0M217.5 167.7h0M241.3 176.2h0M223.4 186.7h0M225.4 182.3h0M223.8 192.4h0M232.4 182.4h0M210.6 171.9h0M209.3 162.9h0M222.7 191.0h0M222.0 176.3h0M214.6 165.1h0M213.7 185.3h0M223.8 187.0h0M240.6 181.4h0M226.4 171.0h0M207.4 162.0h0M210.0 161.2h0M234.1 185.1h0M236.1 174.1h0M228.3 172.2h0M233.4 181.9h0M210.5 169.3h0M233.4 172.7h0M237.9 168.4h0M222.3 182.0h0M217.5 189.4h0M236.5 189.8h0M213.2 177.1h0M207.1 170.4h0M231.1 182.0h0M227.8 176.4h0M221.5 166.7h0M221.8 177.2h0M231.0 185.6h0M221.1 170.4h0M238.7 181.2h0M233.3 175.8h0M232.2 173.3h0M224.4 166.3h0M215.7 175.4h0M228.7 168.4h0M235.4 166.6h0M229.8 186.9h0M237.1 184.7h0M228.2 192.9h0M209.2 162.7h0M218.4 169.4h0M227.3 181.1h0M222.7 188.8h0M224.5 165.0h0M221.9 166.1h0M212.3 173.3h0M237.0 181.0h0M228.1 176.9h0M232.5 175.0h0M215.3 176.8h0M226.0 169.9h0M234.8 173.3h0M222.1 170.0h0M212.5 172.2h0M229.4 173.0h0M238.9 182.3h0M215.1 166.1h0M234.8 168.4h0M209.4 176.2h0M229.1 184.3h0M212.2 180.7h0M230.0 165.2h0M219.3 189.6h0M229.0 186.7h0M231.7 189.0h0M233.3 187.4h0M229.9 173.4h0M237.1 182.3h0M232.5 185.0h0M236.4 193.1h0M228.9 188.6h0M226.0 175.1h0M238.2 186.2h0M233.8 166.6h0M213.9 188.3h0M224.7 164.1h0M207.8 172.7h0M217.7 191.1h0M219.7 181.9h0M213.1 185.7h0M239.5 172.3h0M240.4 180.3h0M228.8 165.8h0M233.3 175.5h0M213.6 164.6h0M215.8 176.0h0M212.1 165.9h0M234.0 187.3h0M235.9 182.0h0M228.5 164.8h0M235.5 188.6h0M228.1 178.1h0M220.0 191.9h0M219.1 192.0h0" stroke="#f4a65a" stroke-width="1.50" stroke-linecap="round" stroke-opacity="1.0" fill="none"/>
<path d="M282.0 203.0 L281.4 207.7 L279.5 212.0 L276.4 215.7 L272.5 218.6 L267.9 220.4 L263.0 221.0 L258.1 220.4 L253.5 218.6 L249.6 215.7 L246.5 212.0 L244.6 207.7 L244.0 203.0 L244.6 198.3 L246.5 194.0 L249.6 190.3 L253.5 187.4 L258.1 185.6 L263.0 185.0 L267.9 185.6 L272.5 187.4 L276.4 190.3 L279.5 194.0 L281.4 198.3Z" fill="#fbf0b8" fill-opacity="0.8"/>
<path d="M282.2 201.2h0M269.5 216.1h0M259.7 211.0h0M246.0 205.1h0M273.7 212.8h0M242.1 203.1h0M264.7 214.4h0M258.9 184.3h0M258.9 220.9h0M259.2 191.1h0M270.3 221.3h0M248.5 194.1h0M254.5 214.0h0M249.5 196.4h0M256.3 203.6h0M254.0 215.0h0M260.8 197.2h0M260.1 195.7h0M261.1 190.2h0M249.7 206.0h0M264.8 221.5h0M258.8 195.8h0M269.8 185.5h0M268.1 192.9h0M269.4 212.9h0M256.8 215.1h0M273.7 187.8h0M261.4 221.5h0M255.8 191.9h0M269.5 185.9h0M274.1 204.6h0M281.9 207.0h0M257.6 194.3h0M265.9 190.8h0M272.4 210.6h0M256.5 211.6h0M242.7 206.1h0M273.5 186.3h0M282.6 197.5h0M277.0 195.4h0M245.0 204.7h0M281.6 194.8h0M260.5 199.1h0M248.6 216.0h0M266.9 201.0h0M271.8 189.5h0M262.5 213.5h0M254.3 197.6h0M283.9 204.1h0M277.7 212.6h0M274.3 194.7h0M255.1 204.6h0M243.1 204.9h0M254.9 215.4h0M260.5 202.2h0M277.7 189.1h0M252.8 185.9h0M266.1 191.3h0M262.1 215.2h0M279.7 213.2h0M248.3 210.7h0M264.2 220.1h0M253.1 214.8h0M271.1 186.4h0M263.9 186.2h0M264.0 183.4h0M253.3 190.4h0M262.8 214.4h0M265.8 187.9h0M279.9 205.8h0M266.2 191.1h0M256.7 196.4h0M265.3 190.4h0M246.3 202.2h0M250.1 211.7h0M268.8 216.7h0M264.6 217.5h0M265.8 188.7h0M251.6 214.5h0M273.0 192.7h0M263.3 183.6h0M261.8 220.5h0M265.1 190.8h0M265.5 207.4h0M258.0 186.8h0M261.0 194.4h0M265.7 201.8h0M271.3 190.6h0M253.9 185.8h0M272.3 197.6h0M279.3 196.1h0M263.0 196.2h0M245.9 198.1h0M281.3 192.8h0M276.3 189.9h0M258.9 206.2h0M260.1 192.1h0M275.5 217.0h0M246.7 210.8h0M254.7 188.3h0M247.4 207.6h0M254.7 208.7h0M256.2 209.8h0M251.1 195.0h0M271.1 210.4h0M270.0 204.4h0M249.5 194.2h0M252.2 199.2h0M276.7 206.9h0M250.2 193.5h0M246.9 214.2h0M264.8 219.1h0M270.4 203.8h0M258.6 189.6h0M256.5 206.1h0M253.1 188.8h0M255.4 187.1h0M267.3 204.7h0M281.8 201.0h0M260.5 200.7h0M261.5 221.3h0M270.2 193.5h0M258.6 204.6h0M256.4 220.9h0M257.5 215.7h0M269.8 186.6h0M251.2 204.6h0M269.6 198.9h0M252.5 200.7h0M248.4 197.6h0M259.0 200.4h0M244.4 202.1h0M271.6 205.5h0M275.6 187.5h0M250.5 204.0h0M278.8 191.1h0M272.9 196.1h0M244.4 209.3h0M259.0 197.6h0M256.9 187.0h0M261.1 222.8h0M249.4 196.9h0M257.3 186.0h0M261.8 199.0h0M250.0 211.9h0M259.2 211.0h0M268.6 188.9h0M251.3 197.6h0M247.5 205.5h0M248.7 212.2h0M266.5 207.9h0M275.1 211.9h0M247.8 197.6h0M272.8 204.1h0M282.2 201.4h0M251.7 187.0h0M265.1 198.4h0M247.5 194.2h0M258.8 192.8h0M243.8 200.0h0M247.3 195.5h0M249.5 193.8h0M246.0 206.4h0M246.4 209.8h0M280.2 197.0h0M254.4 202.0h0M281.3 213.2h0M261.5 189.2h0M267.4 199.6h0M246.2 214.3h0M265.9 210.4h0M280.3 205.2h0M258.3 209.0h0M263.1 188.0h0M273.8 190.3h0M257.9 204.5h0M267.4 221.2h0M254.9 187.8h0M260.5 193.3h0M264.9 222.2h0M266.0 188.3h0M271.0 211.6h0M261.6 189.9h0M253.5 209.1h0M273.4 187.9h0M256.0 185.8h0M250.1 217.9h0M280.1 198.8h0M250.0 197.3h0M242.5 205.3h0M249.5 199.1h0M253.3 216.4h0M264.6 209.6h0M260.4 221.8h0M256.9 186.9h0M260.7 206.1h0M251.5 198.5h0M251.0 189.6h0M249.3 215.4h0M263.6 183.3h0M268.1 204.3h0M273.6 202.3h0M269.1 196.2h0M270.1 212.1h0M260.5 189.8h0M265.7 217.5h0M262.2 221.9h0M249.6 215.0h0M280.8 192.1h0M272.7 189.9h0M265.6 201.1h0M247.7 204.8h0M254.1 217.7h0M250.7 203.0h0M279.6 216.0h0M251.3 211.4h0M260.8 202.2h0M262.1 199.6h0M269.4 194.3h0M277.5 195.7h0M273.6 211.2h0M246.4 198.0h0M260.6 209.3h0M280.5 200.7h0M264.4 213.4h0M257.3 221.3h0M264.4 204.3h0M267.7 194.1h0M276.2 189.2h0M264.1 219.8h0M271.4 206.7h0M251.9 198.4h0M251.1 201.3h0M266.8 183.9h0M281.0 192.7h0M271.4 215.1h0M275.2 201.7h0M245.3 207.9h0M262.6 199.2h0M272.8 194.5h0M259.8 219.2h0M273.0 215.1h0M250.4 199.4h0M261.9 218.4h0M260.8 192.4h0M278.5 192.5h0M248.4 192.1h0M255.5 199.8h0M255.0 214.9h0M270.7 188.8h0M263.8 196.2h0M241.9 201.5h0M268.3 186.2h0M248.0 200.8h0M259.2 210.5h0M243.1 208.2h0M264.1 192.3h0M262.0 198.7h0M250.4 214.7h0M256.0 215.9h0M249.2 213.3h0M275.6 197.3h0M269.5 189.5h0M277.0 217.9h0M272.5 186.1h0M273.7 208.6h0M281.1 213.5h0M258.5 196.7h0M263.4 196.9h0M252.5 205.0h0M280.3 205.9h0M278.9 196.5h0M246.0 204.9h0M272.6 216.7h0M257.5 203.4h0M280.6 191.4h0M248.2 191.0h0M263.4 212.1h0M279.5 191.5h0M256.1 192.7h0M267.9 217.2h0M246.1 208.7h0M274.1 188.5h0M269.4 215.6h0M245.6 207.3h0M245.5 212.8h0M253.5 190.8h0M279.8 211.9h0M245.2 203.0h0M256.1 195.9h0M269.0 201.3h0M263.1 220.1h0M278.1 198.5h0M276.4 193.9h0M279.6 213.2h0M260.1 219.2h0M271.1 187.7h0M274.2 212.1h0M269.1 200.8h0M261.2 216.9h0M274.9 205.6h0M282.8 200.7h0M260.7 187.2h0M251.3 216.2h0M267.8 206.5h0M280.3 212.4h0M254.2 217.2h0M271.4 212.6h0M245.6 208.3h0M246.0 211.0h0M254.0 200.1h0M271.0 187.2h0M245.9 191.6h0M267.2 220.2h0M247.5 207.7h0M243.9 198.9h0M256.4 189.8h0M279.9 204.1h0M274.9 193.9h0M272.5 206.2h0M277.9 203.1h0M284.2 197.4h0M250.6 206.7h0M264.0 209.2h0M279.6 195.6h0M255.3 208.9h0M246.7 197.3h0M275.0 216.8h0M256.5 188.3h0M252.0 191.5h0M254.6 207.0h0M274.8 190.7h0M256.8 193.5h0M260.1 216.0h0M248.1 218.5h0M248.8 206.4h0M254.6 191.7h0M249.4 212.3h0M250.2 204.3h0M247.0 208.2h0M258.0 219.6h0M259.0 205.0h0M271.5 201.6h0M244.7 208.8h0M266.8 204.4h0M261.1 188.9h0M259.8 187.3h0M277.9 213.4h0M253.6 211.2h0M256.0 207.7h0M257.4 211.2h0M268.1 194.3h0M281.2 200.3h0M244.4 207.2h0M252.6 202.7h0M252.2 203.9h0M250.0 213.7h0M273.6 192.1h0M264.8 196.7h0M252.4 188.9h0M266.3 185.6h0M254.8 216.9h0M263.6 219.9h0M255.1 210.1h0M276.7 202.4h0M261.4 204.3h0M275.4 202.2h0M249.7 201.8h0M263.7 200.8h0M255.5 216.8h0M266.6 184.9h0M252.9 216.4h0M246.7 192.2h0M281.7 200.7h0M249.9 192.1h0M274.0 195.2h0M249.8 199.5h0M267.1 210.3h0M273.0 195.2h0M247.7 207.8h0M260.5 210.7h0M250.0 214.4h0M259.8 218.4h0M256.3 220.4h0M265.6 214.3h0M243.4 210.2h0M259.6 189.6h0M260.2 208.8h0M278.6 201.6h0M260.6 191.2h0M271.0 192.5h0M270.3 186.2h0M246.0 199.9h0M268.9 200.8h0M260.7 201.4h0M259.2 199.5h0M275.7 204.3h0M256.2 196.8h0M279.4 193.8h0M248.5 200.0h0M243.6 209.6h0M259.5 195.3h0M268.1 202.5h0M257.4 190.6h0M263.3 194.3h0M263.0 215.9h0M257.5 220.1h0M268.1 204.0h0M273.2 216.7h0M256.3 217.8h0M272.4 193.7h0M277.7 194.5h0M257.8 204.9h0M265.0 217.8h0M281.0 211.2h0M269.0 212.3h0M269.9 206.3h0M253.3 201.8h0M262.5 221.9h0M255.4 194.6h0M267.2 213.0h0M246.4 207.0h0M245.3 212.1h0M277.0 203.5h0M270.7 198.6h0M251.1 200.1h0M275.0 213.8h0M251.2 194.9h0M250.9 202.8h0M258.0 216.2h0M244.6 196.0h0M267.3 205.0h0M265.5 217.5h0M273.9 205.0h0M258.2 189.6h0M265.8 215.7h0M251.9 185.9h0M273.6 186.5h0M278.0 198.1h0M252.6 196.6h0M280.0 212.7h0M275.8 198.0h0M253.4 194.2h0M253.9 205.5h0M250.5 213.5h0M258.2 191.7h0M267.0 190.9h0M281.5 206.7h0M274.5 213.6h0M275.6 200.9h0M248.8 204.1h0M256.2 198.5h0M271.4 212.8h0M261.1 216.4h0M279.1 198.4h0M272.4 185.8h0M263.2 202.2h0M251.5 196.8h0M249.1 197.6h0M268.3 221.9h0M258.8 212.4h0M270.2 189.8h0M250.7 212.1h0M249.2 206.9h0M283.2 197.7h0M271.0 212.4h0M273.2 221.0h0M282.6 200.1h0M268.8 221.2h0M273.5 208.4h0M251.1 206.2h0M248.2 212.0h0M245.3 204.6h0M281.1 200.1h0M281.2 208.7h0M271.4 208.0h0M267.8 184.7h0M248.8 194.6h0M251.0 217.9h0M277.3 213.9h0M251.7 196.4h0M243.8 208.9h0M259.4 218.4h0M255.6 221.7h0M263.3 210.5h0M271.0 194.8h0M249.2 200.2h0M261.8 216.3h0M266.3 199.5h0M252.4 206.6h0M259.8 192.4h0M266.8 217.1h0M255.5 189.0h0M264.5 188.0h0M266.2 183.9h0M274.3 208.3h0M271.7 208.8h0M283.8 205.4h0M249.1 192.5h0M261.6 191.2h0M270.2 214.4h0M251.7 188.3h0M261.3 203.6h0M263.4 217.5h0M256.5 214.0h0M275.6 197.4h0M253.4 206.1h0M247.4 205.1h0M279.7 213.6h0M251.4 187.4h0M264.2 190.2h0M267.9 199.9h0M265.7 222.3h0M247.0 190.7h0M252.6 195.5h0M280.4 193.0h0M271.9 203.1h0M255.4 213.0h0M266.9 217.0h0M252.8 216.3h0" stroke="#faeeb0" stroke-width="1.50" stroke-linecap="round" stroke-opacity="1.0" fill="none"/>
<path d="M271.0 154.0 L280.0 153.0 L284.0 162.0 L284.0 182.0 L272.0 184.0 L268.0 170.0Z" fill="#fbf0bc" fill-opacity="0.75"/>
<path d="M283.7 182.7h0M281.8 163.8h0M283.0 156.4h0M275.5 163.9h0M274.1 178.8h0M282.9 157.6h0M269.8 162.4h0M285.4 182.7h0M270.0 154.3h0M285.8 160.6h0M268.4 168.1h0M265.3 170.3h0M284.3 178.7h0M271.8 170.7h0M277.7 178.5h0M272.0 183.3h0M270.3 154.6h0M274.8 165.0h0M280.7 184.0h0M281.4 158.5h0M282.9 154.7h0M274.2 180.3h0M268.4 158.5h0M269.8 163.4h0M276.4 169.5h0M270.9 184.5h0M266.5 167.2h0M274.4 163.8h0M275.2 164.7h0M285.1 180.9h0M282.7 175.0h0M276.0 171.1h0M281.5 165.4h0M282.4 163.8h0M273.8 162.0h0M272.8 153.7h0M273.1 165.0h0M279.3 157.3h0M284.1 167.7h0M273.5 169.2h0M273.6 178.8h0M278.3 182.1h0M277.1 151.5h0M275.0 180.9h0M282.4 180.3h0M270.2 173.5h0M276.0 178.4h0M273.9 161.1h0M283.6 177.6h0M281.2 163.7h0M277.5 175.3h0M273.4 161.1h0M273.4 178.6h0M279.4 172.9h0M271.6 163.1h0M279.9 159.9h0M268.8 171.2h0M270.3 155.7h0M266.5 164.8h0M269.7 180.3h0M282.6 180.9h0M285.1 164.2h0M273.2 187.8h0M280.7 163.7h0M275.2 167.0h0M272.4 175.6h0M275.1 154.2h0M273.8 153.8h0M273.5 170.0h0M278.5 150.9h0M268.7 160.1h0M273.8 164.5h0M279.1 175.4h0M274.2 167.4h0M274.5 155.8h0M272.1 162.2h0M281.3 167.1h0M267.9 160.2h0M272.4 179.9h0M286.5 164.9h0M283.5 162.4h0M281.6 168.2h0M275.7 170.9h0M270.2 171.8h0M283.6 172.9h0M270.5 162.6h0M280.2 176.4h0M267.3 161.5h0M281.4 175.9h0M280.2 175.4h0M274.2 158.8h0M273.8 181.3h0M270.3 164.8h0M272.0 171.1h0M279.2 183.7h0M278.4 167.2h0M267.5 172.4h0M283.0 181.4h0M270.0 177.1h0M283.8 175.2h0M271.3 178.7h0M271.2 184.2h0M279.9 165.8h0M281.2 156.6h0M266.1 153.4h0M285.7 165.4h0M275.8 151.9h0M269.7 159.0h0M276.7 178.2h0M270.8 174.9h0M278.7 157.4h0M282.3 171.7h0M266.2 164.5h0M268.8 181.7h0M277.5 176.4h0M270.7 156.1h0M265.8 170.5h0M279.2 175.1h0M277.1 164.8h0M278.3 175.8h0M271.0 173.0h0M284.7 172.7h0M281.8 168.7h0M273.9 177.7h0M280.3 155.7h0M281.3 153.5h0M281.4 172.9h0M273.6 155.5h0M270.7 181.8h0M277.9 177.5h0M275.0 174.3h0M269.3 170.3h0M269.3 150.3h0M287.1 171.9h0M275.2 149.8h0M276.6 155.8h0M273.6 182.6h0M282.0 173.8h0M280.9 175.9h0M280.6 167.9h0M272.8 160.4h0M268.5 163.8h0M271.0 165.8h0M273.8 157.6h0M281.4 180.6h0M275.4 157.9h0M277.7 174.9h0M269.0 159.7h0M277.6 156.1h0M273.5 179.2h0M278.6 167.3h0M276.5 166.9h0M285.4 179.4h0M270.7 183.5h0M277.7 175.3h0M271.5 180.8h0M273.0 150.9h0M273.5 179.4h0M281.9 157.2h0M276.5 172.5h0M270.3 185.6h0M280.3 168.2h0M269.1 166.5h0M283.8 175.7h0M284.8 163.8h0M277.7 163.5h0M280.2 166.0h0M278.0 152.9h0M266.3 166.9h0M285.7 171.2h0M282.3 184.7h0M277.3 174.2h0M275.9 152.7h0M274.0 168.3h0M273.9 171.1h0M273.6 168.8h0M272.9 158.6h0M277.7 170.2h0M269.0 168.5h0M278.7 183.5h0M283.5 176.6h0M281.1 167.8h0M280.5 175.1h0M282.3 182.9h0M269.2 171.5h0M268.2 167.3h0M269.7 186.0h0M285.0 169.1h0M273.6 157.4h0M281.6 175.8h0M283.6 160.3h0M283.8 159.9h0M275.9 180.5h0M278.1 184.0h0M286.4 179.6h0M269.3 164.2h0M268.7 172.0h0M268.8 171.6h0M271.3 166.7h0M282.2 159.4h0M284.8 177.8h0M268.1 178.1h0M282.2 160.7h0M273.6 160.2h0M272.0 184.0h0M284.7 174.6h0M276.2 152.0h0M278.4 172.3h0M273.7 153.8h0M278.7 167.1h0M273.6 167.0h0M274.9 158.7h0M270.4 174.6h0M268.9 163.0h0M286.1 182.5h0M279.6 174.1h0M271.9 164.9h0M278.8 178.6h0M276.6 153.3h0M284.2 167.4h0M268.3 172.2h0M279.5 185.2h0M272.1 162.9h0M280.8 169.1h0M272.9 183.8h0M267.4 163.4h0M284.3 163.8h0M285.2 177.4h0M284.2 180.9h0M276.0 167.3h0M274.3 172.0h0M272.1 182.3h0M272.1 164.7h0M285.1 160.4h0M267.3 169.7h0M279.2 181.4h0M271.6 160.6h0M271.7 185.8h0M281.0 168.1h0M285.8 160.5h0M275.2 179.0h0M273.8 185.5h0M270.1 172.5h0M284.1 183.9h0M275.7 160.6h0M283.5 178.1h0M272.0 162.1h0M267.6 171.5h0M281.2 162.2h0M270.3 162.2h0M281.0 153.6h0M268.7 169.3h0M272.2 155.0h0M269.7 165.4h0M278.4 173.1h0M277.1 169.0h0M279.2 153.2h0M272.7 186.2h0M272.7 180.9h0M271.0 155.4h0M285.6 182.8h0M278.9 168.1h0M281.7 166.5h0M279.9 151.9h0M284.3 166.0h0M276.3 165.1h0M277.9 170.1h0M280.4 178.3h0M280.3 158.9h0M270.2 166.0h0M270.4 173.2h0M275.6 155.7h0M279.4 161.4h0M272.9 184.3h0M274.8 162.9h0M282.6 166.8h0M277.4 173.9h0M276.2 157.9h0M281.3 167.1h0M274.7 178.8h0M280.2 171.2h0M278.7 169.4h0M277.5 176.9h0M286.3 165.4h0M268.0 155.0h0M280.5 176.8h0M278.3 161.5h0M269.1 179.4h0M269.5 164.3h0M285.0 184.6h0M278.7 152.2h0M269.0 172.8h0M279.3 174.3h0M282.0 157.4h0M269.7 174.6h0M268.8 158.5h0M272.2 163.9h0M285.8 167.4h0M279.0 180.3h0M270.0 179.0h0" stroke="#f9eab0" stroke-width="1.50" stroke-linecap="round" stroke-opacity="1.0" fill="none"/>
<path d="M265.7 185.9h0M246.0 184.8h0M267.0 179.2h0M244.6 190.1h0M255.0 180.5h0M261.1 177.9h0M250.3 187.4h0M260.0 184.5h0M259.3 176.8h0M270.1 188.2h0M264.9 174.9h0M249.9 175.5h0M246.9 181.7h0M247.5 185.3h0M257.1 187.4h0M251.1 180.0h0M262.8 183.6h0M258.5 176.6h0M256.3 188.1h0M266.4 181.7h0M244.6 185.5h0M263.6 186.4h0M268.1 183.6h0M251.0 177.4h0M249.7 177.8h0M258.5 184.7h0M263.7 176.3h0M262.8 173.5h0M261.0 181.2h0M254.8 178.3h0M249.4 188.5h0M267.8 181.8h0M257.5 182.0h0M244.6 188.4h0M264.8 180.2h0M243.1 179.3h0M262.3 189.4h0M247.9 176.8h0M251.1 186.9h0M262.3 181.0h0M260.6 176.9h0M246.8 184.9h0M263.9 176.6h0M260.8 179.1h0M264.4 180.8h0M268.2 184.9h0M259.4 173.4h0M256.3 175.8h0M255.4 189.6h0M248.7 181.2h0M245.3 176.5h0M269.4 179.0h0M251.8 190.3h0M251.6 182.5h0M255.9 177.9h0M250.3 178.6h0M255.8 180.1h0M263.6 176.4h0M251.6 178.2h0M252.4 189.4h0M251.7 192.1h0M243.4 185.0h0M258.7 182.4h0M249.8 190.2h0M256.5 186.2h0M257.7 183.3h0M262.6 189.4h0M249.4 188.2h0M256.6 177.2h0M260.4 181.1h0M252.4 185.5h0M253.1 186.6h0M252.3 189.0h0M260.2 175.9h0M271.1 190.4h0M258.5 187.7h0M264.5 185.7h0M252.7 190.6h0M266.1 186.7h0M265.1 176.6h0M244.8 191.6h0M252.1 176.5h0M268.4 185.2h0M245.3 180.0h0M245.5 190.3h0M246.6 177.6h0M262.5 183.4h0M248.8 179.9h0M253.9 185.4h0M261.3 186.7h0M262.2 184.8h0M252.1 178.3h0M265.6 179.0h0M262.0 184.4h0M260.7 176.6h0M260.5 175.1h0M259.2 179.7h0M248.2 185.9h0M254.1 183.1h0M262.4 174.4h0M266.6 184.0h0M244.2 179.5h0M260.4 185.5h0M254.6 180.9h0M263.9 187.5h0M269.4 188.0h0M252.7 185.4h0M258.0 181.3h0M257.3 186.8h0M242.5 175.3h0M244.3 190.0h0M254.5 185.0h0M255.0 185.8h0M248.3 187.3h0M267.9 173.5h0M263.0 189.5h0M252.4 191.3h0M259.2 176.3h0M248.4 190.1h0M250.6 179.9h0M249.4 184.1h0M247.5 181.7h0M247.7 184.1h0M268.5 188.5h0M255.0 190.2h0M253.4 182.0h0M252.7 175.4h0M253.8 175.6h0M252.7 182.7h0M267.9 187.7h0M267.5 180.2h0M252.1 191.5h0M264.5 180.1h0M257.4 190.6h0M271.3 188.1h0M267.0 182.7h0M270.1 188.3h0M248.0 193.1h0M244.3 181.2h0M244.2 182.4h0M246.5 187.6h0M265.6 174.9h0M266.3 172.3h0M265.4 185.9h0M251.2 175.3h0M250.2 181.3h0M253.9 181.8h0M246.7 176.7h0M253.8 180.9h0M250.3 179.4h0M251.9 189.3h0M265.2 182.7h0M260.1 181.3h0M249.9 187.1h0M259.8 182.5h0M248.3 176.4h0M262.7 187.7h0M254.6 178.5h0M256.9 175.7h0M256.4 184.8h0" stroke="#f8e4a8" stroke-width="1.50" stroke-linecap="round" stroke-opacity="1.0" fill="none"/>
<path d="M262.0 180.0 L280.0 178.0 L284.0 190.0 L278.0 196.0 L262.0 194.0Z" fill="#fbf0bc" fill-opacity="0.7"/>
<path d="M265.1 189.7h0M269.8 185.6h0M262.9 189.3h0M271.3 185.1h0M268.0 176.1h0M266.7 178.9h0M277.6 185.1h0M271.6 184.5h0M279.9 190.9h0M283.8 192.0h0M272.9 189.9h0M260.5 178.8h0M282.0 180.3h0M282.6 187.0h0M276.2 194.5h0M278.6 193.6h0M282.0 175.9h0M269.1 183.4h0M280.8 185.9h0M260.0 178.2h0M272.6 181.1h0M260.3 183.3h0M284.6 184.1h0M268.4 179.2h0M265.6 183.4h0M277.4 176.2h0M284.6 184.8h0M278.4 182.4h0M283.6 190.9h0M269.6 180.7h0M260.8 185.9h0M271.4 189.0h0M273.6 179.8h0M258.9 178.1h0M271.2 185.8h0M280.2 177.5h0M285.1 181.4h0M271.9 191.2h0M274.0 175.6h0M278.9 188.3h0M267.9 179.3h0M261.8 187.6h0M277.8 177.4h0M265.3 176.8h0M264.6 195.5h0M265.9 193.9h0M265.8 174.8h0M270.4 190.4h0M272.0 188.5h0M271.6 194.0h0M263.7 187.7h0M272.2 194.4h0M278.5 185.9h0M284.9 189.8h0M275.1 186.9h0M269.7 183.0h0M268.5 189.4h0M274.9 189.1h0M277.2 182.7h0M262.2 181.0h0M272.2 187.0h0M265.0 182.7h0M271.8 193.4h0M262.3 181.2h0M282.4 177.9h0M272.9 186.0h0M280.9 194.2h0M274.8 184.0h0M283.7 177.2h0M268.0 188.9h0M268.3 186.2h0M261.8 195.5h0M261.5 190.6h0M259.4 191.8h0M260.6 185.8h0M268.6 186.1h0M267.1 194.2h0M277.1 175.2h0M271.5 195.6h0M273.4 183.9h0M260.5 189.3h0M266.1 195.1h0M281.6 192.3h0M263.2 185.8h0M262.6 190.5h0M268.4 190.6h0M258.2 178.0h0M284.0 186.2h0M264.1 181.6h0M271.9 188.1h0M262.4 190.1h0M270.3 189.7h0M276.4 180.5h0M278.5 193.4h0M282.5 191.4h0M266.9 189.8h0M270.9 189.6h0M259.4 186.6h0M266.6 186.0h0M278.1 178.3h0M266.2 190.3h0M269.5 188.2h0M267.1 190.4h0M276.2 184.9h0M267.8 181.9h0M278.7 190.7h0M267.3 181.0h0M267.5 190.4h0M279.5 177.7h0M279.8 189.0h0M271.3 193.8h0M263.0 185.5h0M263.6 182.7h0M271.0 187.6h0M276.6 176.5h0M259.0 180.3h0M264.5 179.5h0M276.5 189.1h0M276.5 191.5h0M272.1 186.1h0M260.4 191.8h0M268.2 176.9h0M259.0 176.7h0M266.2 194.6h0M285.4 194.3h0M266.8 177.7h0M262.2 179.3h0M273.5 185.1h0M264.8 192.4h0M271.6 193.4h0M282.7 185.8h0M268.8 194.4h0M270.4 182.0h0M264.1 185.6h0M274.0 188.9h0M267.7 176.3h0M280.8 185.1h0M279.5 185.0h0M265.3 182.7h0M284.6 185.1h0M272.5 195.0h0M266.8 177.6h0M278.1 186.6h0M264.7 194.2h0M277.6 175.4h0M276.3 176.4h0M262.7 184.3h0M282.7 175.5h0M260.7 189.5h0M260.8 183.8h0M281.2 178.4h0M271.8 174.5h0M266.7 178.6h0M267.0 182.2h0M262.8 190.4h0M274.7 175.8h0M276.3 177.5h0M261.8 192.5h0M275.9 175.9h0M259.6 185.9h0" stroke="#faecb2" stroke-width="1.50" stroke-linecap="round" stroke-opacity="1.0" fill="none"/>
<path d="M266.8 168.3h0M270.2 170.8h0M274.8 181.2h0M273.2 175.6h0M272.1 172.1h0M275.5 181.9h0M277.7 178.9h0M267.6 178.8h0M279.2 171.9h0M266.4 180.6h0M275.2 169.9h0M268.4 173.8h0M270.1 178.6h0M266.7 173.4h0M278.7 178.8h0M275.6 177.0h0M279.1 168.3h0M279.3 181.4h0M278.5 169.1h0M275.7 183.0h0M265.8 178.4h0M264.1 169.1h0M264.7 183.6h0M266.2 175.0h0M266.9 171.6h0M263.6 174.3h0M274.2 176.9h0M265.1 177.2h0M276.0 174.5h0M278.9 183.0h0M266.3 176.3h0M264.3 179.9h0M269.3 177.8h0M265.2 171.6h0M268.9 181.4h0M277.3 169.0h0M276.9 170.6h0M278.6 170.4h0M265.7 178.0h0M265.2 172.3h0M268.8 176.4h0M274.6 172.1h0M266.2 180.8h0M280.9 179.4h0M281.0 173.7h0M269.2 170.4h0M266.4 180.1h0M276.5 169.0h0M279.7 183.6h0M278.9 178.2h0M263.6 169.7h0M271.3 168.6h0M266.0 169.6h0M275.3 174.0h0M278.7 172.2h0M277.6 171.3h0M264.8 178.0h0M267.7 179.8h0M274.3 169.4h0M280.3 183.4h0M268.8 178.7h0M266.8 173.3h0M280.4 174.8h0M267.7 180.5h0M268.7 170.2h0M279.7 173.4h0M281.3 180.9h0M277.0 174.1h0M275.7 168.6h0M266.6 183.5h0M272.0 169.0h0M273.5 172.6h0M275.2 181.4h0M279.4 169.5h0M281.2 180.5h0M266.5 176.8h0M264.0 181.1h0M279.4 174.2h0M266.6 180.9h0M274.1 181.6h0M271.8 169.0h0M268.4 174.0h0M270.1 169.1h0M270.9 181.2h0M264.3 181.7h0M270.6 174.8h0M273.3 182.5h0M264.3 183.6h0M267.3 169.6h0M266.2 170.2h0M274.8 182.3h0M272.8 173.2h0M270.3 173.5h0M265.3 177.7h0M280.6 168.2h0M276.5 173.2h0M270.9 176.5h0M266.5 184.0h0M263.9 175.7h0M277.1 170.2h0M276.3 175.5h0M279.0 180.2h0M279.4 172.4h0M267.6 172.8h0M270.5 170.4h0M268.7 171.5h0M268.7 180.5h0M273.3 172.7h0M270.5 174.5h0M265.0 175.3h0M271.8 168.3h0M263.7 181.4h0M277.0 175.6h0M278.2 175.2h0M274.3 183.0h0M276.2 174.0h0M274.5 180.2h0M280.1 169.0h0M270.2 181.6h0M275.7 183.8h0" stroke="#f5e3b0" stroke-width="1.60" stroke-linecap="round" stroke-opacity="1.0" fill="none"/>
<path d="M279.3 177.1h0M269.5 183.3h0M270.2 173.8h0M264.8 178.6h0M279.1 182.8h0M275.1 179.4h0M275.7 181.8h0M275.4 177.9h0M271.3 176.2h0M265.1 173.7h0M279.2 182.7h0M277.1 171.7h0M275.0 170.4h0M277.4 171.2h0M278.8 183.1h0M273.0 177.8h0M268.5 178.2h0M272.0 182.6h0M271.5 182.3h0M275.9 178.4h0M273.8 170.1h0M274.8 183.6h0M265.7 180.3h0M275.6 171.5h0M276.3 177.5h0M276.7 179.4h0M264.9 182.2h0M264.6 179.2h0M278.2 180.6h0M280.8 174.3h0M269.8 180.1h0M267.7 172.5h0M266.4 182.1h0M277.9 183.1h0M269.1 175.1h0" stroke="#8a94a0" stroke-width="1.10" stroke-linecap="round" stroke-opacity="1.0" fill="none"/>
<path d="M217.0 207.5h0M236.8 200.4h0M240.9 188.0h0M208.6 226.2h0M238.7 199.7h0M225.9 210.8h0M235.8 192.8h0M213.4 218.3h0M221.3 214.3h0M226.1 204.8h0M211.5 224.5h0M226.8 215.4h0M235.3 199.7h0M232.7 198.3h0M214.3 223.8h0M232.8 201.0h0M212.3 217.6h0M213.7 223.7h0M217.3 209.7h0M238.0 191.7h0M211.5 215.7h0M225.4 207.4h0M241.8 195.2h0M234.9 195.1h0M231.7 210.4h0M228.7 207.3h0M213.2 222.5h0M212.7 225.1h0M225.5 200.9h0M220.3 205.9h0M229.3 193.0h0M223.5 208.2h0M209.6 221.7h0M219.1 209.5h0M230.5 197.4h0M243.5 189.4h0M216.5 213.7h0M222.2 197.5h0M233.7 192.6h0M238.9 199.4h0M226.1 203.7h0M221.9 210.0h0M228.2 200.8h0M214.6 215.1h0M211.8 217.8h0M241.4 186.9h0M208.9 221.9h0M232.9 202.8h0M218.5 223.1h0M228.4 206.6h0M239.8 191.4h0M243.6 191.2h0M240.1 190.4h0M241.7 197.4h0M220.1 210.9h0M212.4 221.1h0M227.1 203.5h0M235.4 197.1h0M231.0 196.5h0M239.8 198.2h0M240.4 192.7h0M237.8 200.1h0M233.4 197.1h0M228.0 206.9h0M217.1 211.1h0M236.9 192.7h0M238.8 203.0h0M223.9 213.7h0M236.4 203.1h0M229.5 212.0h0M239.2 194.0h0M221.4 205.6h0M228.4 198.1h0M217.5 223.0h0M211.2 225.8h0M239.4 195.0h0M221.8 213.7h0M220.6 218.4h0M223.7 202.7h0M223.9 204.8h0M233.8 189.0h0M229.3 189.4h0M224.3 215.7h0M243.4 190.2h0M219.4 207.8h0M209.7 223.7h0M229.7 197.3h0M242.7 195.2h0M229.8 191.1h0M215.5 215.8h0M221.3 217.3h0M235.6 205.5h0M223.7 211.4h0M212.6 228.3h0M232.5 197.7h0M222.3 204.4h0M224.2 215.5h0M223.8 207.8h0M209.5 222.9h0M222.7 204.8h0M235.5 195.2h0M231.4 188.7h0M227.4 212.9h0M216.2 210.8h0M237.9 203.0h0M216.2 219.3h0M227.0 204.0h0M230.8 198.2h0M237.7 196.5h0M228.5 213.0h0M213.5 211.1h0M220.6 213.7h0M236.7 204.4h0M235.3 190.5h0M236.6 190.2h0M235.2 198.4h0M236.3 200.6h0M231.5 200.1h0M212.7 218.0h0M239.3 197.9h0M233.9 189.1h0M213.2 228.3h0M226.3 210.9h0M214.6 223.0h0M233.5 208.6h0M234.4 194.6h0M218.0 217.2h0M211.9 218.2h0M229.7 203.4h0M211.5 214.2h0M230.9 196.9h0M224.6 219.8h0M228.0 198.9h0M233.7 194.7h0M216.0 212.5h0M212.3 224.6h0M222.1 203.9h0M233.1 201.7h0M214.7 226.9h0M220.5 219.6h0M216.4 207.4h0M222.4 218.4h0M227.0 207.7h0M227.5 197.6h0M235.4 202.4h0M241.9 192.3h0M233.6 199.7h0M215.4 224.6h0M216.3 219.2h0M243.0 194.1h0M239.6 198.3h0M228.3 214.7h0M229.5 190.1h0M237.3 201.3h0M218.6 221.1h0M234.5 190.6h0M238.1 188.4h0M236.8 195.4h0M238.6 197.8h0M217.4 216.9h0M218.7 204.5h0M210.7 226.2h0M217.7 216.2h0M231.6 208.3h0M231.0 193.8h0M223.7 216.5h0M238.5 190.8h0M241.7 198.4h0M242.3 196.6h0M220.0 203.1h0M220.7 221.2h0M226.8 194.4h0M237.3 195.7h0M219.5 208.3h0M216.9 214.1h0M225.1 208.5h0M228.4 203.7h0M240.1 201.0h0M226.7 198.6h0M238.4 194.0h0M228.4 198.6h0M217.8 215.8h0M236.8 201.0h0M217.6 223.6h0M234.3 190.3h0M232.7 187.4h0M234.0 200.1h0M232.0 198.9h0M241.8 193.8h0M244.9 190.1h0M231.5 208.2h0M229.5 193.1h0M219.9 224.2h0M213.2 211.6h0M240.7 190.4h0M231.0 207.1h0M220.2 213.6h0M225.4 201.3h0M222.2 199.5h0M221.1 211.6h0M226.8 201.4h0M215.9 217.8h0M229.0 207.8h0M227.3 212.0h0M225.1 195.4h0M214.2 219.7h0M239.1 194.8h0M221.0 209.6h0M231.7 192.4h0M231.5 195.9h0M226.7 196.0h0M214.4 218.6h0M220.5 202.6h0M243.1 189.2h0M232.2 188.4h0M234.8 202.6h0M220.5 204.1h0M244.4 195.5h0M233.1 201.9h0M227.7 203.5h0M220.9 200.1h0M228.8 211.6h0M211.6 221.4h0M236.6 191.0h0M226.4 215.6h0M220.7 219.3h0M212.6 223.8h0M229.1 208.0h0M214.8 224.0h0M238.0 204.3h0M230.2 190.5h0M231.1 187.4h0M239.1 193.7h0M236.4 195.2h0M218.0 225.9h0M232.4 202.6h0M219.9 222.9h0M214.9 210.7h0M244.4 188.9h0M221.3 209.2h0M224.8 217.9h0M216.5 212.5h0M243.3 187.4h0M226.8 209.5h0M211.7 219.3h0M238.7 195.3h0M239.6 186.9h0M225.1 208.1h0M217.8 221.5h0M221.6 203.7h0M238.8 194.9h0M232.7 188.0h0M236.4 187.4h0M220.8 215.6h0M224.2 208.9h0M213.6 210.7h0M215.0 223.7h0M230.7 191.3h0M235.4 203.7h0M236.0 188.7h0M232.6 208.6h0M240.5 192.1h0M221.3 214.7h0M217.6 223.6h0M218.4 218.8h0M240.6 194.8h0M231.5 187.2h0M231.5 200.5h0M226.9 198.9h0M231.9 200.8h0M238.8 188.6h0M225.9 207.5h0M239.5 191.6h0M235.4 186.3h0M238.9 196.7h0M238.8 194.9h0M240.1 199.7h0M218.2 211.2h0M229.5 192.3h0M230.5 198.1h0M238.2 194.9h0M230.5 190.4h0M215.9 209.4h0M237.6 192.3h0M228.1 194.3h0M219.2 204.7h0M233.4 203.2h0M226.6 196.1h0M213.9 219.6h0M235.3 205.7h0M240.6 195.1h0M226.9 202.1h0M223.3 207.5h0M221.4 203.9h0M235.8 192.4h0M214.9 222.5h0M212.9 219.3h0M219.3 225.0h0M225.4 208.9h0M234.3 203.8h0M210.9 220.9h0M235.8 189.5h0M218.1 211.2h0M227.1 210.9h0M220.7 215.7h0M243.2 196.8h0M225.9 211.6h0M223.5 200.4h0M221.1 221.7h0M224.2 200.5h0M234.0 190.8h0M225.5 205.3h0M217.8 203.7h0M222.9 208.6h0M227.1 205.6h0M233.2 208.5h0M210.2 218.5h0M225.4 199.8h0M241.9 193.8h0M232.2 204.2h0M238.6 199.4h0M232.9 196.5h0M224.2 215.9h0M225.9 215.5h0M226.3 192.6h0M227.8 194.1h0M231.1 210.8h0M234.1 189.2h0M212.2 228.1h0M234.3 197.3h0M219.0 207.6h0M224.9 203.4h0M231.2 205.8h0M232.5 191.3h0M229.7 197.5h0M223.7 199.4h0M242.3 187.9h0M216.3 217.6h0M224.8 217.5h0M213.7 225.5h0M236.3 198.8h0M212.9 212.9h0M228.0 195.4h0M215.9 225.3h0M228.5 203.9h0M213.9 222.3h0M221.6 199.7h0M225.1 211.8h0M218.6 217.9h0M242.9 198.0h0M224.1 204.6h0M220.8 216.5h0M212.7 225.2h0M213.8 224.4h0M241.4 197.5h0M211.8 216.3h0M212.6 217.0h0M229.0 200.7h0M225.9 203.8h0M224.1 196.6h0M232.0 192.6h0M216.8 225.5h0M228.2 214.7h0M217.5 205.3h0M218.0 217.6h0M226.3 198.5h0M216.6 220.6h0M223.4 202.8h0M224.5 210.8h0M243.0 190.5h0M213.7 218.7h0M212.7 226.7h0M233.1 204.0h0M244.9 190.2h0M243.4 189.9h0M238.8 193.4h0M237.7 193.7h0M220.8 219.0h0M228.4 208.2h0M235.3 200.5h0" stroke="#f08b3d" stroke-width="1.50" stroke-linecap="round" stroke-opacity="1.0" fill="none"/>
<path d="M184.8 220.4h0M186.5 218.1h0M184.7 221.0h0M182.3 224.5h0M186.3 209.7h0M185.3 217.3h0M190.2 209.7h0M189.2 215.6h0M191.5 206.2h0M191.3 207.2h0M198.8 193.1h0M185.9 217.8h0M190.0 206.7h0M183.4 218.8h0M193.9 202.1h0M199.1 189.3h0M186.4 217.9h0M199.5 189.1h0M187.2 213.5h0M188.8 210.5h0M190.9 202.8h0M191.1 204.2h0M192.0 205.1h0M184.7 211.2h0M194.1 203.0h0M194.9 201.7h0M187.2 216.2h0M194.8 202.4h0M184.5 214.6h0M184.7 212.3h0M186.1 216.7h0M188.1 209.5h0M198.6 188.2h0M192.3 205.7h0M191.2 205.9h0M195.9 192.8h0M195.5 201.5h0M187.8 215.4h0M199.6 191.0h0M191.2 204.2h0M182.6 219.8h0M204.4 185.1h0M193.2 199.9h0M192.1 201.9h0M190.2 207.9h0M198.3 191.8h0M203.0 188.9h0M196.2 197.7h0M199.1 189.0h0M199.7 187.9h0M197.1 198.9h0M186.8 215.3h0M202.5 184.4h0M189.7 211.5h0M194.4 202.7h0M190.6 208.9h0M189.9 209.9h0M198.4 200.0h0M198.5 190.5h0M200.0 192.8h0M196.3 197.1h0M199.2 194.0h0M196.4 196.1h0M192.8 203.3h0M183.7 218.1h0M187.3 208.6h0M184.3 219.3h0M183.6 225.0h0M192.0 204.0h0M182.6 226.4h0" stroke="#ef8a3c" stroke-width="1.50" stroke-linecap="round" stroke-opacity="1.0" fill="none"/>
<path d="M193.7 243.7h0M181.1 238.5h0M187.4 245.5h0M206.8 231.1h0M209.8 229.2h0M182.0 233.4h0M211.8 226.2h0M209.7 225.1h0M190.4 244.8h0M209.6 223.0h0M192.7 243.7h0M181.8 232.9h0M189.3 239.1h0M205.0 232.8h0M200.4 240.6h0M196.9 244.3h0M193.9 243.1h0M202.4 238.6h0M185.5 237.8h0M188.1 242.4h0M190.9 243.1h0M211.4 224.1h0M198.3 238.8h0M203.5 235.8h0M182.4 229.8h0M207.8 226.2h0M199.1 245.6h0M201.5 237.4h0M181.5 228.9h0M181.7 230.0h0M187.7 239.5h0M206.3 230.4h0M210.7 224.8h0M187.6 243.7h0M189.6 245.3h0M183.4 233.9h0M203.5 231.1h0M182.5 231.3h0M209.9 223.3h0M186.4 238.3h0M183.0 235.6h0M200.2 238.0h0M206.0 223.5h0M209.9 221.9h0M183.8 234.4h0M197.7 241.1h0M187.6 244.8h0M202.9 238.9h0M214.8 225.2h0M200.2 235.3h0M182.2 224.5h0M199.8 242.5h0M190.2 245.1h0M182.8 234.4h0M183.5 230.1h0M186.8 233.4h0M204.6 234.2h0M185.0 236.0h0M201.5 234.3h0M192.6 246.5h0M193.7 244.0h0M202.7 235.2h0M180.8 237.4h0M190.8 243.7h0M206.1 228.5h0M208.7 228.7h0M200.1 239.1h0M208.5 229.7h0M184.5 235.4h0M182.0 236.2h0M180.8 225.4h0M203.6 233.3h0M181.3 233.4h0M181.9 236.2h0M188.9 243.5h0M209.7 225.3h0M208.3 225.0h0M181.2 232.6h0M184.4 235.0h0M179.4 229.2h0M187.5 245.6h0M200.7 232.4h0M185.0 230.8h0M201.6 235.7h0M206.5 229.0h0M204.4 234.4h0M198.7 243.0h0M198.5 239.0h0M184.7 233.0h0M181.2 232.3h0M192.5 243.0h0M210.2 224.2h0M184.8 237.6h0M186.4 245.4h0M184.1 242.0h0M190.3 239.0h0M202.1 236.3h0M208.8 224.3h0M210.8 221.7h0M212.6 224.2h0M205.8 229.3h0M211.6 222.3h0M186.5 242.8h0M206.0 229.5h0M202.7 235.5h0M207.2 231.0h0M211.7 224.1h0M182.5 230.1h0M202.1 229.1h0M206.0 230.0h0M185.0 240.5h0M205.7 236.4h0M211.2 222.7h0M205.2 234.8h0M181.6 231.6h0M203.3 234.3h0M183.9 229.2h0M210.3 225.3h0M200.5 240.6h0M202.9 239.1h0M209.9 226.3h0M189.1 241.2h0M186.1 235.5h0M191.7 244.4h0M203.5 237.8h0M202.7 235.8h0M188.9 242.9h0M185.8 240.8h0M188.8 246.3h0M194.6 244.5h0M199.4 241.4h0M206.1 236.1h0M188.1 241.1h0M180.5 226.6h0M188.4 245.2h0M191.1 242.3h0M199.5 244.7h0M183.2 225.4h0M210.8 229.9h0M200.1 242.4h0M203.6 241.0h0M184.1 243.4h0M205.9 230.1h0M192.0 245.8h0M183.0 226.8h0M203.5 234.1h0M211.4 227.3h0M201.5 235.3h0M208.9 222.4h0M187.1 247.5h0M187.2 241.5h0M182.1 227.4h0M204.1 237.5h0M181.7 240.4h0M183.3 228.0h0M208.7 229.0h0M183.9 236.5h0M184.5 230.9h0M181.4 241.5h0M201.4 241.4h0M194.0 242.3h0M211.2 222.9h0M191.4 243.5h0M207.4 228.4h0M196.6 240.8h0M199.9 243.9h0M202.5 233.3h0M203.3 235.3h0M194.4 242.4h0M207.0 230.9h0M211.5 224.2h0M201.2 240.8h0M187.4 243.5h0M184.4 229.0h0M203.8 231.3h0M210.7 226.0h0M188.2 245.3h0M183.4 224.4h0M190.5 242.6h0M182.0 239.5h0M188.9 244.4h0M209.4 222.2h0M186.9 235.8h0M208.0 225.2h0M183.4 226.9h0M203.7 232.4h0M207.4 231.0h0M200.6 234.8h0M194.7 242.9h0M180.5 221.5h0M194.7 241.9h0M190.5 247.0h0M189.4 244.4h0M186.5 242.5h0M203.9 230.9h0M206.6 229.6h0M188.7 242.5h0M196.0 238.9h0M187.7 241.8h0M195.0 243.4h0M211.6 224.9h0M202.0 231.0h0M205.7 230.3h0M211.1 225.9h0M185.0 239.0h0M204.5 238.4h0M186.6 240.1h0M208.6 224.0h0M193.6 242.8h0M188.4 246.1h0M192.2 246.5h0M194.8 244.8h0M203.2 233.4h0M207.0 229.2h0M183.2 238.8h0M191.3 243.4h0M181.8 228.2h0M183.6 235.6h0M193.0 242.5h0M204.2 231.8h0M181.9 239.2h0M183.6 227.3h0M188.3 243.1h0M195.5 243.5h0M183.0 242.5h0M208.2 229.7h0M185.4 237.9h0M182.5 234.0h0M198.9 236.3h0M194.0 244.7h0M183.4 231.6h0M197.7 239.2h0M209.4 225.1h0M180.9 232.7h0M199.1 240.8h0M208.3 227.7h0M198.4 235.8h0M181.0 224.2h0M204.8 231.2h0M202.2 237.0h0" stroke="#ef8a3c" stroke-width="1.50" stroke-linecap="round" stroke-opacity="1.0" fill="none"/>
<path d="M191.6 242.8h0M190.2 243.0h0M186.5 239.0h0M183.1 238.1h0M182.1 239.4h0M183.9 239.5h0M191.0 242.4h0M183.9 242.0h0M182.6 241.1h0M191.3 239.1h0M190.2 240.0h0M186.7 239.4h0M189.7 241.7h0M196.0 242.0h0M189.4 238.7h0M183.5 238.8h0M188.6 241.0h0M191.4 235.4h0M186.8 242.7h0M183.7 241.1h0M193.9 237.0h0M187.0 239.2h0M187.7 245.5h0M187.7 235.1h0M183.6 237.6h0M183.0 239.8h0M189.5 237.9h0M191.8 238.0h0M184.4 241.7h0M195.5 240.9h0M192.3 237.8h0M191.9 233.7h0M194.2 243.2h0M190.9 242.3h0M190.6 243.4h0M193.1 243.2h0M191.9 237.6h0M184.3 245.3h0M189.4 237.8h0M191.2 239.8h0M183.0 235.9h0M183.3 242.4h0M189.9 234.8h0M184.3 238.0h0M192.7 239.2h0M189.4 238.9h0M180.8 238.9h0M184.9 233.6h0M194.5 240.3h0M199.7 237.6h0M186.2 239.3h0M183.4 239.8h0M189.2 240.1h0M185.7 238.9h0M187.7 240.7h0M193.7 233.8h0M192.2 239.6h0M190.2 240.3h0M189.6 238.7h0M187.4 240.8h0M195.4 241.0h0M187.6 235.5h0M190.6 244.5h0M189.1 243.8h0M190.7 239.0h0M189.0 237.9h0M189.6 237.2h0M195.5 242.0h0M184.5 239.4h0M188.5 243.5h0M194.2 239.7h0M181.6 240.1h0M189.6 237.8h0M188.4 238.7h0M193.0 235.4h0M190.9 235.4h0M186.8 242.4h0M194.4 246.1h0M193.0 241.4h0M189.6 244.5h0" stroke="#ef8a3c" stroke-width="1.50" stroke-linecap="round" stroke-opacity="1.0" fill="none"/>
<path d="M218.4 169.4h0M208.6 170.3h0M246.7 212.0h0M223.6 219.5h0M242.3 169.0h0M233.8 169.1h0M237.1 175.8h0M239.7 221.4h0M212.1 213.6h0M228.5 157.8h0M241.7 184.1h0M234.5 192.9h0M221.7 179.6h0M236.8 203.1h0M243.1 173.5h0M240.0 172.5h0M209.9 217.6h0M219.3 203.9h0M246.9 220.2h0M220.8 169.0h0M241.2 190.2h0M245.3 197.6h0M216.0 220.3h0M217.0 168.5h0M219.0 196.7h0M220.8 212.1h0M221.5 169.4h0M221.0 220.2h0M222.6 212.7h0M212.9 167.9h0M220.5 178.5h0M224.7 159.6h0M230.6 195.3h0M246.0 170.3h0M205.7 161.1h0M246.0 217.7h0M212.5 162.0h0M230.6 191.2h0M238.8 223.4h0M210.9 215.4h0M247.0 201.2h0M220.0 216.8h0M217.7 223.2h0M217.9 174.6h0M234.0 209.8h0M228.8 208.8h0M219.6 181.0h0M224.1 188.4h0M216.0 197.6h0M246.0 204.1h0M217.0 178.4h0M216.8 182.6h0M225.6 191.7h0M210.9 204.2h0M214.9 204.3h0M218.7 181.6h0M224.9 199.8h0M213.8 170.1h0M211.1 181.9h0M226.3 163.4h0M222.6 216.5h0M241.7 224.7h0M237.3 189.3h0M212.7 169.7h0M210.1 160.9h0M221.1 206.6h0M235.7 209.3h0M238.2 184.7h0M208.2 184.0h0M212.8 209.6h0M225.5 179.1h0M245.3 172.0h0M244.5 156.4h0M242.2 196.5h0M208.7 189.7h0M216.9 216.7h0M242.0 184.9h0M227.1 199.8h0M243.4 197.3h0M228.9 170.5h0M214.9 189.6h0M211.1 186.6h0M246.0 200.0h0M243.2 178.7h0M218.3 194.7h0M218.9 190.5h0M246.1 188.4h0M216.9 176.1h0M223.2 207.5h0M231.0 210.3h0M240.4 178.0h0M220.5 159.4h0M235.2 182.4h0M238.0 168.7h0M213.9 168.1h0M211.8 217.7h0M211.7 177.5h0M236.7 219.7h0M230.0 182.8h0M218.4 162.4h0M211.0 183.7h0M234.4 188.4h0M216.9 180.5h0M223.8 208.5h0M220.7 213.8h0M211.6 206.0h0M218.4 190.1h0M208.1 195.5h0M232.5 179.7h0M228.7 198.0h0M216.2 199.3h0M221.6 217.9h0M246.4 217.9h0M217.4 200.1h0M218.2 220.5h0M223.2 207.7h0M217.9 170.4h0M237.6 214.6h0M242.3 192.3h0M210.8 204.7h0" stroke="#f3b080" stroke-width="1.20" stroke-linecap="round" stroke-opacity="1.0" fill="none"/>
<path d="M195.6 160.3h0M197.6 159.1h0M196.3 159.2h0M196.3 162.7h0M195.0 161.5h0M194.7 161.9h0M196.3 160.6h0M192.7 162.5h0M192.8 162.6h0M193.4 161.9h0M198.5 161.3h0M193.5 158.1h0M194.7 164.6h0M195.8 158.9h0M197.9 157.8h0" stroke="#8aa0b8" stroke-width="1.20" stroke-linecap="round" stroke-opacity="1.0" fill="none"/>
<path d="M92.0 240.0 L100.0 237.0 L111.0 239.0 L117.0 244.0 L119.0 255.0 L117.0 267.0 L111.0 273.0 L100.0 274.0 L93.0 270.0 L90.0 261.0 L89.0 250.0Z" fill="#45ad60" fill-opacity="0.75"/>
<path d="M109.5 242.2h0M96.9 254.6h0M105.4 274.3h0M97.9 249.1h0M92.9 251.9h0M98.9 275.0h0M117.7 243.3h0M103.1 254.5h0M103.5 236.3h0M118.7 268.0h0M106.7 255.0h0M113.5 250.8h0M102.8 275.4h0M106.9 260.5h0M108.2 264.6h0M92.9 240.9h0M118.8 266.3h0M92.4 237.3h0M107.0 264.3h0M96.8 243.6h0M100.1 254.6h0M102.5 237.7h0M99.1 252.2h0M104.7 269.3h0M107.7 249.4h0M92.8 270.4h0M93.2 262.7h0M118.1 268.6h0M105.3 246.5h0M97.3 247.1h0M90.5 261.2h0M112.4 246.4h0M104.8 235.5h0M99.8 266.0h0M104.3 237.8h0M98.5 247.4h0M102.4 260.4h0M88.1 249.9h0M111.4 248.2h0M101.1 249.4h0M99.2 243.9h0M99.4 271.1h0M98.2 260.5h0M111.3 243.3h0M97.0 268.7h0M93.4 245.9h0M107.6 256.7h0M100.8 269.0h0M114.1 240.2h0M99.0 265.6h0M111.3 248.0h0M105.1 257.3h0M111.4 261.8h0M111.2 258.3h0M112.8 251.4h0M88.8 252.2h0M98.7 245.3h0M112.1 263.1h0M99.4 245.7h0M98.8 250.3h0M118.1 255.9h0M99.7 251.4h0M90.8 255.4h0M103.5 272.4h0M102.0 244.8h0M105.2 256.3h0M93.5 264.2h0M95.5 263.3h0M101.9 240.9h0M104.7 263.2h0M112.3 247.6h0M115.0 241.1h0M113.1 246.2h0M89.4 261.5h0M94.2 260.0h0M117.6 265.0h0M112.1 271.7h0M88.3 255.5h0M106.6 248.2h0M95.1 270.7h0M106.0 247.6h0M100.1 272.3h0M105.6 243.8h0M106.5 263.0h0M96.3 252.7h0M107.9 249.6h0M102.0 259.8h0M100.9 264.6h0M94.4 259.6h0M106.4 242.5h0M112.1 238.5h0M107.3 260.9h0M92.8 239.3h0M89.8 254.0h0M104.1 254.4h0M90.9 262.9h0M109.9 262.1h0M115.5 260.9h0M94.6 253.1h0M100.4 258.5h0M110.6 254.4h0M94.2 242.2h0M91.3 238.0h0M103.2 242.2h0M107.8 249.0h0M99.2 250.8h0M116.0 255.9h0M94.2 242.6h0M94.0 238.6h0M94.8 258.6h0M117.4 245.4h0M91.4 253.7h0M117.3 251.2h0M117.6 257.2h0M92.4 242.0h0M101.4 267.6h0M114.2 243.0h0M99.2 238.0h0M104.9 242.0h0M119.4 264.9h0M114.3 246.7h0M90.5 256.6h0M101.2 257.1h0M112.1 270.1h0M110.4 259.8h0M110.8 260.0h0M116.2 266.0h0M98.9 273.1h0M89.5 241.8h0M97.0 251.0h0M104.0 244.0h0M115.2 262.9h0M103.6 251.9h0M99.5 271.9h0M116.8 241.9h0M97.0 235.6h0M100.8 245.6h0M111.1 242.9h0M98.5 246.3h0M93.1 241.7h0M93.8 258.2h0M92.2 267.2h0M87.8 251.9h0M103.4 260.2h0M98.8 251.4h0M100.4 243.3h0M98.2 266.3h0M112.8 243.7h0M100.9 261.7h0M93.5 247.9h0M107.3 258.8h0M99.0 256.6h0M101.2 273.7h0M113.1 260.9h0M113.1 241.3h0M117.1 248.4h0M107.5 268.3h0M107.1 265.1h0M101.6 242.6h0M108.2 248.5h0M97.4 256.7h0M109.1 252.7h0M108.4 255.2h0M100.9 240.0h0M99.4 264.6h0M96.7 244.6h0M90.0 259.8h0M91.3 255.3h0M118.5 266.7h0M117.3 255.8h0M98.0 270.2h0M110.1 257.8h0M113.4 241.5h0M103.2 265.4h0M97.3 245.8h0M103.5 258.6h0M106.2 246.5h0M93.9 252.2h0M96.9 241.1h0M105.7 236.7h0M112.1 248.8h0M111.4 262.8h0M91.9 244.0h0M92.5 256.2h0M104.2 237.9h0M102.3 273.1h0M106.8 267.5h0M107.3 274.7h0M118.0 257.9h0M116.4 241.4h0M101.8 236.7h0M117.5 246.4h0M113.9 249.4h0M115.7 250.9h0M116.5 258.8h0M106.1 243.0h0M98.2 259.6h0M94.9 250.8h0M114.1 267.8h0M98.0 257.5h0M109.3 270.3h0M113.6 266.5h0M104.5 262.5h0M109.6 272.9h0M106.8 257.4h0M103.5 253.2h0M88.6 256.0h0M115.2 258.4h0M91.5 269.5h0M108.2 240.5h0M116.0 245.4h0M110.4 256.1h0M106.9 267.6h0M97.8 258.3h0M116.3 269.8h0M107.9 264.7h0M111.7 272.8h0M102.0 236.5h0M93.3 265.1h0M98.3 239.5h0M98.2 265.7h0M94.9 249.8h0M114.6 268.3h0M119.3 255.0h0M113.3 245.4h0M90.6 267.2h0M106.4 242.2h0M114.5 272.2h0M97.3 269.8h0M90.3 249.2h0M88.4 252.8h0M100.4 242.1h0M95.5 250.1h0M89.0 258.7h0M99.0 244.3h0M96.3 262.8h0M118.8 243.0h0M115.9 253.8h0M112.8 257.8h0M109.2 265.0h0M104.9 241.8h0M103.7 237.3h0M115.5 271.0h0M111.8 247.1h0M107.4 272.9h0M99.5 236.4h0M109.7 240.4h0M109.6 258.0h0M102.3 248.3h0M95.5 244.1h0M114.6 265.5h0M102.3 243.5h0M96.1 267.5h0M111.9 242.5h0M105.5 237.7h0M97.5 246.1h0M102.7 267.8h0M97.4 269.6h0M101.4 272.2h0M114.6 269.7h0M112.9 246.0h0M96.3 245.7h0M113.6 246.8h0M118.0 256.7h0M93.5 258.5h0M91.8 265.6h0M115.1 250.9h0M120.7 255.4h0M113.9 254.1h0M115.2 255.2h0M106.4 243.7h0M108.1 245.3h0M110.2 238.9h0M108.5 241.0h0M115.7 261.0h0M110.7 248.4h0M105.3 273.8h0M92.2 239.0h0M110.9 254.6h0M89.1 254.7h0M87.6 252.6h0M110.0 251.1h0M100.8 267.2h0M110.2 263.6h0M103.8 274.6h0M96.6 251.9h0M112.4 267.9h0M114.3 250.5h0M99.1 265.0h0M102.0 255.3h0M114.6 262.8h0M100.0 255.5h0M97.2 245.3h0M96.7 270.9h0M116.7 263.8h0M106.9 244.0h0M105.2 272.0h0M98.8 240.7h0M119.1 252.9h0M107.1 251.5h0M95.9 238.9h0M119.8 262.7h0M95.7 262.9h0M91.8 242.5h0M87.8 252.6h0M111.7 264.5h0M90.3 260.2h0M101.8 255.7h0M109.0 270.5h0M120.1 257.6h0M107.5 242.0h0M94.5 266.3h0M95.1 239.4h0M116.3 257.1h0M95.6 265.1h0M107.6 238.2h0M105.5 244.0h0M99.8 239.1h0M102.8 249.8h0M94.8 251.0h0M93.1 238.1h0M103.2 235.8h0M106.9 263.1h0M115.0 249.9h0M95.9 265.0h0M98.9 259.6h0M116.9 265.2h0M98.2 263.6h0M118.1 263.5h0M96.2 257.3h0M94.9 255.5h0M95.5 254.3h0M98.5 267.2h0M117.3 255.5h0M109.2 259.8h0M113.4 253.4h0M90.6 240.2h0M114.6 261.7h0M94.3 261.6h0M113.7 240.5h0M88.4 252.1h0M96.5 256.0h0M102.7 239.4h0M109.2 239.7h0M117.6 244.5h0M101.7 274.4h0M120.7 257.2h0M93.6 237.3h0M106.4 250.9h0M106.9 251.3h0M94.0 245.2h0M98.0 267.3h0M112.8 268.2h0M112.3 250.2h0M109.8 247.4h0M93.0 271.7h0M94.3 238.5h0M103.2 252.8h0M94.4 258.6h0M103.7 243.4h0M91.9 256.5h0M103.3 246.6h0M93.5 256.6h0M109.1 240.8h0M108.8 259.0h0M119.5 256.1h0M107.0 270.8h0M105.0 271.9h0M118.8 243.4h0M106.6 240.3h0M97.9 249.7h0M110.9 262.0h0M105.9 247.4h0M107.0 273.4h0M102.8 268.9h0M89.4 264.7h0M94.7 260.1h0M99.9 248.6h0M113.1 260.3h0M95.1 244.8h0M113.1 253.2h0M87.8 258.4h0M108.5 241.4h0M88.6 254.2h0M98.3 245.8h0M109.3 257.7h0M112.6 246.8h0M104.3 240.6h0M99.0 251.3h0M88.1 255.7h0M98.4 244.6h0M114.2 266.3h0M93.5 254.6h0M94.2 257.0h0M97.7 256.1h0M98.5 239.5h0M104.6 255.1h0M87.9 252.9h0M111.6 247.3h0M96.7 246.5h0M95.7 268.5h0M100.4 248.6h0M100.8 251.9h0M111.4 264.9h0M95.7 255.0h0M114.5 263.4h0M110.7 261.0h0M95.5 262.7h0M108.8 242.9h0M106.0 247.8h0M100.1 262.8h0M90.1 242.8h0M110.7 257.1h0M104.5 263.8h0M89.1 248.4h0M111.1 245.3h0M97.5 253.9h0M98.9 270.4h0M112.9 264.0h0M107.3 256.0h0M110.1 263.1h0M104.5 272.5h0M112.0 240.8h0M93.4 264.2h0M115.4 243.1h0M104.1 245.6h0M114.2 247.6h0M108.5 245.7h0M108.6 259.1h0M99.0 244.5h0M109.5 243.1h0M89.9 242.7h0M117.3 244.3h0M113.5 269.2h0M94.1 236.7h0M105.7 254.9h0M118.2 252.2h0M98.2 245.9h0M106.3 270.8h0M116.8 243.3h0M95.3 259.6h0M105.1 257.3h0M101.2 252.3h0M107.3 243.6h0M103.7 275.0h0M103.0 261.8h0M87.1 250.3h0M100.1 256.9h0M89.2 258.9h0M106.7 263.2h0M101.0 242.3h0M107.9 271.8h0M89.3 249.4h0M109.4 272.5h0M91.7 237.4h0M104.8 239.7h0M114.3 251.7h0M96.3 262.9h0M110.6 272.1h0M96.2 247.2h0M117.2 269.2h0M102.9 268.2h0M91.8 261.9h0M103.3 251.3h0M91.1 245.6h0M111.3 253.6h0M114.4 249.4h0M109.2 271.9h0M108.0 263.3h0M109.9 269.7h0M99.9 242.4h0M94.9 240.3h0M112.8 246.3h0M108.9 246.9h0M116.8 253.9h0M112.3 272.3h0M110.0 265.3h0M117.4 265.6h0M93.2 270.1h0M97.9 252.9h0M94.7 257.6h0M114.9 256.2h0M94.1 237.6h0M92.1 239.9h0M109.6 271.1h0M112.0 255.5h0M101.7 254.8h0M91.9 258.5h0M98.3 265.0h0M108.0 264.8h0M102.4 254.5h0M99.1 241.0h0M100.6 273.2h0M91.7 260.3h0M93.0 239.4h0M94.6 261.5h0M104.6 242.2h0M97.9 272.9h0M110.0 236.7h0M102.0 262.0h0M117.4 251.3h0M110.1 274.2h0M105.4 248.3h0M106.3 264.3h0M117.5 267.0h0M98.4 244.2h0M107.6 255.7h0M102.4 244.7h0M109.6 239.9h0M99.3 256.6h0M102.6 258.3h0M105.0 263.8h0M102.6 239.7h0M90.6 254.1h0M104.6 243.5h0M101.1 245.9h0M100.2 246.2h0M91.3 244.4h0M99.6 240.3h0M88.6 261.4h0M118.3 245.2h0M105.3 269.6h0M103.3 246.5h0M104.1 245.5h0M112.3 253.3h0M110.0 258.6h0M95.6 268.0h0M107.6 241.9h0M119.6 252.4h0M108.3 266.3h0M91.6 260.4h0M106.4 247.3h0M102.7 240.7h0M100.1 253.7h0M108.8 271.5h0M114.4 264.8h0M102.4 256.1h0M95.2 263.0h0M113.8 244.7h0M106.2 255.5h0M115.3 265.7h0M99.0 257.8h0M96.6 274.1h0M107.1 252.1h0M87.5 255.0h0M104.0 241.1h0M110.1 246.1h0M119.3 254.1h0M103.9 264.8h0M90.0 238.8h0M100.2 259.0h0M96.6 243.2h0M99.3 239.5h0M95.4 264.8h0M109.7 246.0h0M111.2 250.6h0M104.3 256.4h0M94.7 271.5h0M91.4 252.8h0M105.7 254.4h0M112.0 239.9h0M110.6 241.2h0M103.0 241.9h0M95.9 238.8h0M99.4 275.1h0M115.9 249.9h0M95.6 248.0h0M99.3 255.3h0M94.0 269.7h0M117.1 249.6h0M106.5 247.3h0M108.2 249.6h0M90.4 251.4h0M106.5 241.4h0M94.8 237.2h0M90.7 243.6h0M107.6 251.9h0M93.9 246.1h0M120.2 257.9h0M110.8 244.0h0M111.5 269.8h0M119.5 263.6h0M113.7 253.8h0M91.4 241.9h0M115.8 269.3h0M114.1 243.2h0M101.1 272.6h0M93.6 244.4h0M96.6 254.7h0M111.6 269.3h0M92.7 255.3h0M105.3 240.8h0M104.7 243.4h0M94.8 250.7h0M116.8 254.5h0M97.3 252.3h0M106.0 274.9h0M111.7 254.5h0M115.1 258.5h0M102.0 262.9h0M99.9 237.7h0M103.8 257.8h0M113.1 260.6h0M102.3 275.6h0M110.4 272.5h0M111.7 251.9h0M104.3 247.3h0M92.4 258.8h0M98.2 253.2h0M93.3 265.6h0M108.9 271.6h0M95.3 244.6h0M98.7 270.2h0M107.5 247.5h0M103.6 262.5h0M98.4 267.3h0M94.2 259.6h0M109.2 256.4h0M97.6 268.5h0M98.5 256.9h0M114.8 254.9h0M95.5 241.3h0M100.1 234.6h0M112.9 263.9h0M119.1 257.9h0M88.4 246.9h0M107.9 261.3h0M93.4 244.5h0M109.6 236.9h0M105.3 272.0h0M116.3 254.6h0M104.9 262.2h0M114.8 258.9h0M103.1 241.3h0M102.9 243.6h0M92.5 265.1h0M96.9 254.6h0M95.7 250.8h0M108.9 257.4h0M108.5 239.0h0M108.5 255.1h0M110.1 243.1h0M96.7 235.6h0M97.9 266.2h0M93.1 261.9h0M94.8 243.1h0M92.4 239.7h0M101.8 255.2h0M98.6 241.8h0M106.7 271.0h0" stroke="#41ab5d" stroke-width="1.50" stroke-linecap="round" stroke-opacity="1.0" fill="none"/>
<path d="M103.3 257.6h0M102.0 273.2h0M90.9 240.7h0M99.1 268.9h0M102.9 245.5h0M102.8 255.5h0M112.2 261.1h0M110.8 262.5h0M117.2 250.4h0M92.3 270.1h0M111.7 271.5h0M89.1 255.8h0M111.7 249.0h0M91.5 255.8h0M114.0 263.9h0M112.2 272.1h0M100.6 247.3h0M95.2 266.3h0M90.5 264.0h0M97.1 249.7h0M113.9 247.9h0M110.2 254.0h0M101.1 240.8h0M114.4 260.0h0M115.5 260.9h0M111.4 243.3h0M105.0 240.7h0M113.1 240.3h0M96.2 241.0h0M96.9 267.2h0M112.4 242.4h0M111.1 260.5h0M101.9 237.6h0M93.7 260.5h0M117.5 260.0h0M98.2 244.8h0M88.5 256.0h0M99.5 246.3h0M107.9 245.6h0M102.4 235.5h0M106.5 265.2h0M94.7 250.4h0M92.1 266.6h0M96.0 262.1h0M117.2 241.5h0M96.9 255.3h0M103.1 260.8h0M108.4 238.7h0M108.7 244.2h0M109.2 264.3h0M99.8 247.9h0M104.4 255.7h0M99.8 271.2h0M116.2 247.0h0M91.6 263.9h0M117.1 256.0h0M99.8 258.8h0M114.3 243.2h0M100.4 273.7h0M112.6 258.2h0M114.6 244.2h0M103.1 264.7h0M93.8 255.0h0M109.3 238.9h0M98.8 258.9h0M111.1 252.2h0M101.2 257.6h0M110.9 255.5h0M104.5 268.8h0M89.7 263.3h0M96.4 266.6h0M113.8 269.5h0M93.3 258.4h0M110.1 252.7h0M108.4 240.9h0M118.3 261.9h0M112.1 250.2h0M115.6 244.1h0M106.4 272.4h0M110.5 261.0h0M108.2 253.3h0M113.1 251.6h0M109.5 253.9h0M100.0 253.1h0M109.3 242.3h0M111.2 240.3h0M104.2 257.0h0M93.6 269.5h0M111.4 269.9h0M101.1 269.0h0M110.2 257.7h0M111.1 245.8h0M92.4 264.1h0M115.8 265.3h0M112.3 267.0h0M94.8 241.5h0M94.6 239.3h0M89.1 242.8h0M97.1 239.9h0M110.8 269.9h0M104.9 275.5h0M103.7 254.2h0M111.2 240.9h0M110.3 264.4h0M87.4 248.6h0M94.2 245.2h0M102.5 264.8h0M115.5 241.0h0M106.2 257.8h0M101.7 246.8h0M114.0 264.3h0M105.6 254.0h0M99.5 268.2h0M97.1 264.3h0M108.0 241.1h0M95.4 272.0h0M90.6 259.7h0M89.4 248.0h0M96.2 265.7h0M119.8 262.7h0" stroke="#74c476" stroke-width="1.20" stroke-linecap="round" stroke-opacity="1.0" fill="none"/>
<path d="M100.7 228.1h0M106.9 224.7h0M103.8 228.3h0M106.1 227.6h0M105.1 223.3h0M105.0 229.6h0M109.4 232.1h0M103.7 231.1h0M105.8 230.4h0M104.6 227.8h0M102.3 230.0h0M104.6 227.3h0M110.0 230.1h0M110.6 229.4h0M111.1 224.4h0M111.9 227.5h0M111.2 230.3h0M112.3 225.1h0M107.6 226.7h0M104.6 232.5h0M109.4 225.0h0M110.5 230.1h0M105.7 225.3h0M109.8 231.5h0M101.7 225.1h0M106.1 227.2h0M103.9 221.9h0M108.0 222.5h0M107.5 231.5h0M110.2 226.6h0M103.3 226.6h0M108.1 229.0h0M105.6 227.4h0M103.5 225.5h0M107.3 229.6h0M102.4 222.8h0M100.5 225.9h0M104.0 225.8h0M102.0 228.5h0M101.4 225.4h0M108.2 224.9h0M107.1 229.5h0M105.5 228.7h0M101.1 229.0h0M109.2 222.3h0M108.2 230.3h0M103.1 228.6h0M103.4 227.1h0M101.7 224.6h0M109.7 223.7h0M102.7 223.7h0M106.4 231.3h0M106.7 221.3h0M108.2 223.6h0M102.9 224.8h0M104.5 227.9h0M101.4 227.3h0M105.9 227.7h0M108.6 225.2h0M101.5 226.9h0M109.3 230.6h0M109.4 223.2h0M101.9 225.1h0M102.9 226.3h0M112.1 229.0h0M104.9 225.2h0M107.0 225.7h0M107.4 225.9h0M108.4 227.0h0M109.8 226.4h0M103.3 224.2h0M101.0 228.4h0M108.1 222.2h0M108.0 221.4h0M106.9 229.1h0M105.4 232.4h0M100.9 225.8h0M110.2 230.1h0M106.7 226.5h0M102.5 226.3h0M108.1 221.5h0M103.2 226.5h0M110.2 230.0h0M106.5 227.2h0M106.4 232.0h0M112.8 226.1h0M103.9 225.8h0M101.3 225.5h0M105.7 222.2h0M103.2 223.0h0M112.2 227.7h0M108.6 231.8h0M107.5 224.2h0M102.3 223.2h0M109.2 225.4h0M111.0 224.4h0M110.9 229.3h0M105.4 232.2h0M112.7 226.2h0M100.3 225.9h0M102.7 229.8h0M106.2 227.4h0M101.7 224.3h0M106.2 231.6h0M108.4 231.3h0M109.4 226.6h0M108.7 228.6h0M105.6 229.3h0M109.6 231.0h0M107.7 232.3h0" stroke="#a1d99b" stroke-width="1.50" stroke-linecap="round" stroke-opacity="1.0" fill="none"/>
<path d="M126.5 218.7h0M130.5 218.7h0M127.4 217.2h0M129.6 217.4h0M128.4 219.4h0M130.0 216.9h0M125.9 220.6h0M130.3 221.0h0M128.9 223.2h0M130.8 219.9h0M129.7 219.5h0M128.4 222.9h0M129.5 218.2h0M132.2 220.0h0M127.6 220.9h0M125.9 219.7h0M126.0 219.1h0M130.4 221.4h0M128.5 217.9h0M129.4 221.7h0M130.6 220.0h0M127.9 218.4h0M130.6 220.6h0M131.8 221.1h0M127.6 218.8h0M127.8 219.8h0M129.5 222.3h0M126.3 221.5h0M132.3 220.8h0M130.1 219.0h0M127.9 220.9h0M130.0 220.6h0M126.7 221.8h0M129.3 218.1h0M126.9 219.5h0M127.7 218.7h0M129.9 216.7h0M126.6 221.4h0M130.4 222.7h0M127.6 219.7h0M127.5 221.0h0M126.5 221.1h0M130.4 218.3h0M128.3 219.9h0M127.4 221.2h0" stroke="#006d2c" stroke-width="1.80" stroke-linecap="round" stroke-opacity="1.0" fill="none"/>
<path d="M118.9 217.4h0M119.5 215.3h0M116.9 217.4h0M119.3 217.7h0M117.2 215.9h0M118.8 217.0h0M119.5 217.3h0M118.5 215.9h0M119.5 215.3h0M120.3 216.2h0M119.2 215.5h0M119.8 216.1h0" stroke="#006d2c" stroke-width="1.60" stroke-linecap="round" stroke-opacity="1.0" fill="none"/>
<path d="M111.0 213.8h0M109.5 214.0h0M111.2 209.1h0M110.7 214.2h0M111.6 211.3h0M110.8 207.3h0M109.5 215.7h0M109.9 208.7h0M109.7 204.0h0M111.5 211.3h0M112.2 206.5h0M113.4 205.0h0M109.8 213.3h0M108.5 214.2h0M110.0 215.8h0M109.5 211.5h0M111.5 208.3h0M111.3 207.3h0M110.0 212.6h0M111.6 212.8h0" stroke="#9e9ad0" stroke-width="1.50" stroke-linecap="round" stroke-opacity="1.0" fill="none"/>
<path d="M165.5 258.8h0M149.5 265.7h0M169.4 241.9h0M151.9 239.0h0M155.4 238.0h0M135.4 246.2h0M170.4 246.4h0M169.4 242.2h0M154.8 267.4h0M138.5 242.6h0M141.7 269.5h0M121.7 249.4h0M129.5 271.8h0M148.6 241.6h0M139.9 267.3h0M170.4 246.5h0M160.2 237.3h0M167.4 261.2h0M129.0 245.5h0M165.8 261.1h0M140.5 268.3h0M143.8 243.7h0M137.8 241.5h0M119.2 259.7h0M128.1 244.3h0M122.2 252.7h0M141.3 266.8h0M155.6 237.3h0M136.1 270.7h0M147.8 241.3h0M142.7 242.2h0M131.3 245.0h0M117.7 259.5h0M121.6 270.7h0M149.6 265.9h0M124.6 269.9h0M153.5 265.9h0M160.2 264.1h0M170.6 252.5h0M148.0 237.8h0M148.6 239.3h0M121.7 265.7h0M120.9 255.8h0M122.2 269.6h0M128.6 271.0h0M121.3 269.8h0M122.2 268.6h0M167.0 264.4h0M155.0 265.5h0M141.1 245.0h0M172.0 240.8h0M135.9 244.7h0M152.7 265.0h0M166.3 241.9h0M141.2 244.4h0M120.2 250.5h0M168.7 243.5h0M141.4 243.4h0M122.6 249.3h0M124.2 247.9h0M148.4 240.3h0M136.7 245.4h0M118.9 254.7h0M121.5 265.1h0M166.3 236.7h0M143.6 266.9h0M140.3 242.8h0M119.2 261.2h0M138.4 268.7h0M152.4 241.7h0M151.9 240.9h0M119.9 260.4h0M119.8 259.4h0M170.4 243.8h0M170.1 258.1h0M129.0 245.4h0M124.1 248.2h0M138.6 268.0h0M120.2 262.8h0M122.0 269.4h0M135.4 271.4h0M153.4 240.6h0M131.7 271.5h0M122.5 269.2h0M162.9 236.9h0M150.8 267.2h0M142.8 242.9h0M138.6 242.1h0M121.0 248.3h0M171.9 253.0h0M148.9 240.0h0M164.1 238.1h0M120.6 251.4h0M135.9 245.3h0M158.0 239.7h0M163.5 262.6h0M143.5 266.8h0M121.0 269.1h0M154.1 266.1h0M146.1 239.8h0M169.0 249.7h0M152.9 264.4h0M122.5 249.7h0M119.9 252.4h0M127.6 246.9h0M167.6 239.2h0M123.1 271.5h0M137.1 244.2h0M170.5 260.3h0M168.8 243.9h0M153.6 264.8h0M153.3 261.7h0M162.7 235.0h0M168.0 241.2h0M168.1 242.4h0M126.8 272.6h0M123.1 272.1h0M122.6 247.9h0M120.5 263.3h0M171.9 248.2h0M139.0 266.8h0M133.7 242.8h0M129.0 272.2h0M165.2 237.6h0M168.6 252.3h0M153.8 264.8h0M139.6 240.7h0M170.2 242.9h0M167.2 255.8h0M118.4 260.3h0M170.5 256.0h0M169.1 243.3h0M120.4 266.2h0M171.4 244.8h0M167.7 260.8h0M171.7 251.4h0M148.4 239.1h0M140.5 243.6h0M140.8 243.2h0M148.1 239.6h0M170.2 248.7h0M133.0 270.1h0M147.1 264.9h0M135.9 266.5h0M120.7 264.0h0M169.0 255.9h0M169.9 258.9h0M128.3 245.6h0M144.9 241.5h0M159.3 265.0h0M169.4 243.2h0M128.5 270.6h0M134.7 244.8h0M141.0 242.7h0M119.4 260.2h0M171.4 249.0h0M134.4 242.4h0M120.8 260.3h0M171.5 244.9h0M128.2 272.3h0M164.8 261.8h0M168.3 243.0h0M171.8 241.7h0M168.2 241.9h0M162.1 237.7h0M133.0 245.6h0M131.5 271.9h0M135.0 270.3h0M143.9 242.8h0M154.7 267.7h0M133.6 268.4h0M143.7 240.3h0M136.2 245.1h0M141.9 244.8h0M138.3 243.8h0M133.4 245.2h0M146.9 241.6h0M168.4 241.7h0M134.7 243.5h0M149.5 240.5h0M149.7 240.0h0M158.1 239.6h0M147.5 265.3h0M158.8 263.1h0M133.7 268.4h0M157.1 238.3h0M147.7 266.8h0M163.5 235.7h0M120.6 264.7h0M123.5 270.0h0M123.9 270.9h0M145.0 267.3h0M164.4 238.6h0M157.1 264.9h0M169.4 258.9h0M121.5 266.3h0M120.8 249.6h0M168.6 259.5h0M146.5 238.8h0M166.7 237.8h0M145.8 243.0h0M124.8 272.0h0M158.5 238.7h0M145.4 267.1h0M171.2 259.0h0M165.4 235.9h0M165.4 237.6h0M167.1 236.4h0M138.3 270.5h0M121.5 250.8h0M131.6 243.8h0M139.2 268.1h0M154.3 235.1h0M138.7 268.5h0M127.5 270.0h0M145.1 238.5h0M120.6 260.1h0M123.1 246.6h0M170.1 253.8h0M123.5 248.8h0M170.5 245.7h0M154.2 266.3h0M121.7 272.5h0M134.3 270.6h0M124.6 249.4h0M145.8 240.0h0M119.4 265.0h0M169.2 260.3h0M121.7 263.5h0M128.6 269.8h0M146.9 264.1h0M127.7 245.2h0M163.4 237.4h0M128.9 272.2h0M163.6 237.5h0M138.0 268.1h0M121.2 269.6h0M168.3 256.5h0M149.1 266.6h0M127.1 245.7h0M171.0 245.7h0M127.9 274.0h0M136.3 242.5h0M169.0 243.3h0M121.3 260.3h0M121.2 256.2h0M169.8 244.4h0M143.5 269.5h0M169.8 261.6h0M123.0 245.2h0M151.5 266.5h0M119.9 266.7h0M122.4 253.1h0M143.0 267.3h0M132.2 245.6h0M167.0 239.1h0M153.8 267.9h0M148.8 263.9h0M169.9 254.5h0M161.2 238.4h0M163.6 261.8h0M148.8 264.5h0M164.5 237.7h0M130.2 241.1h0M166.0 236.2h0M127.3 248.0h0M121.0 268.4h0M141.4 265.2h0M134.3 272.5h0M169.2 254.8h0M161.6 263.7h0M163.4 262.7h0M122.1 249.6h0M169.3 241.8h0M136.4 245.6h0M143.0 241.8h0M126.6 247.1h0M120.6 249.4h0M150.6 266.7h0M159.9 265.0h0M170.0 239.0h0M145.6 266.9h0M158.3 237.1h0M144.4 269.1h0M139.8 270.7h0M120.6 258.9h0M162.4 260.6h0M147.1 267.2h0M144.5 267.4h0M124.8 246.2h0M155.4 267.7h0M149.1 240.5h0M160.5 264.3h0M145.3 266.4h0M119.9 266.4h0M165.5 240.4h0M169.1 239.6h0M142.8 266.6h0M155.7 236.9h0M134.7 244.3h0M167.6 245.1h0M148.1 266.1h0M156.0 265.1h0M170.4 250.2h0M168.3 238.0h0M120.2 253.8h0M119.4 266.2h0M174.0 249.7h0M155.5 238.6h0M119.8 267.1h0M135.7 271.4h0M123.8 272.0h0M173.5 256.9h0M166.5 260.1h0M169.1 243.7h0M123.0 271.3h0M161.2 261.2h0M120.3 263.2h0M132.4 246.6h0M167.6 242.9h0M172.3 250.6h0M144.5 266.9h0M168.4 262.8h0M144.3 241.3h0M124.6 245.5h0M147.0 267.9h0M120.2 258.5h0M120.0 257.8h0M174.0 250.4h0M119.7 264.8h0M150.3 267.4h0M120.5 257.6h0M138.3 270.5h0M119.4 252.3h0M139.7 268.4h0M121.0 266.3h0M141.8 241.8h0M171.4 242.7h0M169.2 240.6h0M162.5 237.3h0M124.7 273.6h0M130.0 243.4h0M130.6 271.3h0M153.3 265.2h0M170.3 244.7h0M147.1 242.2h0M154.9 237.0h0M172.3 246.9h0M141.7 243.6h0M143.3 265.1h0M124.9 271.0h0M126.0 247.4h0M144.3 266.2h0M158.1 263.4h0M171.1 244.6h0M128.0 244.3h0M169.0 257.6h0M157.5 264.6h0M161.8 262.4h0M155.6 235.4h0M144.5 268.1h0M168.3 260.8h0M120.9 258.9h0M120.7 263.5h0M163.2 235.4h0M119.7 264.2h0M140.4 246.2h0M169.8 255.4h0M152.4 237.6h0M153.6 240.0h0M157.7 264.7h0M155.8 236.0h0M162.8 262.7h0M149.3 266.1h0M165.3 262.3h0M170.6 255.8h0M120.6 254.5h0M129.3 270.1h0M158.2 240.3h0M132.5 272.4h0M121.1 270.3h0M124.7 247.6h0M122.1 250.3h0M138.6 243.5h0M122.3 261.5h0M145.5 266.8h0M143.0 243.6h0M126.1 270.3h0M131.9 273.4h0M154.2 240.0h0M128.9 244.2h0M136.5 269.6h0M149.7 266.7h0M170.7 248.0h0M144.0 242.0h0M163.6 239.5h0M132.1 271.6h0M154.6 266.1h0M122.2 249.1h0M143.3 265.7h0M120.5 269.7h0M161.9 238.3h0M120.9 265.5h0M133.5 243.3h0M133.9 269.3h0M149.7 266.2h0M164.2 263.5h0M150.4 239.3h0M130.6 247.1h0M138.2 269.6h0M157.1 237.7h0M162.7 262.7h0M168.2 260.9h0M130.3 268.8h0M118.9 268.4h0M159.7 263.5h0M120.3 260.7h0M156.1 237.6h0M141.9 269.9h0M149.5 242.2h0M149.9 266.2h0M146.6 266.2h0M161.5 262.3h0M158.6 237.7h0M134.3 270.9h0M125.4 246.5h0M165.4 263.4h0M144.3 266.9h0M125.2 247.0h0M173.4 249.2h0M169.9 255.3h0M149.9 240.1h0M156.4 266.5h0M122.6 271.2h0M152.2 238.2h0M121.5 263.6h0M147.4 241.5h0M148.6 267.6h0M121.9 258.0h0M159.5 236.8h0" stroke="#9cc8e0" stroke-width="1.50" stroke-linecap="round" stroke-opacity="1.0" fill="none"/>
<path d="M122.9 268.3h0M122.6 269.3h0M125.8 251.0h0M126.4 270.5h0M129.7 258.3h0M120.5 248.2h0M124.6 268.3h0M136.9 265.7h0M126.8 269.0h0M135.3 265.0h0M131.1 266.0h0M137.3 261.1h0M126.9 259.7h0M127.1 258.9h0M118.8 254.0h0M119.6 252.2h0M118.9 265.6h0M124.7 245.6h0M118.2 263.2h0M126.3 260.3h0M136.3 256.4h0M138.3 266.9h0M132.1 258.7h0M119.8 261.9h0M124.5 248.5h0M133.2 266.6h0M123.4 261.5h0M127.0 258.1h0M134.1 249.7h0M121.3 253.7h0M138.1 259.9h0M137.5 263.2h0M126.3 255.0h0M128.3 246.9h0M125.0 259.6h0M138.3 268.3h0M129.0 271.6h0M127.7 273.3h0M129.6 272.9h0M134.1 254.1h0M119.9 247.5h0M118.0 256.1h0M133.6 252.4h0M133.2 269.4h0M119.0 251.8h0M130.1 264.8h0M127.6 259.8h0M127.3 255.4h0M120.0 266.9h0M125.1 245.7h0M135.0 268.3h0M134.4 251.3h0M119.1 261.7h0M126.2 263.7h0M130.1 253.2h0M119.8 250.1h0M131.3 270.2h0M135.3 250.6h0M121.6 263.0h0M137.3 256.5h0M132.7 245.1h0M128.6 261.9h0M133.7 269.2h0M120.0 257.4h0M134.4 252.1h0M120.9 254.9h0M127.1 273.4h0M132.5 248.8h0M123.2 247.2h0M128.7 254.7h0M128.3 270.1h0M124.0 261.7h0M134.4 245.7h0M130.4 252.6h0M122.9 269.6h0M123.3 257.1h0M120.0 257.9h0M122.2 270.8h0M133.5 257.1h0M117.1 262.1h0M121.1 266.5h0M128.6 268.4h0M120.1 259.1h0M134.2 266.8h0M121.8 272.3h0M131.0 260.0h0M126.6 256.5h0M131.4 264.2h0M134.9 270.7h0M127.3 247.1h0M132.9 250.1h0M121.6 259.6h0M124.3 257.0h0M137.1 265.1h0M125.8 254.2h0M125.8 264.3h0M122.8 246.9h0M122.0 250.9h0M131.7 256.6h0M126.9 261.4h0M138.2 265.8h0M126.8 245.9h0M136.9 268.2h0M131.2 261.8h0M126.8 264.7h0M136.1 250.3h0M123.3 257.4h0M130.2 246.8h0M128.4 269.7h0M131.6 263.0h0M133.8 269.6h0M121.3 262.6h0M129.9 259.7h0M137.5 249.6h0M124.9 255.9h0M133.0 251.8h0M137.0 269.4h0M138.0 257.9h0M138.3 267.6h0M138.1 255.0h0M137.0 248.2h0M136.7 259.2h0M123.4 253.8h0M131.1 251.8h0M133.8 246.6h0M124.8 257.1h0M135.7 270.8h0M118.7 258.8h0M119.1 251.1h0M132.1 255.3h0M121.3 249.0h0M131.0 244.4h0M119.3 260.4h0M123.7 263.4h0M134.0 265.6h0M119.1 265.6h0M122.6 256.8h0M128.1 255.6h0M128.1 272.9h0M121.6 252.4h0M129.4 260.7h0M139.1 250.2h0M123.8 250.0h0M134.6 260.5h0M123.5 262.3h0M136.9 262.8h0M130.5 270.8h0M129.2 246.2h0M126.7 250.1h0M130.7 254.9h0M135.1 247.6h0M126.1 259.6h0M122.8 256.2h0M132.7 272.4h0M132.3 264.8h0M127.4 258.7h0M117.7 264.5h0M128.2 257.4h0M126.3 268.6h0M124.5 250.1h0M134.1 256.5h0M121.3 263.1h0M130.5 243.9h0M125.3 260.3h0M127.5 270.7h0M131.7 261.1h0M124.2 259.0h0M119.5 266.3h0M129.3 257.2h0M117.3 256.5h0M133.2 252.7h0M125.4 265.3h0M121.5 259.3h0M131.4 260.5h0M122.3 249.0h0M123.9 255.9h0M132.1 251.1h0M122.4 258.9h0M130.1 271.0h0M130.5 258.3h0M132.7 271.6h0M128.9 250.9h0M128.7 259.9h0M133.5 245.9h0M120.7 255.0h0M128.3 249.1h0M124.1 270.1h0M124.9 270.2h0M121.1 260.2h0M123.4 253.9h0M122.8 254.0h0M127.0 250.1h0M130.4 254.5h0M128.7 263.7h0M122.2 261.2h0M119.5 261.3h0M126.4 261.6h0M132.5 271.7h0M122.2 259.2h0M131.6 256.0h0M128.1 270.0h0M124.6 270.1h0M130.4 248.7h0M126.5 270.2h0M129.4 247.0h0M136.4 262.3h0M131.3 252.0h0M127.6 256.3h0M123.8 263.4h0M121.3 265.9h0M136.8 268.0h0M124.1 272.6h0M118.2 261.8h0M127.7 272.5h0M127.7 268.0h0M123.3 271.8h0M132.1 249.7h0M124.5 254.3h0M130.3 257.2h0M133.9 246.2h0M136.8 265.2h0M130.3 266.0h0M128.5 263.6h0M129.9 271.5h0M137.2 260.8h0M117.3 258.9h0M128.4 255.8h0M127.5 257.5h0M121.1 271.4h0M120.3 257.8h0M123.2 252.0h0M119.5 257.6h0M118.6 257.2h0M133.5 246.1h0M137.1 246.8h0M125.5 249.3h0M131.5 265.0h0M123.6 253.2h0M128.3 263.9h0M130.0 249.3h0M127.2 270.2h0M122.5 251.7h0M127.9 269.6h0M131.8 268.2h0M134.8 255.7h0M130.8 254.5h0M127.5 250.2h0M119.9 251.2h0M130.3 269.6h0M120.7 266.2h0M130.1 263.6h0M130.2 271.5h0M127.3 247.0h0M127.2 247.5h0M125.1 255.0h0M129.5 243.8h0M135.7 248.9h0M119.8 258.7h0M128.9 264.8h0M127.4 266.6h0M130.8 270.1h0M120.1 252.1h0M122.3 267.5h0M132.2 250.7h0M127.0 260.4h0M132.2 250.1h0M117.9 264.4h0M128.4 256.5h0M135.3 259.6h0M124.4 267.0h0M119.5 260.0h0M131.5 269.4h0M124.6 261.9h0M133.7 261.3h0M134.7 261.2h0M132.1 271.0h0M128.2 245.9h0M134.3 264.5h0M128.8 273.7h0M139.0 260.0h0M124.8 262.7h0M118.6 255.2h0M133.1 247.2h0M126.5 255.3h0M119.1 259.2h0M131.2 257.0h0M122.3 254.9h0M122.4 265.4h0M137.6 251.0h0M121.3 249.6h0M125.1 244.7h0M133.2 260.8h0M139.0 258.0h0M133.9 260.4h0M130.1 244.5h0M136.6 261.4h0M117.4 258.2h0M119.5 259.1h0M120.4 254.3h0M125.1 269.0h0" stroke="#a4cde4" stroke-width="1.50" stroke-linecap="round" stroke-opacity="1.0" fill="none"/>
<path d="M149.7 237.6h0M113.5 255.6h0M134.4 232.8h0M158.7 231.9h0M101.5 270.4h0M170.6 256.5h0M163.6 240.5h0M159.9 234.2h0M171.9 269.9h0M164.3 277.4h0M127.9 267.2h0M157.3 237.6h0M143.5 244.0h0M159.1 267.7h0M97.9 261.5h0M118.8 255.5h0M161.3 241.8h0M107.1 232.6h0M95.7 242.8h0M146.2 232.6h0M155.8 245.0h0M108.4 274.8h0M141.9 230.0h0M113.6 273.4h0M161.7 267.1h0M130.8 263.4h0M167.0 255.3h0M140.1 234.1h0M163.0 238.9h0M112.5 238.3h0M144.0 269.6h0M99.8 256.4h0M141.9 269.4h0M92.9 243.8h0M97.4 250.9h0M93.0 270.1h0M160.6 275.9h0M136.5 278.4h0M98.0 259.8h0M139.6 244.3h0M110.6 241.1h0M165.1 239.5h0M168.2 248.2h0M151.0 276.6h0M104.0 239.5h0M147.4 260.4h0M151.5 270.7h0M106.0 235.6h0M146.8 276.2h0M173.8 238.5h0M156.7 244.4h0M109.2 271.9h0M95.7 231.1h0M147.3 274.2h0M177.5 273.4h0M96.1 263.1h0M179.3 265.9h0M159.1 258.6h0M162.7 275.7h0M98.2 261.0h0M119.1 242.7h0M168.0 274.2h0M141.4 244.8h0M115.1 270.6h0M172.2 241.8h0M153.4 264.4h0M117.2 244.7h0M134.5 249.1h0M158.0 254.4h0M115.7 279.4h0M170.7 262.3h0M138.9 270.7h0M112.0 271.2h0M168.1 267.2h0M151.8 278.5h0M155.0 232.9h0M87.2 238.9h0M118.9 247.9h0M113.9 279.3h0M103.1 266.3h0" stroke="#b0d8c0" stroke-width="1.00" stroke-linecap="round" stroke-opacity="1.0" fill="none"/>
<path d="M196.5 435.8h0M211.2 400.4h0M186.8 407.9h0M191.2 426.1h0M176.1 446.2h0M204.1 403.0h0M205.3 402.6h0M195.2 401.1h0M190.5 432.5h0M171.3 447.2h0M211.3 410.7h0M177.1 427.7h0M160.0 431.9h0M179.3 411.3h0M206.7 421.2h0M178.4 421.2h0M160.3 438.7h0M181.4 426.0h0M170.7 447.0h0M171.3 436.9h0M180.3 414.6h0M190.4 438.1h0M166.7 437.0h0M179.6 446.5h0M190.9 411.3h0M183.9 407.5h0M193.7 440.6h0M185.5 417.8h0M163.5 445.0h0M208.3 401.5h0M196.2 438.5h0M165.8 418.2h0M168.5 441.0h0M176.9 419.0h0M216.0 420.2h0M187.9 435.0h0M187.9 410.1h0M188.5 413.1h0M181.0 438.0h0M204.7 432.5h0M197.8 436.9h0M180.6 433.9h0M176.4 420.6h0M204.5 433.1h0M197.3 426.8h0M174.1 432.1h0M186.7 440.8h0M196.5 438.6h0M180.1 430.8h0M202.0 440.3h0M179.9 441.7h0M209.8 433.2h0M190.4 423.8h0M169.9 440.6h0M213.7 421.2h0M200.2 434.1h0M201.9 403.9h0M205.0 426.5h0M198.3 418.1h0M195.7 437.2h0M197.2 434.5h0M184.6 430.8h0M172.9 433.2h0M187.5 406.8h0M186.9 415.6h0M195.9 427.5h0M173.0 445.4h0M176.0 417.1h0M166.4 441.3h0M191.4 413.3h0M207.2 418.0h0M206.4 430.4h0M194.5 425.8h0M195.7 414.5h0M166.0 426.5h0M195.2 402.7h0M182.1 418.2h0M216.4 415.7h0M194.2 408.2h0M183.8 412.4h0M176.8 421.1h0M167.1 428.8h0M185.3 410.6h0M205.0 440.3h0M175.2 447.3h0M205.0 408.0h0M216.6 410.1h0M195.4 420.9h0M197.5 427.8h0M202.7 400.8h0M203.7 411.5h0M191.2 412.7h0M177.5 423.9h0M187.1 414.6h0M202.9 427.5h0M212.0 425.3h0M160.9 437.8h0M185.6 427.1h0M201.0 430.0h0M182.2 416.4h0M209.6 405.2h0M177.1 440.7h0M163.5 441.3h0M200.3 417.6h0M176.8 437.8h0M212.9 402.6h0M188.2 425.3h0M188.4 413.5h0M168.6 427.7h0M206.5 397.9h0M172.8 440.3h0M205.9 431.9h0M160.8 434.7h0M208.3 406.9h0M201.2 402.1h0M176.9 446.6h0M168.7 428.8h0M193.5 436.1h0M210.4 401.5h0M185.5 412.4h0M194.5 421.9h0M213.5 415.6h0M163.1 432.5h0M168.3 429.6h0M191.8 429.1h0M174.8 424.5h0M175.2 436.0h0M173.0 414.4h0M202.4 404.6h0M201.6 431.8h0M164.6 431.7h0M194.8 407.4h0M210.8 421.9h0M178.2 438.6h0M161.9 434.7h0M207.2 402.4h0M196.2 414.6h0M173.2 412.9h0M195.5 413.9h0M207.2 430.2h0M206.6 417.7h0M208.5 422.9h0M194.0 426.7h0M202.9 416.2h0M210.9 420.8h0M187.6 444.4h0M195.9 417.4h0M180.8 416.2h0M211.6 402.8h0M173.2 420.6h0M199.1 432.2h0M166.8 431.5h0M177.0 432.7h0M202.3 403.0h0M180.5 411.5h0M186.7 410.7h0M202.1 435.2h0M197.0 418.4h0M163.6 438.0h0M190.0 413.8h0M211.8 421.8h0M214.5 397.8h0M174.6 417.7h0M170.3 422.8h0M183.4 424.0h0M166.6 424.5h0M213.2 427.9h0M209.2 405.8h0M188.2 426.7h0M181.6 429.0h0M177.4 419.3h0M207.6 406.6h0M165.8 437.2h0M206.9 411.5h0M184.1 427.0h0M183.7 411.4h0M203.0 425.6h0M211.7 430.7h0M203.6 426.7h0M185.7 440.9h0M201.7 434.2h0M176.2 440.2h0M174.4 432.3h0M204.5 425.8h0M195.4 406.8h0M185.0 414.7h0M193.8 440.0h0M202.2 399.5h0M190.8 403.5h0M201.6 419.6h0M213.0 419.7h0M184.8 418.3h0M207.1 417.5h0M161.7 425.7h0M187.9 443.3h0M191.5 414.9h0M204.0 407.6h0M179.4 408.0h0M209.4 428.6h0M208.3 422.1h0M165.8 434.8h0M211.5 405.1h0M205.5 411.7h0M196.2 439.1h0M189.8 427.0h0M170.2 416.5h0M178.4 415.6h0M187.6 433.0h0M199.7 432.4h0M191.0 439.1h0M181.4 428.1h0M198.8 423.3h0M193.6 436.5h0M201.4 411.6h0M213.6 408.9h0M201.2 398.1h0M203.6 431.8h0M199.5 442.1h0M203.2 428.3h0M171.5 423.6h0M211.4 407.1h0M212.6 428.2h0M199.4 425.2h0M201.3 414.9h0M211.6 406.3h0M170.4 430.0h0M204.4 407.1h0M163.5 426.4h0M201.8 417.4h0M183.5 423.6h0M212.4 411.3h0M176.2 428.4h0M216.8 404.7h0M192.5 428.1h0M194.5 430.1h0M200.0 436.0h0M178.7 442.4h0M172.9 432.8h0M208.5 421.2h0M168.5 428.5h0M165.4 436.4h0M203.1 440.3h0M206.8 434.2h0M181.2 419.8h0M199.4 435.8h0M191.7 415.5h0M166.2 427.9h0M181.8 433.5h0M214.1 398.0h0M203.8 434.6h0M188.3 413.6h0M182.0 410.9h0M189.4 433.5h0M206.0 426.4h0M177.5 413.0h0M209.4 422.8h0M174.0 431.4h0M165.3 421.0h0M204.3 414.3h0M185.9 415.4h0M185.7 421.0h0M182.6 438.0h0M184.7 427.8h0M211.9 429.8h0M162.0 437.2h0M183.8 443.9h0M168.2 437.5h0M184.5 409.6h0M186.8 410.0h0M198.8 400.8h0M169.6 419.7h0M195.4 401.1h0M173.9 445.9h0M171.2 417.2h0M175.4 436.7h0M180.8 436.8h0M169.4 423.4h0M196.9 414.8h0M181.5 421.4h0M173.6 426.1h0M175.6 424.4h0M202.5 402.0h0M186.9 433.3h0M161.2 437.5h0M184.5 422.6h0M195.6 439.3h0M177.8 419.8h0M180.9 423.6h0M214.5 398.1h0M185.8 435.0h0M190.0 415.8h0M213.6 411.0h0M191.6 440.5h0M187.7 426.2h0M171.4 420.1h0M216.1 408.2h0M175.9 438.8h0M202.2 408.9h0M208.0 429.5h0M182.4 430.2h0M210.6 418.4h0M211.4 403.7h0M202.3 425.6h0M207.0 422.8h0M210.4 396.1h0M194.5 401.2h0M201.0 428.7h0M194.8 406.2h0M214.9 400.1h0M163.8 432.4h0M186.8 430.8h0M163.2 430.3h0M207.7 400.3h0M203.7 409.0h0M203.2 422.9h0M211.9 419.9h0M175.7 447.9h0M184.5 429.0h0M197.5 403.8h0M167.7 421.2h0M199.6 419.4h0M188.4 424.9h0M211.2 425.2h0M198.4 418.2h0M174.8 414.3h0M211.4 409.1h0M196.3 430.3h0M215.5 400.5h0M204.4 412.6h0M165.5 429.7h0M209.0 426.8h0M182.8 429.8h0M201.9 408.6h0M184.1 412.6h0M200.9 416.9h0M209.2 397.9h0M212.7 422.5h0M166.2 417.9h0M192.5 410.1h0M166.7 422.5h0M204.6 400.7h0M184.8 408.6h0M185.0 405.8h0M182.2 429.4h0M212.8 412.6h0M206.9 424.0h0M214.0 420.4h0M193.2 422.6h0M176.5 436.2h0M174.7 421.7h0M203.3 428.4h0M199.1 434.9h0M165.5 418.4h0M196.2 442.0h0M169.6 433.2h0M165.7 426.6h0M174.7 414.0h0M163.2 434.7h0M166.6 437.7h0M179.1 427.3h0M197.4 422.2h0M176.3 413.3h0M210.8 401.1h0M183.9 417.5h0M198.3 436.6h0M214.2 411.3h0M209.1 431.0h0M184.4 441.7h0M199.0 412.4h0M201.6 422.5h0M201.6 428.5h0M206.2 403.0h0M206.1 437.1h0M207.8 396.2h0M190.9 421.1h0M174.5 441.0h0M197.1 416.1h0M196.4 407.2h0M197.8 426.5h0M202.7 422.3h0M185.3 411.2h0M202.8 414.8h0M195.1 437.7h0M185.8 433.3h0M208.5 402.5h0M204.4 399.2h0M186.8 418.4h0M206.2 420.7h0M206.2 437.4h0M195.9 441.1h0M195.2 434.9h0M208.7 428.9h0M177.2 435.2h0M199.5 406.0h0M183.5 419.7h0M185.9 436.8h0M199.2 437.2h0M205.4 417.1h0M197.0 431.3h0M185.2 405.1h0M199.5 437.5h0M171.1 424.4h0M208.6 414.8h0M165.8 428.0h0M168.0 418.1h0M207.9 413.2h0M213.3 398.1h0M163.3 428.0h0M204.3 421.1h0M206.8 419.6h0M212.6 428.3h0M190.7 404.6h0M185.2 418.7h0M206.5 406.7h0M176.8 439.9h0M164.1 424.5h0M172.9 431.8h0M201.9 416.8h0M178.8 442.6h0M204.1 411.7h0M199.6 400.5h0M189.5 421.3h0M175.9 419.9h0M163.7 432.0h0M213.4 410.4h0M214.6 398.7h0M199.4 419.8h0M166.0 442.7h0M179.3 432.4h0M186.1 443.7h0M207.1 422.9h0M179.9 422.9h0M208.9 426.2h0M186.2 431.4h0M195.2 417.4h0M185.0 443.7h0M177.9 414.1h0M194.9 427.6h0M170.4 419.5h0M165.8 436.2h0M212.3 398.6h0M165.0 429.1h0M176.5 431.3h0M200.0 422.7h0M195.3 441.4h0M170.4 420.8h0M178.4 429.7h0M166.8 443.4h0M181.3 438.3h0M182.2 442.3h0M202.9 436.0h0M186.3 410.1h0M169.5 416.4h0M214.3 416.9h0M174.6 428.8h0M185.5 428.9h0M185.8 410.7h0M162.5 440.1h0M196.8 408.3h0M189.2 426.6h0M204.4 411.4h0M179.9 428.9h0M169.2 446.3h0M174.9 423.3h0M172.2 419.3h0M205.6 408.0h0M200.5 422.0h0M202.2 435.3h0M212.8 425.5h0M182.5 426.0h0M175.0 419.5h0M174.1 415.0h0M215.4 421.7h0M208.6 436.7h0M193.4 412.0h0M183.0 411.9h0M196.9 443.1h0M206.0 411.0h0M193.8 406.7h0M198.2 427.6h0M176.8 435.7h0M171.8 445.5h0M166.8 427.2h0M200.9 435.0h0M187.5 443.7h0M196.2 433.1h0M186.8 424.7h0M165.1 435.8h0M179.6 421.1h0M189.9 440.9h0M177.2 425.9h0M194.9 430.9h0M177.4 409.4h0M187.0 427.9h0M197.7 401.8h0M185.8 425.1h0M189.3 410.6h0M168.3 417.1h0M212.5 398.7h0M180.2 433.3h0M211.2 418.8h0M175.0 421.6h0M197.8 434.8h0M187.7 423.7h0M189.0 431.3h0M178.5 432.4h0M181.3 429.2h0M195.1 431.8h0M201.2 433.9h0M172.6 429.1h0M204.3 406.7h0M189.2 422.9h0M201.1 437.2h0M186.1 426.1h0M217.4 412.0h0M164.6 437.8h0M198.0 424.3h0M168.1 421.6h0M196.2 432.8h0M207.4 397.9h0M184.4 446.2h0M178.6 437.0h0M191.1 431.8h0M196.8 442.9h0M188.2 421.6h0M198.2 426.0h0M178.6 422.2h0M212.8 409.8h0M177.2 439.9h0M173.4 431.4h0M188.2 412.7h0M174.9 414.0h0M180.4 409.0h0M177.1 431.0h0M189.3 408.9h0M167.7 438.2h0M166.4 418.7h0M203.8 425.6h0M210.6 411.9h0M212.1 417.4h0M202.6 440.1h0M213.1 402.7h0M185.2 423.8h0M186.4 410.4h0M215.2 421.3h0M177.9 438.0h0M174.1 417.7h0M190.1 430.9h0M198.3 423.5h0M199.3 412.7h0M189.0 405.8h0M209.1 421.3h0M211.9 426.2h0M177.1 434.8h0M162.5 444.7h0M208.4 427.7h0M163.0 423.6h0M170.2 418.4h0M188.9 437.9h0M167.6 448.2h0M209.9 421.1h0M212.0 410.9h0M217.0 413.0h0M180.4 413.4h0M189.6 415.0h0M176.0 417.6h0M161.5 443.5h0M202.7 436.7h0M195.5 420.6h0M202.3 418.4h0M180.0 417.5h0M175.7 438.0h0M187.9 403.6h0M172.4 430.0h0M179.6 410.8h0M177.5 428.7h0M188.6 421.7h0M198.9 421.2h0M214.8 418.7h0M194.8 427.7h0M206.2 434.2h0M170.8 417.9h0M199.6 412.3h0M161.7 432.2h0M181.0 418.6h0M200.9 406.2h0M193.2 429.9h0M176.6 443.7h0M194.9 433.5h0M167.9 441.9h0M176.1 428.6h0M202.2 411.9h0M175.3 413.6h0M187.2 426.1h0M197.4 408.6h0M193.8 428.0h0M188.6 417.6h0M186.9 415.0h0M204.8 427.0h0M166.6 448.1h0M190.5 436.4h0M190.6 427.2h0M167.8 435.1h0M206.8 436.2h0M204.2 415.7h0M167.4 437.2h0M172.3 430.9h0M199.8 409.6h0M205.7 427.2h0M216.8 406.6h0M202.4 418.4h0M194.0 410.5h0M173.1 425.2h0M194.7 422.1h0M197.2 429.3h0M183.4 408.9h0M199.2 415.6h0M180.1 432.5h0M198.0 422.0h0M206.9 411.9h0M180.3 436.4h0M198.9 418.3h0M211.7 395.2h0M190.8 442.7h0M210.4 405.0h0M207.1 424.2h0M214.3 412.3h0M197.5 430.5h0M218.1 412.9h0M199.4 397.7h0M208.7 402.5h0M171.1 447.0h0M188.8 436.4h0M171.2 446.4h0M210.6 432.9h0M174.7 435.6h0M212.9 427.5h0M173.1 428.1h0M174.4 422.4h0M164.3 426.3h0M199.1 411.4h0M193.5 423.2h0M205.6 425.7h0M196.8 425.0h0M207.4 399.3h0M166.8 443.7h0M208.8 394.9h0M211.5 428.2h0M209.9 433.2h0M204.2 434.5h0M186.8 408.8h0M186.0 405.5h0M201.8 416.6h0M188.1 432.5h0M175.4 427.7h0M191.0 418.2h0M211.5 401.9h0M212.8 409.0h0M181.1 441.5h0M169.9 418.2h0M198.6 424.1h0M189.1 408.4h0M204.4 409.4h0M214.0 407.5h0M212.8 420.1h0M210.4 420.2h0M191.6 409.4h0M203.9 414.9h0M175.6 417.6h0M182.5 426.6h0M200.1 433.0h0M205.9 419.0h0M190.9 427.6h0M177.1 431.8h0M208.2 425.8h0M168.4 436.7h0M195.7 401.5h0M207.8 430.8h0M202.1 409.1h0M184.1 415.6h0M182.2 446.0h0M185.1 438.7h0M171.8 426.8h0M205.0 406.8h0M174.3 415.5h0M186.3 417.4h0M176.0 412.9h0M189.6 403.3h0M212.5 427.4h0M181.4 424.5h0M192.7 403.9h0M191.5 421.8h0M171.6 418.8h0M209.3 429.8h0M196.8 424.3h0M176.9 420.1h0M183.9 429.9h0M211.4 415.5h0M191.3 425.0h0M198.4 407.4h0M173.8 445.8h0M168.7 432.1h0M174.4 422.1h0M186.1 406.9h0M169.7 448.5h0M202.4 414.9h0M171.1 438.1h0M216.4 405.7h0M200.8 415.9h0M212.0 431.9h0M167.5 418.9h0M200.6 402.2h0M165.7 449.5h0M163.0 433.1h0M201.5 419.5h0M168.1 447.2h0M199.1 418.3h0M186.5 407.3h0M203.7 437.6h0M201.3 417.8h0M188.1 416.9h0M187.0 411.9h0M206.4 401.9h0M198.5 440.6h0M179.7 443.9h0M214.5 398.9h0M195.3 415.1h0M186.7 425.1h0M210.4 430.0h0M211.4 408.1h0M205.6 415.9h0M170.8 439.5h0M193.1 406.6h0M211.3 422.0h0M178.0 424.7h0M190.9 409.8h0M200.2 408.9h0M200.0 429.2h0M180.8 431.9h0M181.8 437.9h0M181.6 440.7h0M183.9 407.4h0M172.0 417.2h0M194.5 410.7h0M199.0 409.2h0M204.0 412.9h0M209.9 417.7h0M200.5 436.4h0M200.2 436.5h0M177.6 419.3h0M209.5 402.9h0M179.4 434.1h0M186.0 430.6h0M190.0 415.0h0M205.7 423.1h0M203.9 436.4h0M168.0 440.5h0M203.2 439.8h0M177.9 415.8h0M203.5 410.0h0M167.3 447.3h0M212.9 426.4h0M208.3 421.4h0M208.7 427.7h0M204.6 428.2h0M203.2 424.0h0M213.3 423.7h0M161.5 430.0h0M188.8 419.6h0M196.7 429.3h0M201.4 434.9h0M171.3 421.3h0M214.7 407.0h0M170.1 430.6h0M200.4 414.1h0M194.6 403.6h0M198.9 438.2h0M205.4 425.5h0M175.9 416.9h0M192.1 432.9h0M209.9 429.2h0M184.7 415.7h0M168.9 440.0h0M197.3 412.3h0M200.3 409.6h0M202.7 425.0h0M203.9 410.6h0M202.7 400.1h0M191.6 413.4h0M187.1 409.9h0M162.9 444.7h0M184.6 422.3h0M163.2 424.8h0M201.4 441.8h0M170.1 416.5h0M215.5 411.6h0M210.3 413.2h0M195.2 405.1h0M187.5 412.2h0M187.2 428.6h0" stroke="#0b7a7c" stroke-width="1.50" stroke-linecap="round" stroke-opacity="1.0" fill="none"/>
<path d="M168.0 448.1h0M177.3 446.6h0M206.7 438.7h0M194.3 441.5h0M162.8 437.6h0M164.5 433.3h0M179.8 445.6h0M173.9 447.0h0M168.1 418.0h0M203.8 441.5h0M176.5 445.8h0M166.0 418.3h0M163.0 428.4h0M177.7 445.7h0M162.1 429.8h0M176.9 448.1h0M176.5 447.0h0M182.4 445.6h0M164.7 445.9h0M163.5 426.8h0M197.8 442.3h0M194.6 442.3h0M185.9 443.5h0M167.1 418.5h0M177.3 446.4h0M166.0 417.1h0M165.0 423.3h0M162.6 426.4h0M162.2 433.9h0M164.6 424.5h0M181.6 444.1h0M165.1 428.2h0M178.6 446.7h0M195.2 444.6h0M161.4 429.3h0M202.6 440.3h0M186.0 445.2h0M166.4 449.2h0M164.8 428.4h0M163.6 428.3h0M187.9 443.8h0M166.0 448.3h0M163.5 434.4h0M163.4 436.1h0M179.6 444.0h0M162.9 431.1h0M189.0 442.8h0M205.3 437.6h0M162.0 439.4h0M206.7 439.0h0M162.7 437.7h0M161.4 440.5h0M184.3 444.3h0M197.6 442.4h0M181.4 445.4h0M186.0 445.1h0M162.2 424.2h0M165.3 449.5h0M199.2 441.1h0M162.9 434.5h0M177.0 445.7h0M163.0 427.7h0M163.7 441.5h0M186.6 442.0h0M177.2 446.2h0M173.3 447.8h0M165.0 440.8h0M165.9 449.4h0M171.5 447.6h0M182.9 445.7h0M167.6 448.4h0M192.1 443.8h0M166.3 420.7h0M162.1 435.6h0M161.9 438.7h0M176.4 447.1h0M190.4 443.3h0M167.5 420.6h0M165.8 446.0h0M199.9 441.2h0M194.5 442.3h0M190.7 443.3h0M187.7 442.6h0M177.2 445.6h0M163.2 441.9h0M192.5 442.3h0M162.2 429.9h0M165.4 449.0h0M163.9 445.7h0M206.4 437.2h0M161.6 433.2h0M160.9 433.8h0M175.8 446.1h0M162.0 437.0h0M164.8 447.8h0M205.1 441.3h0M199.5 441.8h0M162.7 433.4h0M178.0 445.4h0M170.6 446.2h0M183.4 444.4h0M163.4 425.1h0M184.9 442.7h0M183.6 445.3h0M180.5 445.2h0M162.9 443.0h0M205.8 440.6h0M163.7 423.3h0M167.4 449.1h0M176.2 447.5h0M161.9 427.3h0M163.9 448.6h0M159.5 433.3h0M162.6 444.3h0M169.8 445.9h0M160.9 433.7h0M166.0 448.2h0M162.7 438.2h0M162.5 442.0h0M178.3 446.3h0M178.6 444.9h0M164.7 419.1h0M174.0 446.0h0M164.0 446.3h0M186.7 443.5h0M163.2 438.1h0M173.8 448.5h0M203.2 439.2h0M162.7 431.4h0M198.3 441.8h0M184.5 444.7h0M162.7 438.7h0M160.2 429.1h0M188.5 442.6h0M161.7 434.4h0M162.8 438.1h0M179.2 447.3h0M199.2 440.8h0M202.2 441.5h0M162.5 437.7h0M162.5 442.2h0M166.8 448.2h0M188.1 443.0h0M188.6 443.5h0M182.2 444.7h0M185.8 444.2h0M200.9 441.5h0M162.9 446.0h0M163.2 440.2h0M164.4 441.6h0M199.2 440.7h0M169.8 447.4h0M195.1 442.2h0M190.5 443.5h0M184.0 443.8h0M165.1 427.6h0M184.0 445.3h0M164.2 424.0h0M206.6 440.5h0M163.7 435.8h0M185.9 444.1h0M165.6 447.0h0M175.5 445.6h0M163.2 426.0h0M161.6 434.2h0M197.6 442.6h0M163.7 445.9h0M162.1 442.4h0M164.5 421.4h0M164.0 447.2h0M163.4 425.2h0M162.7 436.1h0M184.3 444.4h0M164.7 449.3h0M186.3 444.9h0M169.3 450.0h0M165.2 421.9h0M163.6 424.1h0M203.0 440.3h0M160.8 429.4h0M160.4 435.8h0M201.1 441.8h0M204.2 439.1h0M200.8 439.9h0M200.2 441.3h0M165.1 424.2h0M184.9 445.3h0M164.2 449.0h0M201.4 440.4h0M178.7 445.7h0M164.8 426.4h0M162.6 443.6h0M163.9 447.9h0M174.2 446.6h0M161.5 434.4h0M165.4 424.8h0M203.1 440.0h0M179.7 446.8h0M166.3 421.5h0M162.9 439.8h0M163.9 443.2h0M168.2 447.0h0M173.6 448.0h0M160.3 435.7h0M160.5 430.5h0M167.3 449.9h0M199.5 443.2h0M166.8 448.0h0M166.7 420.9h0M166.4 420.9h0M195.2 442.1h0M166.0 427.6h0M168.3 449.0h0M169.8 446.8h0M188.3 443.9h0M183.1 444.5h0M162.9 441.9h0M196.9 440.2h0M163.8 426.7h0M164.9 451.8h0M164.0 423.2h0M162.7 428.2h0M167.5 448.4h0M177.2 444.1h0M193.8 441.9h0M201.8 441.2h0M172.7 445.8h0M178.0 445.0h0M165.9 421.3h0M184.9 444.9h0M195.1 441.2h0M165.3 447.0h0M204.0 439.9h0M181.6 446.3h0M161.0 434.2h0M191.8 442.0h0M205.4 439.3h0M163.5 428.5h0M178.0 446.5h0M168.2 448.9h0M169.4 447.1h0M183.4 445.2h0M190.8 441.8h0M187.5 443.8h0M161.6 427.2h0M166.2 417.4h0M178.1 445.4h0M189.7 443.8h0M188.7 441.5h0M166.1 447.1h0" stroke="#0a7476" stroke-width="1.50" stroke-linecap="round" stroke-opacity="1.0" fill="none"/>
<path d="M219.2 403.9h0M206.9 391.6h0M211.1 394.4h0M214.0 395.6h0M210.3 392.8h0M214.9 396.5h0M213.7 395.8h0M211.3 394.6h0M214.6 398.6h0M215.0 402.4h0M216.6 398.6h0M212.5 396.5h0M208.1 392.4h0M213.7 402.4h0M211.8 395.5h0M211.3 395.7h0M210.8 393.8h0M218.5 401.9h0M210.6 394.0h0M208.0 393.8h0M217.6 404.0h0M209.7 395.5h0M214.9 398.4h0M216.1 396.6h0M215.5 400.6h0M212.9 397.8h0M216.5 403.1h0M216.2 403.0h0M216.6 401.8h0M206.8 394.1h0M214.2 398.8h0M208.4 395.6h0M215.2 404.9h0M213.9 398.5h0M209.5 395.3h0M213.3 398.7h0M211.0 395.2h0M209.6 394.6h0M212.1 395.9h0M216.6 400.8h0" stroke="#0a7476" stroke-width="1.50" stroke-linecap="round" stroke-opacity="1.0" fill="none"/>
<path d="M100.1 451.8h0M94.2 460.0h0M94.8 455.8h0M93.5 459.6h0M96.7 458.1h0M93.0 456.1h0M98.4 459.9h0M100.0 455.8h0M97.3 457.7h0M100.2 450.8h0M101.8 454.6h0M96.8 458.6h0M97.5 453.1h0M98.6 453.8h0M96.6 455.3h0M93.9 459.7h0M99.7 452.5h0M96.2 455.8h0M94.5 455.7h0M99.9 455.3h0M95.5 454.4h0M99.0 456.3h0M98.8 452.9h0M91.5 456.7h0M100.0 450.2h0M99.7 454.5h0M92.8 455.9h0M98.5 455.5h0M96.7 457.9h0M96.2 456.2h0" stroke="#6f9fd0" stroke-width="1.50" stroke-linecap="round" stroke-opacity="1.0" fill="none"/>
<path d="M134.8 519.6h0M142.9 514.1h0M137.8 519.9h0M129.9 510.3h0M133.4 514.6h0M140.4 514.6h0M137.0 518.0h0M133.7 516.0h0M140.3 512.4h0M137.9 517.1h0M139.1 505.9h0M136.3 515.4h0M139.4 521.1h0M129.8 507.9h0M135.0 504.9h0M138.1 515.4h0M133.4 509.6h0M135.8 514.6h0M131.0 521.0h0M134.8 507.1h0M137.1 505.4h0M131.9 514.6h0M133.9 505.5h0M138.4 508.5h0M130.7 509.1h0M140.9 519.8h0M140.9 508.0h0M134.4 513.7h0M136.4 520.8h0M140.4 513.1h0M130.3 521.9h0M140.0 517.5h0M137.3 513.8h0M137.8 504.9h0M137.9 505.8h0M141.9 505.9h0M132.5 517.4h0M130.5 507.4h0M135.9 520.9h0M140.7 515.7h0M141.4 513.1h0M134.8 519.0h0M133.9 518.8h0M137.3 505.9h0M128.4 512.7h0M133.3 521.7h0M128.8 512.6h0M140.0 509.7h0M138.9 510.9h0M137.4 516.1h0M136.9 510.1h0M141.9 510.8h0M137.7 507.1h0M134.9 506.9h0M135.0 521.5h0M134.6 515.0h0M138.9 511.8h0M137.8 517.7h0M139.8 505.4h0M137.6 517.9h0M140.6 514.5h0M139.9 518.5h0M141.2 508.1h0M129.5 509.4h0M129.4 513.5h0M130.3 511.9h0M133.7 514.5h0M133.0 506.0h0M134.1 515.5h0M136.6 515.5h0M142.8 508.8h0M134.0 514.3h0M129.4 516.0h0M140.7 519.0h0M137.7 510.0h0M130.2 511.7h0M133.2 519.4h0M137.6 520.5h0M129.8 513.2h0M131.9 515.5h0M143.5 515.4h0M131.3 519.0h0M138.8 516.0h0M142.6 506.3h0M140.3 519.4h0M136.1 512.0h0M133.2 505.7h0M136.5 519.5h0M137.3 510.3h0M134.2 508.8h0M128.5 511.7h0M130.7 517.9h0M136.2 513.1h0M131.0 506.9h0M129.9 509.9h0M136.7 513.2h0M134.7 513.1h0M128.9 511.4h0M138.6 520.5h0M133.1 509.5h0M138.6 512.7h0M141.5 515.4h0M134.4 510.0h0M130.7 519.5h0M134.0 507.2h0M141.0 518.2h0M140.4 515.0h0M138.3 520.6h0M140.9 516.1h0M134.9 513.3h0" stroke="#b5084e" stroke-width="1.50" stroke-linecap="round" stroke-opacity="1.0" fill="none"/>
<path d="M151.0 514.5h0M148.6 515.4h0M148.5 513.8h0M146.0 515.5h0M152.6 516.8h0M148.0 514.2h0" stroke="#5ab0b0" stroke-width="1.50" stroke-linecap="round" stroke-opacity="1.0" fill="none"/>
<path d="M278.7 491.2h0M277.8 484.1h0M261.8 484.3h0M268.7 486.2h0M273.5 492.9h0M262.8 483.3h0M270.2 482.1h0M274.0 483.2h0M276.1 480.8h0M260.7 492.2h0M273.4 490.1h0M267.6 492.6h0M278.7 490.9h0M276.3 492.8h0M260.7 491.1h0M260.8 488.3h0M263.5 483.7h0M269.7 491.9h0M276.4 481.4h0M273.5 486.8h0M274.0 489.8h0M280.8 487.8h0M260.7 494.0h0M273.5 483.7h0M278.5 492.2h0M266.4 484.1h0M260.7 493.1h0M273.9 488.1h0M262.2 489.7h0M279.7 491.7h0M267.3 484.1h0M279.4 489.7h0M259.9 486.3h0M272.6 481.2h0M274.6 487.0h0M272.8 488.6h0M274.8 482.4h0M266.8 490.7h0M271.4 481.7h0M259.8 489.1h0M264.2 492.9h0M277.1 484.5h0M269.9 489.2h0M259.2 484.2h0M266.0 485.0h0M271.3 484.7h0M273.7 480.8h0M274.6 485.2h0M271.1 487.5h0M269.8 487.9h0M262.6 484.5h0M267.0 484.0h0M279.0 482.1h0M265.0 481.2h0M264.0 482.8h0M268.1 485.0h0M272.3 487.9h0M268.4 484.2h0M269.4 488.1h0M265.6 493.8h0M276.4 491.4h0M271.8 491.8h0M267.8 490.8h0M266.1 490.8h0M261.9 488.0h0M272.4 483.6h0M277.5 479.2h0M261.3 486.7h0M274.4 477.4h0M273.2 480.8h0M269.5 485.5h0M274.6 483.9h0M275.7 482.2h0M279.8 483.0h0M279.6 488.8h0M273.5 489.2h0M276.6 487.5h0M280.1 487.4h0M261.1 485.7h0M277.0 489.1h0M260.1 485.1h0M279.9 484.5h0M280.6 483.3h0M270.0 482.1h0M279.6 484.1h0M272.6 490.8h0M276.5 485.5h0M277.1 488.9h0M265.3 485.3h0M270.3 486.5h0" stroke="#f5a9b8" stroke-width="1.50" stroke-linecap="round" stroke-opacity="1.0" fill="none"/>
<path d="M244.7 504.3h0M239.7 507.1h0M239.7 503.9h0M247.7 502.7h0M246.5 505.6h0M245.4 505.0h0M242.8 507.5h0M241.5 506.6h0M241.0 507.3h0M239.2 505.6h0M245.1 505.3h0M241.2 505.5h0M244.1 504.6h0M240.9 502.5h0M243.5 507.6h0M241.4 504.3h0M239.7 507.2h0M240.3 502.9h0M247.2 502.3h0M241.3 507.9h0" stroke="#b8187e" stroke-width="1.50" stroke-linecap="round" stroke-opacity="1.0" fill="none"/>
<path d="M228.1 532.5h0M229.7 544.0h0M233.9 546.3h0M234.6 530.4h0M235.0 531.0h0M227.0 539.6h0M237.2 535.9h0M230.2 530.8h0M235.1 534.7h0M228.0 531.1h0M225.8 532.3h0M237.4 539.7h0M238.7 540.9h0M231.9 541.2h0M235.2 532.4h0M228.1 543.0h0M234.5 539.6h0M231.0 547.9h0M234.6 546.7h0M229.3 551.0h0M228.7 533.3h0M234.4 541.2h0M225.8 535.7h0M234.3 541.1h0M228.2 530.9h0M239.0 538.4h0M228.7 538.4h0M232.7 549.3h0M232.4 533.7h0M237.0 544.6h0M227.5 549.2h0M231.9 544.5h0M224.5 539.8h0M236.6 547.2h0M236.7 537.8h0M228.0 548.6h0M232.4 549.8h0M227.0 531.9h0M230.9 543.3h0M228.2 531.9h0M237.4 541.3h0M231.0 546.2h0M234.5 549.9h0M230.3 530.8h0M225.1 543.6h0M232.5 542.1h0M238.6 534.3h0M229.6 549.9h0M234.8 530.7h0M230.0 531.6h0M235.4 543.9h0M231.5 528.1h0M232.1 533.2h0M232.2 532.6h0M234.0 547.5h0M234.0 527.9h0M225.4 537.0h0M235.0 539.7h0M231.7 551.6h0M231.6 550.8h0M235.0 537.4h0M237.7 532.2h0M227.2 549.7h0M229.7 538.5h0M234.6 550.1h0M232.9 551.0h0M235.3 542.8h0M233.9 533.3h0M238.0 532.6h0M238.6 545.2h0M229.6 530.8h0M236.6 543.9h0M237.5 531.6h0M226.7 531.7h0M232.2 545.9h0M229.9 529.6h0M231.8 538.1h0M232.3 533.9h0M227.9 537.0h0M237.3 548.8h0" stroke="#ee6a98" stroke-width="1.50" stroke-linecap="round" stroke-opacity="1.0" fill="none"/>
<path d="M217.9 547.0h0M209.8 543.4h0M210.9 541.5h0M217.0 546.6h0M212.5 550.2h0M209.4 547.9h0M209.2 548.8h0M214.7 547.3h0M217.1 544.5h0M215.2 549.4h0M218.7 546.8h0M206.8 544.6h0M218.5 547.8h0M208.3 548.7h0M208.0 546.0h0M217.9 550.9h0M216.7 542.9h0M216.2 543.0h0M216.4 543.7h0M213.5 538.8h0M215.8 548.4h0M207.6 542.2h0M213.2 551.0h0M209.1 540.2h0M210.7 540.4h0M211.0 539.6h0M217.7 542.0h0M217.5 549.3h0M216.6 547.5h0M207.1 543.0h0M219.1 548.7h0M209.7 551.6h0M213.7 542.5h0M213.4 541.1h0M214.9 540.1h0M208.5 549.5h0M214.0 544.1h0M214.5 542.2h0M218.4 551.0h0M206.3 544.6h0M212.3 547.0h0M218.3 544.1h0M211.2 547.6h0M210.4 539.5h0M215.9 544.2h0" stroke="#3aa5c5" stroke-width="1.50" stroke-linecap="round" stroke-opacity="1.0" fill="none"/>
<path d="M205.6 537.8h0M201.9 533.3h0M202.2 534.7h0M205.1 536.2h0M206.6 536.9h0M202.3 533.3h0M204.8 537.0h0M202.2 533.0h0" stroke="#3aa5c5" stroke-width="1.50" stroke-linecap="round" stroke-opacity="1.0" fill="none"/>
<path d="M240.3 556.8h0M238.5 561.9h0M241.7 561.5h0M198.9 575.2h0M241.1 556.4h0M244.2 563.4h0M197.6 579.1h0M201.3 586.7h0M205.1 581.9h0M215.9 589.3h0M208.1 590.1h0M223.6 572.0h0M199.2 582.4h0M203.0 572.4h0M212.5 597.0h0M222.0 561.9h0M191.2 565.7h0M222.8 584.7h0M222.2 587.3h0M207.5 578.2h0M237.9 568.9h0M217.6 582.6h0M204.2 562.2h0M220.8 579.0h0M238.6 564.7h0M228.0 576.5h0M215.8 580.3h0M209.5 597.0h0M216.6 576.6h0M213.4 565.4h0M226.2 586.2h0M242.4 567.0h0M205.0 578.8h0M237.9 575.9h0M231.8 565.3h0M225.5 558.4h0M201.3 574.2h0M202.3 573.1h0M215.6 564.4h0M214.7 582.7h0M238.4 561.2h0M195.3 570.0h0M236.7 573.1h0M236.1 561.3h0M238.1 567.7h0M231.5 571.0h0M239.1 569.9h0M195.9 577.0h0M210.4 562.7h0M226.5 574.0h0M217.9 565.0h0M222.9 583.1h0M215.4 591.6h0M219.3 569.3h0M235.1 574.2h0M218.6 575.2h0M204.3 585.6h0M210.7 579.1h0M218.6 598.1h0M217.0 559.2h0M212.1 590.4h0M248.0 561.2h0M222.3 559.9h0M215.4 596.5h0M226.7 586.0h0M213.0 588.5h0M225.1 581.9h0M209.1 569.2h0M213.1 599.8h0M214.6 557.6h0M242.0 563.5h0M238.8 557.5h0M245.4 567.1h0M198.7 579.7h0M207.4 566.6h0M192.2 566.5h0M222.7 583.0h0M232.9 576.8h0M233.1 577.3h0M200.1 585.4h0M222.7 566.9h0M198.5 574.8h0M197.0 571.1h0M213.0 570.1h0M226.3 574.2h0M215.9 580.4h0M212.3 585.7h0M225.5 571.4h0M221.4 583.6h0M205.6 560.8h0M195.4 575.6h0M230.7 584.0h0M198.6 576.6h0M222.8 582.4h0M205.7 577.5h0M216.3 567.6h0M215.8 584.3h0M209.7 587.7h0M203.7 562.0h0M201.4 560.9h0M223.1 580.3h0M212.7 572.0h0M213.4 581.2h0M214.3 598.8h0M222.5 571.2h0M219.8 564.5h0M211.9 579.8h0M206.2 572.2h0M241.3 562.9h0M199.0 567.4h0M203.1 561.2h0M212.7 585.3h0M233.4 578.3h0M218.5 564.9h0M211.3 600.2h0M212.7 582.3h0M199.6 580.4h0M224.8 557.8h0M224.2 562.4h0M193.1 568.6h0M244.2 566.0h0M209.6 593.1h0M236.2 573.3h0M211.9 573.9h0M212.1 570.1h0M221.3 562.6h0M234.0 559.7h0M219.5 577.1h0M201.8 563.0h0M193.8 567.3h0M232.0 557.6h0M234.6 571.2h0M236.7 569.9h0M229.1 561.3h0M208.5 589.2h0M214.0 578.6h0M214.8 565.5h0M219.9 563.7h0M215.4 586.9h0M223.7 583.5h0M234.8 578.4h0M206.0 589.6h0M220.7 595.4h0M240.3 562.9h0M210.0 591.9h0M212.9 602.3h0M219.7 582.7h0M223.1 568.0h0M207.2 564.1h0M213.4 580.4h0M225.5 559.8h0M206.2 561.0h0M228.0 573.2h0M214.4 572.0h0M195.9 565.4h0M205.3 589.9h0M197.2 575.7h0M207.0 564.2h0M229.4 586.1h0M223.5 585.8h0M243.0 567.5h0M199.5 565.0h0M217.8 594.0h0M239.7 569.0h0M208.8 563.5h0M220.9 567.5h0M224.2 559.3h0M204.6 570.5h0M202.4 565.6h0M221.7 592.6h0M235.9 558.3h0M214.7 562.4h0M231.2 575.9h0M208.5 598.8h0M213.2 560.4h0M205.4 590.7h0M218.4 563.2h0M232.4 559.5h0M232.1 572.2h0M203.0 576.0h0M207.9 580.0h0M200.8 562.2h0M219.9 561.5h0M212.2 566.6h0M208.8 590.7h0M210.8 592.6h0M221.0 587.7h0M245.9 564.9h0M214.2 583.1h0M216.3 573.1h0M209.1 559.6h0M203.6 583.3h0M207.1 590.2h0M234.3 578.8h0M227.2 584.0h0M208.4 595.9h0M202.4 576.6h0M215.9 593.6h0M224.1 560.1h0M232.7 575.9h0M213.9 589.3h0M210.5 575.3h0M243.6 560.1h0M223.2 577.7h0M235.5 574.0h0M215.0 572.1h0M225.7 558.2h0M222.5 561.5h0M207.1 566.8h0M230.7 584.9h0M196.5 570.9h0M218.1 586.2h0M214.6 573.1h0M232.3 580.8h0M234.5 562.9h0M236.6 558.8h0M224.9 579.2h0M212.7 589.9h0M224.0 559.0h0M213.4 569.9h0M201.3 567.7h0M192.8 570.8h0M205.7 564.6h0M199.2 567.0h0M197.0 572.3h0M204.0 582.2h0M206.0 571.1h0M212.0 565.8h0M220.8 573.1h0M226.6 563.6h0M221.3 571.3h0M206.9 585.4h0M225.3 583.4h0M214.1 559.2h0M198.4 575.5h0M209.7 559.9h0M203.6 585.8h0M205.9 558.9h0M228.5 556.6h0M219.8 594.4h0M205.5 566.2h0M203.5 582.5h0M225.6 568.9h0M216.2 572.1h0M239.0 567.5h0M209.4 580.3h0M207.0 575.6h0M210.4 592.7h0M206.9 574.8h0M209.2 573.3h0M197.6 576.5h0M204.5 583.8h0M201.9 568.6h0M217.9 594.8h0M232.5 566.3h0M214.9 578.9h0M203.0 563.3h0M222.8 575.2h0M204.9 586.1h0M236.0 567.3h0M237.3 563.1h0M204.4 569.1h0M223.7 572.7h0M217.1 595.0h0M242.2 567.9h0M239.9 570.6h0M237.9 560.1h0M210.8 599.7h0M216.4 596.2h0M211.6 563.4h0M196.6 563.4h0M230.7 557.3h0M228.9 576.5h0M210.4 592.3h0M220.2 597.0h0M200.4 580.3h0M219.4 565.7h0M208.3 563.7h0M213.7 580.8h0M225.1 582.0h0M212.6 561.2h0M195.6 568.6h0M240.4 560.9h0M221.6 595.0h0M238.4 567.2h0M216.2 592.8h0M216.4 582.4h0M210.5 564.7h0M215.8 567.6h0M222.7 566.1h0M210.2 578.5h0M208.5 559.9h0M230.2 569.1h0M195.5 573.3h0M217.8 588.3h0M222.5 558.8h0M225.8 571.9h0M236.1 578.2h0M226.5 578.9h0M213.1 570.4h0M231.9 570.0h0M217.6 591.9h0M216.0 567.0h0M218.1 584.6h0M227.6 563.6h0M198.3 578.3h0M242.0 567.6h0M238.9 569.4h0M229.0 567.6h0M240.3 559.2h0M224.2 583.0h0M213.9 582.0h0M213.9 579.3h0M196.2 569.8h0M227.2 583.0h0M208.1 591.3h0M233.4 558.3h0M221.3 594.6h0M201.2 584.6h0M221.0 561.5h0M237.6 561.5h0M218.5 575.3h0M207.6 560.9h0M218.2 557.1h0M246.5 564.7h0M200.4 580.3h0M232.1 570.6h0M206.9 567.1h0M238.8 568.3h0M214.6 587.0h0M219.6 595.4h0M230.9 582.1h0M210.3 600.8h0M216.5 588.1h0M228.1 588.1h0M216.2 564.1h0M202.5 560.2h0M227.9 572.2h0M223.6 557.3h0M226.1 576.7h0M210.6 572.1h0M210.7 588.3h0M232.5 565.0h0M196.9 565.2h0M234.9 566.0h0M221.7 578.3h0M235.2 572.3h0M215.3 571.6h0M220.6 594.2h0M233.2 562.8h0M218.3 596.5h0M229.6 577.5h0M201.2 575.3h0M230.7 572.9h0M238.1 559.5h0M219.5 568.9h0M226.5 559.6h0M223.8 559.5h0M230.4 578.9h0M214.3 577.0h0M221.9 581.2h0M223.3 564.8h0M234.8 568.3h0M197.3 577.9h0M193.5 572.3h0M206.0 585.7h0M235.1 563.0h0M200.2 581.1h0M225.4 581.6h0M223.2 570.2h0M221.2 570.0h0M213.0 599.2h0M243.2 557.4h0M210.7 586.4h0M228.4 568.3h0M192.4 568.4h0M242.2 564.5h0M220.3 584.6h0M206.9 563.6h0M221.9 594.5h0M201.1 582.7h0M220.8 585.4h0M207.6 590.2h0M237.8 572.8h0M204.8 578.0h0M220.4 577.0h0M221.5 594.6h0M223.2 570.8h0M237.0 570.4h0M231.3 574.4h0M224.2 583.3h0M209.7 599.5h0M207.1 598.0h0M213.3 571.9h0M203.8 574.2h0M235.0 557.6h0M221.2 576.1h0M203.7 581.0h0M206.9 564.1h0M220.0 589.7h0M195.6 562.5h0M221.4 563.9h0M224.3 573.7h0M232.5 574.5h0M210.6 573.9h0M238.5 563.7h0M224.8 591.0h0M206.0 596.2h0M209.9 593.9h0M206.5 566.4h0M203.9 571.9h0M230.3 581.1h0M221.8 564.8h0M212.2 563.9h0M213.1 585.0h0M209.4 578.1h0M239.6 561.6h0M197.9 579.2h0M217.0 561.1h0M231.3 568.3h0M202.6 589.4h0M236.5 576.1h0M205.1 578.7h0M223.1 562.7h0M214.6 563.1h0M231.7 570.7h0M195.0 564.1h0M214.2 574.6h0M223.8 593.1h0M222.2 586.0h0M218.0 566.5h0M223.4 587.0h0M217.7 569.8h0M200.8 569.2h0M193.2 571.8h0M242.7 560.3h0M201.7 571.4h0M227.5 567.1h0M228.0 565.1h0M198.3 570.4h0M199.2 565.5h0M237.1 575.5h0M208.3 596.7h0M214.3 599.9h0M204.8 573.5h0M221.4 588.0h0M198.6 572.9h0M211.4 589.9h0M210.3 599.5h0M217.1 560.5h0M213.0 576.4h0M208.1 585.9h0M192.3 570.6h0M232.7 571.0h0M208.0 593.5h0M224.6 564.0h0M218.0 566.4h0M243.5 558.6h0M205.4 568.0h0M196.5 576.2h0M216.9 595.7h0M231.7 563.2h0M201.9 566.0h0M204.9 583.6h0M224.3 586.0h0M204.5 588.6h0M222.2 571.8h0M220.4 582.5h0M208.3 589.2h0M211.2 576.8h0M210.4 569.1h0M211.0 595.3h0M230.8 570.9h0M223.5 591.4h0M240.6 560.2h0M218.5 593.9h0M223.0 565.5h0M234.0 567.3h0M217.2 567.8h0M208.5 582.6h0M215.9 592.0h0M222.3 564.5h0M194.9 573.5h0M238.4 575.5h0M205.6 563.7h0M209.6 563.4h0M242.8 565.5h0M219.7 593.9h0M221.7 559.1h0M221.2 557.3h0M231.4 577.9h0M218.4 573.7h0M236.4 568.9h0M203.7 577.2h0M235.3 573.9h0M233.3 565.1h0M217.0 572.5h0M234.9 571.7h0M240.1 564.0h0M199.2 572.7h0M212.9 576.4h0M225.5 573.9h0M198.5 576.7h0M234.0 580.3h0M226.1 560.7h0M197.4 563.3h0M208.7 577.4h0M203.4 576.5h0M214.1 590.3h0M198.5 575.5h0M212.8 576.6h0M208.2 595.2h0M246.3 566.2h0M227.0 561.7h0M224.8 564.7h0M243.6 561.0h0M225.9 569.7h0M217.5 568.2h0M203.5 592.2h0M220.2 566.3h0M219.8 578.4h0M199.7 569.2h0M219.9 583.7h0M213.4 574.2h0M199.2 581.5h0M245.6 559.7h0M206.2 587.2h0M234.5 571.2h0M202.6 587.9h0M209.0 570.0h0M223.8 569.2h0M213.3 564.5h0M214.6 571.7h0M209.8 571.9h0M207.1 577.1h0M207.6 559.4h0M214.2 569.9h0M214.2 574.6h0M237.4 576.8h0M197.5 562.4h0M205.9 562.7h0M238.6 565.9h0M217.1 572.3h0M209.8 574.5h0M235.1 566.1h0M216.5 569.7h0M227.9 562.0h0M203.7 583.6h0M204.5 590.1h0M194.2 569.5h0M213.0 568.1h0M220.8 561.9h0M190.3 566.2h0M232.8 570.2h0M209.9 592.7h0M200.1 583.7h0M203.7 574.1h0M211.4 559.3h0M217.3 586.2h0M235.9 573.7h0M206.2 587.4h0M236.7 574.8h0M219.7 561.7h0M236.0 568.9h0M200.9 565.9h0M214.5 594.7h0M211.6 562.7h0M217.1 564.7h0M237.2 557.3h0M220.0 569.2h0M210.3 573.2h0M198.3 563.5h0M216.9 590.9h0M203.1 569.3h0M240.7 571.6h0M215.6 558.1h0M207.8 572.6h0M237.0 569.6h0M242.0 568.6h0M221.8 557.5h0M228.4 563.3h0M230.5 571.2h0M221.7 573.8h0M217.6 579.2h0M210.1 562.2h0M225.0 569.9h0M207.2 598.4h0M204.7 592.5h0M226.6 577.1h0M223.1 589.9h0M244.2 566.8h0M224.3 560.7h0M194.8 573.7h0M207.0 589.4h0M196.5 566.3h0M207.2 571.1h0M204.9 576.4h0M234.0 577.6h0M209.9 566.8h0M215.6 599.2h0M219.5 564.4h0M205.8 567.4h0M220.4 586.4h0M204.3 587.0h0M239.2 556.4h0M221.6 594.8h0M219.6 573.1h0M226.8 557.3h0M227.6 585.7h0M193.5 567.6h0M210.4 568.3h0M196.4 575.4h0M212.1 571.3h0M217.2 598.1h0M204.5 593.9h0M212.4 599.6h0M214.5 567.9h0M220.6 570.2h0M227.7 564.1h0M238.2 564.6h0" stroke="#d8ecaa" stroke-width="1.50" stroke-linecap="round" stroke-opacity="1.0" fill="none"/>
<path d="M193.9 569.9h0M198.6 565.3h0M192.6 567.5h0M195.8 568.7h0M193.1 573.0h0M195.7 566.7h0M191.7 572.1h0M190.4 571.2h0M189.4 569.6h0M197.0 570.0h0M189.8 571.6h0M198.6 566.0h0M191.7 568.1h0M198.5 566.5h0M200.3 566.6h0M193.5 567.0h0M193.8 568.7h0M190.0 566.5h0M195.8 565.2h0M195.8 564.3h0M198.8 569.4h0M194.3 564.2h0M189.6 570.9h0M190.9 571.6h0M193.2 572.1h0M197.2 571.6h0M200.8 569.6h0M196.4 571.8h0M193.2 566.8h0M195.6 568.3h0M192.3 567.5h0M194.6 570.6h0M194.1 566.4h0M200.0 571.0h0M189.6 569.3h0M192.9 570.3h0M197.6 566.9h0M195.4 569.9h0M190.7 571.2h0M193.1 573.3h0M191.3 565.7h0M199.1 572.5h0M192.4 570.6h0M195.1 568.2h0M197.1 567.6h0M194.1 567.4h0M191.6 569.5h0M198.9 566.8h0M191.9 570.5h0M197.1 566.4h0M195.0 566.7h0M199.1 568.3h0M195.0 567.9h0M191.4 566.8h0M191.5 567.8h0M191.9 568.4h0M199.4 572.5h0M191.0 568.3h0M199.5 565.6h0M196.5 567.2h0" stroke="#7fcdb6" stroke-width="1.50" stroke-linecap="round" stroke-opacity="1.0" fill="none"/>
<line x1="70.0" y1="57.0" x2="70.0" y2="288.9" stroke="#000" stroke-width="1.8" />
<line x1="69.1" y1="288.0" x2="296.0" y2="288.0" stroke="#000" stroke-width="1.8" />
<line x1="67.0" y1="112.5" x2="70.0" y2="112.5" stroke="#000" stroke-width="1.8" />
<text x="65.5" y="119.3" font-size="19.5" text-anchor="end" font-weight="normal" font-style="normal" fill="#000" >5</text>
<line x1="67.0" y1="176.7" x2="70.0" y2="176.7" stroke="#000" stroke-width="1.8" />
<text x="65.5" y="183.5" font-size="19.5" text-anchor="end" font-weight="normal" font-style="normal" fill="#000" >0</text>
<line x1="67.0" y1="241.4" x2="70.0" y2="241.4" stroke="#000" stroke-width="1.8" />
<text x="65.5" y="248.2" font-size="19.5" text-anchor="end" font-weight="normal" font-style="normal" fill="#000" >−5</text>
<line x1="75.0" y1="288.0" x2="75.0" y2="291.0" stroke="#000" stroke-width="1.8" />
<text x="74.2" y="306.6" font-size="19.5" text-anchor="middle" font-weight="normal" font-style="normal" fill="#000" >−10</text>
<line x1="129.8" y1="288.0" x2="129.8" y2="291.0" stroke="#000" stroke-width="1.8" />
<text x="129.0" y="306.6" font-size="19.5" text-anchor="middle" font-weight="normal" font-style="normal" fill="#000" >−5</text>
<line x1="184.0" y1="288.0" x2="184.0" y2="291.0" stroke="#000" stroke-width="1.8" />
<text x="183.2" y="306.6" font-size="19.5" text-anchor="middle" font-weight="normal" font-style="normal" fill="#000" >0</text>
<line x1="238.6" y1="288.0" x2="238.6" y2="291.0" stroke="#000" stroke-width="1.8" />
<text x="237.8" y="306.6" font-size="19.5" text-anchor="middle" font-weight="normal" font-style="normal" fill="#000" >5</text>
<line x1="292.9" y1="288.0" x2="292.9" y2="291.0" stroke="#000" stroke-width="1.8" />
<text x="292.1" y="306.6" font-size="19.5" text-anchor="middle" font-weight="normal" font-style="normal" fill="#000" >10</text>
<text x="82.5" y="72.0" font-size="20.4" text-anchor="start" font-weight="normal" font-style="normal" fill="#000" >N = 35358</text>
<text transform="translate(51.5,155.0) rotate(-90)" font-size="20.3" text-anchor="middle">UMAP_2</text>
<text x="183.0" y="330.0" font-size="20" text-anchor="middle" font-weight="normal" font-style="normal" fill="#000" >UMAP_1</text>
<line x1="78.0" y1="383.0" x2="78.0" y2="613.9" stroke="#000" stroke-width="1.8" />
<line x1="77.1" y1="613.0" x2="292.5" y2="613.0" stroke="#000" stroke-width="1.8" />
<line x1="75.0" y1="407.9" x2="78.0" y2="407.9" stroke="#000" stroke-width="1.8" />
<text x="73.5" y="414.7" font-size="19.5" text-anchor="end" font-weight="normal" font-style="normal" fill="#000" >10</text>
<line x1="75.0" y1="450.8" x2="78.0" y2="450.8" stroke="#000" stroke-width="1.8" />
<text x="73.5" y="457.6" font-size="19.5" text-anchor="end" font-weight="normal" font-style="normal" fill="#000" >5</text>
<line x1="75.0" y1="492.3" x2="78.0" y2="492.3" stroke="#000" stroke-width="1.8" />
<text x="73.5" y="499.1" font-size="19.5" text-anchor="end" font-weight="normal" font-style="normal" fill="#000" >0</text>
<line x1="75.0" y1="534.4" x2="78.0" y2="534.4" stroke="#000" stroke-width="1.8" />
<text x="73.5" y="541.2" font-size="19.5" text-anchor="end" font-weight="normal" font-style="normal" fill="#000" >−5</text>
<line x1="75.0" y1="576.4" x2="78.0" y2="576.4" stroke="#000" stroke-width="1.8" />
<text x="73.5" y="583.2" font-size="19.5" text-anchor="end" font-weight="normal" font-style="normal" fill="#000" >−10</text>
<line x1="114.0" y1="613.0" x2="114.0" y2="616.0" stroke="#000" stroke-width="1.8" />
<text x="113.2" y="631.6" font-size="19.5" text-anchor="middle" font-weight="normal" font-style="normal" fill="#000" >−10</text>
<line x1="156.8" y1="613.0" x2="156.8" y2="616.0" stroke="#000" stroke-width="1.8" />
<text x="156.0" y="631.6" font-size="19.5" text-anchor="middle" font-weight="normal" font-style="normal" fill="#000" >−5</text>
<line x1="199.4" y1="613.0" x2="199.4" y2="616.0" stroke="#000" stroke-width="1.8" />
<text x="198.6" y="631.6" font-size="19.5" text-anchor="middle" font-weight="normal" font-style="normal" fill="#000" >0</text>
<line x1="242.3" y1="613.0" x2="242.3" y2="616.0" stroke="#000" stroke-width="1.8" />
<text x="241.5" y="631.6" font-size="19.5" text-anchor="middle" font-weight="normal" font-style="normal" fill="#000" >5</text>
<line x1="285.6" y1="613.0" x2="285.6" y2="616.0" stroke="#000" stroke-width="1.8" />
<text x="284.8" y="631.6" font-size="19.5" text-anchor="middle" font-weight="normal" font-style="normal" fill="#000" >10</text>
<text x="91.5" y="411.0" font-size="20.4" text-anchor="start" font-weight="normal" font-style="normal" fill="#000" >N = 4261</text>
<text transform="translate(51.5,483.4) rotate(-90)" font-size="20.3" text-anchor="middle">UMAP_2</text>
<text x="185.2" y="655.0" font-size="20" text-anchor="middle" font-weight="normal" font-style="normal" fill="#000" >UMAP_1</text>
<text transform="translate(28,329.5) rotate(-90)" font-size="29.5" text-anchor="middle">Tumor immune cells</text>
</svg>
</body></html>
